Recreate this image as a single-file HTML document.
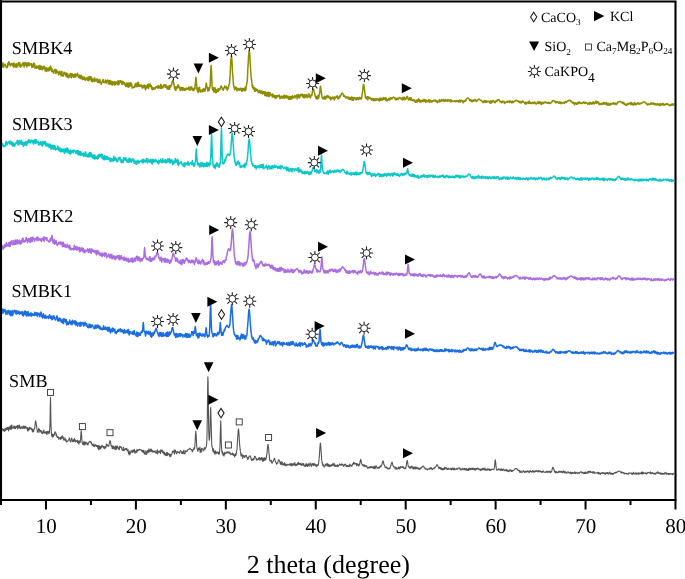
<!DOCTYPE html>
<html><head><meta charset="utf-8"><style>
html,body{margin:0;padding:0;background:#fff;width:685px;height:579px;overflow:hidden;}
svg{display:block;font-family:"Liberation Serif",serif;will-change:transform;text-rendering:geometricPrecision;}
</style></head><body>
<svg width="685" height="579" viewBox="0 0 685 579" font-family="'Liberation Serif', serif" fill="#000">
<polyline points="1.0,66.1 1.3,67.9 1.7,67.0 2.0,64.3 2.4,64.7 2.7,67.1 3.0,62.7 3.4,67.2 3.7,67.0 4.1,65.4 4.4,65.0 4.7,65.0 5.1,64.1 5.4,65.1 5.8,66.2 6.1,66.4 6.4,67.7 6.8,66.6 7.1,65.9 7.5,67.5 7.8,63.3 8.1,63.4 8.5,64.7 8.8,61.8 9.2,62.3 9.5,63.8 9.8,63.7 10.2,66.1 10.5,65.0 10.9,64.3 11.2,64.6 11.5,63.4 11.9,63.5 12.2,64.1 12.6,65.9 12.9,64.0 13.2,64.9 13.6,63.0 13.9,67.2 14.3,63.7 14.6,63.5 14.9,66.6 15.3,64.5 15.6,66.8 16.0,65.9 16.3,67.3 16.6,63.4 17.0,64.7 17.3,65.0 17.7,66.8 18.0,63.9 18.3,65.0 18.7,62.6 19.0,64.3 19.4,63.8 19.7,62.8 20.0,66.6 20.4,64.2 20.7,67.2 21.1,65.2 21.4,65.4 21.7,66.0 22.1,65.3 22.4,63.3 22.8,64.8 23.1,63.5 23.4,64.4 23.8,62.5 24.1,67.2 24.5,63.5 24.8,65.0 25.1,62.5 25.5,65.3 25.8,65.1 26.2,63.0 26.5,65.9 26.8,66.8 27.2,66.0 27.5,64.6 27.9,62.6 28.2,62.9 28.5,65.6 28.9,64.7 29.2,63.1 29.6,65.5 29.9,64.4 30.2,64.8 30.6,63.9 30.9,63.8 31.3,64.5 31.6,63.7 31.9,67.6 32.3,66.7 32.6,66.3 33.0,64.8 33.3,66.9 33.6,63.1 34.0,64.8 34.3,63.8 34.7,64.1 35.0,68.2 35.3,67.7 35.7,66.4 36.0,66.9 36.4,68.4 36.7,66.0 37.0,67.4 37.4,67.4 37.7,66.6 38.1,66.5 38.4,68.1 38.7,68.5 39.1,65.4 39.4,69.4 39.8,65.5 40.1,68.4 40.4,69.1 40.8,66.1 41.1,67.5 41.5,69.3 41.8,66.2 42.1,68.4 42.5,69.7 42.8,68.3 43.2,69.0 43.5,66.6 43.8,66.3 44.2,68.3 44.5,66.5 44.9,68.4 45.2,71.0 45.5,69.0 45.9,67.7 46.2,68.1 46.6,71.4 46.9,68.0 47.2,70.5 47.6,68.8 47.9,68.6 48.3,70.9 48.6,69.2 48.9,68.7 49.3,67.3 49.6,70.4 50.0,67.2 50.3,69.1 50.6,66.1 51.0,68.1 51.3,69.7 51.7,71.4 52.0,68.7 52.3,71.8 52.7,71.7 53.0,71.5 53.4,71.6 53.7,73.2 54.0,70.2 54.4,71.0 54.7,70.3 55.1,69.4 55.4,70.9 55.7,73.1 56.1,73.4 56.4,69.8 56.8,71.6 57.1,70.9 57.4,71.9 57.8,72.8 58.1,71.8 58.5,75.0 58.8,73.2 59.1,73.6 59.5,74.0 59.8,71.3 60.2,71.6 60.5,73.1 60.8,74.6 61.2,75.6 61.5,75.2 61.9,71.2 62.2,75.9 62.5,74.8 62.9,76.0 63.2,74.9 63.6,75.8 63.9,72.2 64.2,72.2 64.6,72.5 64.9,73.8 65.3,74.2 65.6,73.3 65.9,76.2 66.3,73.1 66.6,76.4 67.0,74.9 67.3,77.2 67.6,73.6 68.0,74.9 68.3,77.7 68.7,75.8 69.0,77.4 69.3,75.7 69.7,76.0 70.0,74.1 70.4,75.9 70.7,73.4 71.0,77.3 71.4,77.7 71.7,77.4 72.1,73.8 72.4,75.7 72.7,74.4 73.1,74.7 73.4,76.6 73.8,77.3 74.1,74.8 74.4,77.0 74.8,77.1 75.1,73.8 75.5,77.0 75.8,76.7 76.1,74.4 76.5,75.5 76.8,75.6 77.2,75.4 77.5,73.2 77.8,75.9 78.2,76.3 78.5,77.6 78.9,77.6 79.2,75.0 79.5,77.3 79.9,77.9 80.2,78.6 80.6,76.0 80.9,75.2 81.2,78.0 81.6,75.8 81.9,77.7 82.3,79.6 82.6,78.0 82.9,77.1 83.3,78.5 83.6,79.3 84.0,77.1 84.3,78.9 84.6,77.1 85.0,79.7 85.3,80.4 85.7,79.1 86.0,78.6 86.3,79.4 86.7,77.9 87.0,78.0 87.4,79.0 87.7,80.2 88.0,77.0 88.4,80.7 88.7,79.5 89.1,77.6 89.4,76.7 89.7,79.8 90.1,76.8 90.4,77.8 90.8,76.5 91.1,77.3 91.4,81.3 91.8,78.3 92.1,79.0 92.5,81.8 92.8,80.7 93.1,78.8 93.5,80.0 93.8,81.0 94.2,79.8 94.5,81.4 94.8,78.0 95.2,80.7 95.5,80.1 95.9,81.0 96.2,80.4 96.5,79.5 96.9,79.1 97.2,80.9 97.6,82.4 97.9,79.3 98.2,80.3 98.6,81.5 98.9,82.2 99.3,82.9 99.6,80.3 99.9,79.5 100.3,82.5 100.6,81.9 101.0,82.9 101.3,84.4 101.6,83.3 102.0,82.2 102.3,81.7 102.7,80.2 103.0,80.6 103.3,79.5 103.7,82.4 104.0,82.3 104.4,82.7 104.7,81.8 105.0,81.9 105.4,81.2 105.7,80.0 106.1,83.0 106.4,81.3 106.7,80.7 107.1,81.3 107.4,81.8 107.8,80.1 108.1,82.6 108.4,84.0 108.8,81.9 109.1,80.5 109.5,83.7 109.8,84.2 110.1,80.6 110.5,83.4 110.8,83.6 111.2,84.3 111.5,81.2 111.8,81.2 112.2,85.2 112.5,81.8 112.9,81.8 113.2,84.0 113.5,83.0 113.9,84.2 114.2,81.8 114.6,85.1 114.9,81.9 115.2,84.7 115.6,82.0 115.9,83.9 116.3,82.0 116.6,82.2 116.9,82.5 117.3,84.2 117.6,83.0 118.0,80.8 118.3,84.9 118.6,84.7 119.0,84.5 119.3,81.0 119.7,82.5 120.0,81.7 120.3,80.7 120.7,80.8 121.0,82.5 121.4,81.5 121.7,81.4 122.0,84.3 122.4,82.8 122.7,81.3 123.1,83.9 123.4,82.1 123.7,83.4 124.1,82.3 124.4,82.6 124.8,84.8 125.1,83.9 125.4,84.2 125.8,86.5 126.1,86.6 126.5,83.2 126.8,83.0 127.1,82.9 127.5,86.7 127.8,86.5 128.2,83.2 128.5,87.3 128.8,83.3 129.2,84.9 129.5,84.4 129.9,86.5 130.2,82.4 130.5,84.0 130.9,85.6 131.2,83.2 131.6,83.9 131.9,85.1 132.2,88.1 132.6,87.0 132.9,87.3 133.3,87.6 133.6,87.1 133.9,87.4 134.3,86.1 134.6,87.2 135.0,84.5 135.3,84.0 135.6,86.4 136.0,83.3 136.3,86.7 136.7,85.7 137.0,84.2 137.3,86.6 137.7,82.5 138.0,84.0 138.4,82.5 138.7,86.3 139.0,85.4 139.4,86.5 139.7,84.7 140.1,86.4 140.4,85.5 140.7,85.3 141.1,86.1 141.4,85.0 141.8,85.4 142.1,87.4 142.4,88.1 142.8,85.9 143.1,87.4 143.5,85.6 143.8,87.5 144.1,87.8 144.5,85.0 144.8,87.8 145.2,85.6 145.5,89.8 145.8,87.2 146.2,86.1 146.5,87.9 146.9,86.8 147.2,87.8 147.5,84.6 147.9,87.0 148.2,86.5 148.6,88.5 148.9,83.9 149.2,85.4 149.6,86.1 149.9,85.7 150.3,84.1 150.6,86.5 150.9,85.5 151.3,85.7 151.6,88.9 152.0,87.0 152.3,87.7 152.6,89.7 153.0,89.4 153.3,87.9 153.7,89.2 154.0,87.8 154.3,88.4 154.7,89.1 155.0,88.9 155.4,88.2 155.7,87.1 156.0,87.2 156.4,86.5 156.7,87.6 157.1,86.2 157.4,86.8 157.7,88.0 158.1,86.6 158.4,85.5 158.8,88.1 159.1,86.0 159.4,87.9 159.8,87.4 160.1,86.3 160.5,88.2 160.8,84.2 161.1,86.1 161.5,88.4 161.8,86.1 162.2,87.0 162.5,87.2 162.8,87.9 163.2,86.8 163.5,85.8 163.9,84.7 164.2,85.1 164.5,84.7 164.9,85.3 165.2,87.3 165.6,84.7 165.9,85.5 166.2,85.8 166.6,86.7 166.9,88.5 167.3,88.9 167.6,86.6 167.9,86.5 168.3,89.2 168.6,87.1 169.0,88.2 169.3,85.6 169.6,89.3 170.0,87.0 170.3,87.3 170.7,85.5 171.0,86.1 171.3,85.9 171.7,84.7 172.0,82.5 172.4,81.3 172.8,80.4 173.0,80.7 173.4,82.0 173.7,83.2 174.1,85.0 174.4,86.9 174.7,88.8 175.1,86.8 175.4,89.8 175.8,90.5 176.1,88.3 176.4,86.7 176.8,88.8 177.1,86.9 177.5,87.0 177.8,85.2 178.1,84.9 178.5,85.6 178.8,87.1 179.2,88.0 179.5,88.1 179.8,86.9 180.2,90.6 180.5,88.1 180.9,88.2 181.2,88.7 181.5,87.6 181.9,89.2 182.2,90.6 182.6,90.4 182.9,87.5 183.2,87.7 183.6,88.2 183.9,90.0 184.3,88.5 184.6,90.5 184.9,89.4 185.3,89.1 185.6,89.6 186.0,89.9 186.3,88.0 186.6,88.2 187.0,88.9 187.3,88.7 187.7,88.4 188.0,89.3 188.3,89.6 188.7,87.4 189.0,87.0 189.4,88.0 189.7,87.9 190.0,90.3 190.4,86.9 190.7,87.5 191.1,88.4 191.4,89.0 191.7,86.8 192.1,89.8 192.4,88.4 192.8,88.9 193.1,90.6 193.4,88.5 193.8,90.6 194.1,88.2 194.5,89.0 194.8,89.2 195.1,85.8 195.5,82.2 195.9,77.3 196.2,79.5 196.5,83.9 196.8,88.5 197.2,90.2 197.5,91.0 197.9,88.1 198.2,92.6 198.5,91.4 198.9,87.7 199.2,89.0 199.6,87.2 199.9,91.0 200.2,91.7 200.6,92.0 200.9,90.3 201.3,90.8 201.6,90.2 201.9,90.0 202.3,91.8 202.6,89.8 203.0,89.2 203.3,89.8 203.6,88.4 204.0,91.5 204.3,91.2 204.7,89.3 205.0,91.1 205.3,89.7 205.7,87.4 206.0,84.4 206.3,83.1 206.7,85.5 207.0,87.6 207.4,88.4 207.7,90.9 208.1,87.8 208.4,90.7 208.7,90.0 209.1,90.5 209.4,88.6 209.8,86.6 210.1,87.0 210.4,79.4 210.8,70.0 211.1,65.6 211.5,71.5 211.8,79.8 212.1,85.4 212.5,89.8 212.8,88.8 213.2,90.4 213.5,87.8 213.8,91.9 214.2,88.4 214.5,90.4 214.9,87.5 215.2,91.3 215.5,92.7 215.9,89.4 216.2,90.2 216.6,92.5 216.9,90.9 217.2,89.6 217.6,90.1 217.9,89.3 218.3,91.4 218.6,88.7 218.9,90.1 219.3,90.0 219.6,89.9 220.0,88.3 220.3,88.4 220.6,87.3 221.0,86.2 221.2,85.8 221.3,86.7 221.7,87.0 222.0,87.4 222.3,89.2 222.7,88.5 223.0,88.6 223.4,90.2 223.7,88.6 224.0,87.9 224.4,87.4 224.7,86.1 225.1,87.4 225.4,87.7 225.7,87.1 226.1,86.3 226.4,88.6 226.8,87.4 227.1,90.0 227.4,90.1 227.8,87.7 228.1,88.7 228.5,87.7 228.8,85.7 229.1,84.4 229.5,84.1 229.8,79.0 230.2,74.0 230.5,66.7 230.8,61.4 231.2,57.4 231.4,56.5 231.5,56.1 231.9,59.7 232.2,65.3 232.5,72.3 232.9,76.8 233.2,81.3 233.6,85.7 233.9,86.9 234.2,87.5 234.6,89.9 234.9,88.8 235.3,87.0 235.6,88.7 235.9,87.5 236.3,87.5 236.6,89.0 237.0,90.8 237.3,88.4 237.6,88.6 238.0,88.2 238.3,89.4 238.7,90.0 239.0,89.3 239.3,90.3 239.7,89.0 240.0,88.3 240.4,89.7 240.7,89.4 241.0,88.2 241.4,90.5 241.7,91.3 242.1,88.5 242.4,89.7 242.7,91.0 243.1,90.0 243.4,88.5 243.8,89.0 244.1,90.0 244.4,90.5 244.8,89.8 245.1,87.2 245.5,90.7 245.8,90.2 246.1,86.3 246.5,85.7 246.8,82.9 247.2,81.7 247.5,77.4 247.8,69.3 248.2,63.5 248.5,56.9 248.9,52.3 249.2,50.6 249.5,51.7 249.9,56.4 250.2,62.8 250.6,69.0 250.9,74.8 251.2,78.1 251.6,80.1 251.9,83.2 252.3,86.9 252.6,87.4 252.9,85.6 253.3,88.6 253.6,87.5 254.0,89.3 254.3,87.7 254.6,91.3 255.0,88.2 255.3,89.4 255.7,91.0 256.0,89.8 256.3,89.0 256.7,89.7 257.0,90.4 257.4,89.6 257.7,91.2 258.0,90.5 258.4,92.5 258.7,91.9 259.1,92.8 259.4,91.9 259.7,90.3 260.1,92.3 260.4,93.0 260.8,91.6 261.1,91.1 261.4,93.0 261.8,91.1 262.1,93.2 262.5,94.0 262.8,92.0 263.1,93.4 263.5,92.5 263.8,91.5 264.2,93.1 264.5,94.0 264.8,95.5 265.2,91.8 265.5,95.4 265.9,94.3 266.2,92.7 266.5,96.0 266.9,94.6 267.2,92.4 267.6,96.1 267.9,92.5 268.2,92.2 268.6,93.4 268.9,96.6 269.3,92.5 269.6,96.1 269.9,95.5 270.3,93.1 270.6,94.9 271.0,94.3 271.3,94.5 271.6,95.3 272.0,95.4 272.3,96.9 272.7,93.9 273.0,96.8 273.3,95.3 273.7,97.0 274.0,97.2 274.4,97.5 274.7,95.3 275.0,96.0 275.4,98.1 275.7,98.3 276.1,95.7 276.4,97.8 276.7,95.8 277.1,95.6 277.4,96.8 277.8,96.1 278.1,95.9 278.4,95.6 278.8,96.3 279.1,96.0 279.5,95.1 279.8,98.5 280.1,97.9 280.5,98.4 280.8,98.2 281.2,96.8 281.5,96.2 281.8,96.2 282.2,96.3 282.5,98.2 282.9,96.5 283.2,96.2 283.5,97.9 283.9,95.6 284.2,95.2 284.6,98.0 284.9,98.2 285.2,96.5 285.6,97.1 285.9,95.4 286.3,96.7 286.6,97.8 286.9,95.8 287.3,96.8 287.6,97.8 288.0,97.6 288.3,96.4 288.6,99.1 289.0,96.3 289.3,99.6 289.7,97.1 290.0,97.2 290.3,96.9 290.7,99.2 291.0,96.6 291.4,98.0 291.7,98.9 292.0,98.7 292.4,95.8 292.7,97.9 293.1,97.6 293.4,97.7 293.7,96.8 294.1,97.0 294.4,96.0 294.8,96.3 295.1,97.8 295.4,95.7 295.8,96.2 296.1,96.2 296.5,95.4 296.8,94.9 297.1,99.0 297.5,96.6 297.8,95.2 298.2,96.9 298.5,94.4 298.8,95.0 299.2,97.9 299.5,97.7 299.9,97.2 300.2,94.9 300.5,95.5 300.9,94.2 301.2,94.8 301.6,94.3 301.9,94.5 302.2,96.6 302.6,94.3 302.9,95.0 303.3,97.7 303.6,95.7 303.9,95.3 304.3,94.6 304.6,97.7 305.0,97.4 305.3,96.5 305.6,96.8 306.0,94.5 306.3,95.0 306.7,96.0 307.0,97.7 307.3,96.9 307.7,96.0 308.0,95.4 308.4,93.9 308.7,96.9 309.0,93.9 309.4,95.0 309.7,96.8 310.1,97.4 310.4,97.9 310.7,96.7 311.1,95.5 311.4,94.9 311.8,95.5 312.1,94.1 312.4,91.3 312.8,90.4 313.2,89.0 313.5,89.4 313.8,90.6 314.1,91.4 314.5,93.4 314.8,94.0 315.2,96.2 315.5,96.6 315.8,98.0 316.2,98.7 316.5,96.6 316.9,97.0 317.2,99.1 317.5,97.3 317.9,95.9 318.2,95.6 318.6,98.4 318.9,96.8 319.2,94.5 319.6,93.5 319.9,90.5 320.3,86.9 320.5,86.3 320.9,89.5 321.3,91.8 321.6,94.5 322.0,96.6 322.3,98.0 322.6,98.7 323.0,97.9 323.3,98.5 323.7,97.4 324.0,99.2 324.3,96.3 324.7,98.7 325.0,96.7 325.4,98.0 325.7,99.1 326.0,97.8 326.4,96.3 326.7,96.8 327.1,97.5 327.4,95.5 327.7,95.8 328.1,95.7 328.4,97.4 328.8,96.7 329.1,97.7 329.4,97.0 329.8,98.4 330.1,97.1 330.5,99.3 330.8,99.8 331.1,97.8 331.5,98.0 331.8,98.9 332.2,97.2 332.5,98.5 332.8,96.9 333.2,98.2 333.5,97.5 333.9,98.5 334.2,99.9 334.5,96.9 334.9,99.0 335.2,98.0 335.6,97.5 335.9,97.2 336.2,96.5 336.6,96.8 336.9,97.5 337.3,95.8 337.6,98.1 337.9,98.8 338.3,98.7 338.6,98.7 339.0,98.0 339.3,96.2 339.6,97.8 340.0,95.5 340.3,96.6 340.7,95.7 341.0,94.7 341.3,93.9 341.7,93.3 342.1,93.2 342.4,93.2 342.7,93.4 343.0,94.0 343.4,95.2 343.7,96.2 344.1,95.5 344.4,95.4 344.7,96.7 345.1,96.3 345.4,96.7 345.8,97.9 346.1,97.4 346.4,97.6 346.8,96.9 347.1,97.7 347.5,97.1 347.8,97.4 348.1,97.8 348.5,99.1 348.8,96.9 349.2,98.5 349.5,98.1 349.8,99.6 350.2,97.8 350.5,98.5 350.9,99.5 351.2,98.6 351.5,96.9 351.9,97.3 352.2,100.3 352.6,97.5 352.9,98.3 353.2,100.4 353.6,97.7 353.9,97.5 354.3,98.2 354.6,97.8 354.9,98.9 355.3,99.4 355.6,98.7 356.0,98.0 356.3,99.7 356.6,99.8 357.0,99.5 357.3,97.4 357.7,98.4 358.0,99.0 358.3,98.4 358.7,99.6 359.0,97.8 359.4,98.7 359.7,97.2 360.0,98.4 360.4,99.1 360.7,99.0 361.1,97.6 361.4,98.9 361.7,97.2 362.1,95.1 362.4,92.6 362.8,90.0 363.1,86.3 363.4,84.5 363.6,84.4 363.8,84.5 364.1,86.9 364.5,89.7 364.8,92.6 365.1,94.5 365.5,97.6 365.8,96.3 366.2,98.3 366.5,97.9 366.8,99.0 367.2,99.1 367.5,96.8 367.9,99.9 368.2,98.2 368.5,97.0 368.9,98.3 369.2,97.2 369.6,98.6 369.9,97.7 370.2,98.1 370.6,98.1 370.9,98.9 371.3,99.7 371.6,100.2 371.9,98.6 372.3,99.2 372.6,98.4 373.0,99.2 373.3,100.6 373.6,98.8 374.0,100.6 374.3,100.2 374.7,99.1 375.0,100.5 375.3,99.0 375.7,100.6 376.0,98.4 376.4,99.0 376.7,99.9 377.0,99.6 377.4,98.9 377.7,99.6 378.1,99.0 378.4,100.4 378.7,100.3 379.1,101.0 379.4,98.3 379.8,99.6 380.1,100.6 380.4,99.1 380.8,100.1 381.1,98.1 381.5,100.1 381.8,99.3 382.1,100.4 382.5,99.9 382.8,99.7 383.2,97.5 383.5,99.5 383.8,97.9 384.2,98.1 384.5,98.1 384.9,99.0 385.2,99.2 385.5,100.2 385.9,97.6 386.2,98.7 386.6,98.8 386.9,100.9 387.2,99.8 387.6,99.7 387.9,100.2 388.3,99.4 388.6,99.0 388.9,98.5 389.3,99.8 389.6,100.1 390.0,99.9 390.3,97.8 390.6,98.8 391.0,97.9 391.3,98.8 391.7,98.6 392.0,99.2 392.3,97.8 392.7,97.5 393.0,97.4 393.4,97.1 393.5,97.0 393.7,97.0 394.0,97.6 394.4,97.7 394.7,98.7 395.1,97.9 395.4,98.1 395.7,99.7 396.1,98.4 396.4,99.8 396.8,99.4 397.1,99.2 397.4,98.2 397.8,99.5 398.1,98.4 398.5,99.0 398.8,98.2 399.1,97.5 399.4,97.4 399.8,98.0 400.2,98.1 400.5,97.9 400.8,98.7 401.2,98.2 401.5,98.4 401.9,99.4 402.2,99.9 402.5,100.0 402.9,97.6 403.2,98.4 403.6,98.6 403.9,99.6 404.2,97.0 404.6,98.3 404.9,99.7 405.3,98.6 405.6,98.4 405.9,99.2 406.3,98.4 406.6,98.0 407.0,96.5 407.2,96.3 407.6,97.1 408.0,98.6 408.3,98.6 408.7,100.0 409.0,99.9 409.3,99.7 409.7,97.9 410.0,97.5 410.4,98.4 410.7,100.2 411.0,99.5 411.4,98.0 411.7,99.9 412.1,100.5 412.4,100.5 412.7,100.1 413.1,100.7 413.4,100.6 413.8,99.9 414.1,99.6 414.4,101.1 414.8,100.3 415.1,100.6 415.5,102.2 415.8,101.1 416.1,100.8 416.5,102.0 416.8,100.1 417.2,102.0 417.5,101.5 417.8,100.0 418.2,99.6 418.5,98.9 418.9,101.2 419.2,99.4 419.5,99.6 419.9,101.9 420.2,101.8 420.6,102.0 420.9,102.3 421.2,100.4 421.6,100.5 421.9,101.4 422.3,100.1 422.6,100.7 422.9,101.3 423.3,101.4 423.6,100.7 424.0,99.3 424.3,99.8 424.6,101.4 425.0,100.1 425.3,101.0 425.7,99.9 426.0,102.3 426.3,100.5 426.7,100.3 427.0,100.9 427.4,101.2 427.7,101.6 428.0,101.2 428.4,100.2 428.7,99.9 429.1,101.4 429.4,102.2 429.7,100.1 430.1,101.9 430.4,100.3 430.8,101.0 431.1,101.4 431.4,101.4 431.8,102.2 432.1,101.4 432.5,100.7 432.8,101.4 433.1,100.9 433.5,100.8 433.8,100.2 434.2,100.9 434.5,100.5 434.8,100.4 435.2,100.0 435.5,101.2 435.9,100.5 436.2,101.8 436.5,102.0 436.9,101.1 437.2,101.9 437.6,102.6 437.9,101.1 438.2,101.2 438.6,100.9 438.9,101.1 439.3,101.9 439.6,99.5 439.9,101.8 440.3,101.1 440.6,101.2 441.0,100.9 441.3,101.1 441.6,99.6 442.0,100.6 442.3,99.9 442.7,100.5 443.0,100.7 443.3,99.9 443.7,99.4 444.0,101.4 444.4,101.3 444.7,100.8 445.0,100.3 445.4,100.9 445.7,99.6 446.1,100.9 446.4,101.0 446.7,101.0 447.1,100.5 447.4,99.8 447.8,101.2 448.1,100.2 448.4,100.8 448.8,100.3 449.1,99.7 449.5,100.5 449.8,100.4 450.1,101.3 450.5,101.6 450.8,99.7 451.2,101.7 451.5,100.2 451.8,101.6 452.2,100.8 452.5,101.0 452.9,101.2 453.2,101.5 453.5,101.5 453.9,101.2 454.2,101.3 454.6,100.7 454.9,101.4 455.2,101.1 455.6,101.8 455.9,101.4 456.3,101.4 456.6,100.4 456.9,101.4 457.3,101.1 457.6,101.3 458.0,100.6 458.3,101.7 458.6,102.0 459.0,101.0 459.3,100.3 459.7,101.7 460.0,100.5 460.3,102.0 460.7,100.3 461.0,101.1 461.4,101.0 461.7,100.2 462.0,100.9 462.4,100.8 462.7,102.0 463.1,102.8 463.4,101.6 463.7,101.9 464.1,100.6 464.4,101.5 464.8,101.0 465.1,100.5 465.4,101.1 465.8,100.7 466.1,99.3 466.5,99.0 466.8,98.9 467.1,98.4 467.5,97.9 467.7,97.9 467.8,98.0 468.2,98.1 468.5,98.5 468.8,98.6 469.2,99.1 469.5,99.8 469.9,100.7 470.2,99.8 470.5,100.0 470.9,99.6 471.2,101.2 471.6,100.4 471.9,101.8 472.2,100.3 472.6,101.3 472.9,101.4 473.3,100.7 473.6,99.9 473.9,100.8 474.3,100.9 474.6,99.8 475.0,99.6 475.3,100.1 475.6,99.8 476.0,101.1 476.3,101.5 476.7,101.2 477.0,101.0 477.3,100.6 477.7,99.8 478.0,99.9 478.4,99.5 478.7,99.2 479.0,99.1 479.4,99.4 479.7,99.4 480.1,100.0 480.4,100.3 480.7,100.3 481.1,100.6 481.4,100.5 481.8,101.2 482.1,101.2 482.4,101.2 482.8,102.5 483.1,102.2 483.5,101.7 483.8,102.5 484.1,100.7 484.5,101.6 484.8,100.6 485.2,101.2 485.5,102.4 485.8,100.5 486.2,101.8 486.5,102.3 486.9,101.2 487.2,102.1 487.5,101.3 487.9,101.4 488.2,101.6 488.6,101.2 488.9,101.2 489.2,101.5 489.6,102.9 489.9,101.5 490.3,101.2 490.6,103.0 490.9,100.8 491.3,103.1 491.6,102.6 492.0,102.5 492.3,101.4 492.6,100.9 493.0,100.4 493.3,100.9 493.7,100.9 494.0,101.4 494.3,102.5 494.7,101.6 495.0,102.8 495.4,102.4 495.7,101.1 496.0,101.8 496.4,100.8 496.7,100.5 497.1,101.1 497.4,100.2 497.7,99.9 498.1,99.6 498.4,99.7 498.8,99.7 499.1,99.8 499.4,100.8 499.8,100.7 500.1,101.7 500.5,101.6 500.8,101.8 501.1,102.1 501.5,101.8 501.8,102.9 502.2,102.6 502.5,100.9 502.8,102.0 503.2,101.7 503.5,101.6 503.9,101.4 504.2,101.4 504.5,103.4 504.9,103.0 505.2,102.9 505.6,102.3 505.9,102.1 506.2,101.9 506.6,102.2 506.9,101.6 507.3,101.8 507.6,102.4 507.9,101.1 508.3,101.5 508.6,101.3 509.0,102.0 509.3,102.4 509.6,102.2 510.0,100.8 510.3,101.2 510.7,101.5 511.0,101.5 511.3,102.4 511.7,102.9 512.0,102.3 512.4,101.1 512.7,101.5 513.0,102.5 513.4,102.6 513.7,102.0 514.1,101.4 514.4,101.2 514.7,101.3 515.1,101.2 515.4,100.6 515.8,100.4 516.1,100.3 516.4,100.3 516.8,100.6 517.1,100.6 517.5,101.2 517.8,100.8 518.1,101.2 518.5,101.8 518.8,101.9 519.2,101.4 519.5,102.0 519.8,102.5 520.2,102.3 520.5,102.1 520.9,101.3 521.2,103.1 521.5,102.1 521.9,102.5 522.2,102.2 522.6,101.0 522.9,101.7 523.2,101.3 523.6,102.1 523.9,102.1 524.3,102.9 524.6,102.7 524.9,102.7 525.3,104.0 525.6,102.2 526.0,102.5 526.3,104.0 526.6,103.1 527.0,102.9 527.3,102.4 527.7,102.8 528.0,102.1 528.3,103.5 528.7,103.0 529.0,101.9 529.4,101.0 529.7,103.3 530.0,102.1 530.4,102.7 530.7,103.6 531.1,103.5 531.4,103.5 531.7,102.7 532.1,103.5 532.4,102.9 532.8,102.2 533.1,102.8 533.4,102.8 533.8,103.4 534.1,103.6 534.5,102.0 534.8,102.0 535.1,102.7 535.5,103.0 535.8,103.8 536.2,103.9 536.5,104.0 536.8,103.4 537.2,102.9 537.5,102.1 537.9,102.2 538.2,101.8 538.5,103.6 538.9,102.4 539.2,101.8 539.6,102.4 539.9,102.7 540.2,103.7 540.6,102.1 540.9,102.8 541.3,104.3 541.6,104.1 541.9,103.3 542.3,102.9 542.6,102.4 543.0,103.8 543.3,103.4 543.6,102.8 544.0,102.1 544.3,102.4 544.7,102.7 545.0,102.6 545.3,101.9 545.7,102.7 546.0,102.9 546.4,102.3 546.7,102.5 547.0,102.6 547.4,102.9 547.7,103.3 548.1,103.2 548.4,102.3 548.7,103.4 549.1,102.6 549.4,102.6 549.8,103.4 550.1,103.2 550.4,103.4 550.8,103.2 551.1,102.6 551.5,102.4 551.8,101.5 552.1,101.8 552.5,101.1 552.8,100.8 553.2,100.5 553.4,100.5 553.8,100.5 554.2,101.1 554.5,101.7 554.9,101.9 555.2,101.6 555.5,102.8 555.9,102.9 556.2,101.5 556.6,101.9 556.9,102.2 557.2,102.3 557.6,101.8 557.9,102.4 558.3,102.0 558.6,103.2 558.9,102.6 559.3,102.9 559.6,102.0 560.0,103.3 560.3,103.4 560.6,103.5 561.0,102.1 561.3,103.7 561.7,103.3 562.0,102.5 562.3,102.9 562.7,102.8 563.0,103.0 563.4,102.4 563.7,102.6 564.0,102.5 564.4,103.5 564.7,102.7 565.1,101.6 565.4,102.3 565.7,101.7 566.1,101.5 566.4,102.5 566.8,101.5 567.1,101.5 567.4,101.2 567.8,100.8 568.1,101.0 568.5,100.8 568.8,100.2 569.1,100.2 569.3,100.2 569.5,100.2 569.8,100.4 570.2,100.7 570.5,101.1 570.8,101.4 571.2,101.0 571.5,101.5 571.9,102.0 572.2,102.7 572.5,102.3 572.9,102.7 573.2,103.5 573.6,102.3 573.9,102.7 574.2,103.2 574.6,104.8 574.9,103.2 575.3,102.8 575.6,103.6 575.9,103.6 576.3,103.1 576.6,104.3 577.0,102.9 577.3,103.8 577.6,102.4 578.0,103.9 578.3,102.5 578.7,103.6 579.0,103.3 579.3,102.0 579.7,102.0 580.0,102.8 580.4,103.2 580.7,103.0 581.0,103.6 581.4,103.3 581.7,103.5 582.1,102.9 582.4,103.2 582.7,102.6 583.1,102.3 583.4,102.2 583.8,102.0 584.1,102.3 584.4,103.6 584.8,102.4 585.1,102.5 585.5,103.1 585.8,102.5 586.1,102.3 586.5,102.7 586.8,103.0 587.2,103.5 587.5,103.8 587.8,104.1 588.2,103.2 588.5,103.7 588.9,103.3 589.2,102.7 589.5,104.4 589.9,102.3 590.2,102.6 590.6,103.4 590.9,103.7 591.2,102.9 591.6,104.0 591.9,103.0 592.3,103.4 592.6,102.2 592.9,103.8 593.3,101.9 593.6,102.5 594.0,103.6 594.3,103.8 594.6,103.4 595.0,103.2 595.3,102.2 595.7,101.4 596.0,102.4 596.3,101.4 596.7,103.4 597.0,101.6 597.4,102.2 597.7,102.2 598.0,101.7 598.4,103.0 598.7,102.5 599.1,104.5 599.4,104.1 599.7,103.7 600.1,104.4 600.4,104.3 600.8,103.5 601.1,104.4 601.4,104.5 601.8,103.6 602.1,103.3 602.5,104.1 602.8,104.3 603.1,102.8 603.5,102.6 603.8,103.9 604.2,103.8 604.5,102.5 604.8,103.5 605.2,103.2 605.5,104.3 605.9,103.3 606.2,103.1 606.5,102.6 606.9,103.8 607.2,105.2 607.6,103.5 607.9,104.3 608.2,105.2 608.6,103.3 608.9,104.0 609.3,105.0 609.6,103.9 609.9,104.9 610.3,105.0 610.6,103.6 611.0,103.9 611.3,103.8 611.6,104.4 612.0,103.4 612.3,103.6 612.7,103.4 613.0,103.2 613.3,102.8 613.7,103.9 614.0,104.3 614.4,103.1 614.7,103.9 615.0,103.6 615.4,103.1 615.7,103.8 616.1,104.7 616.4,103.6 616.7,103.5 617.1,103.7 617.4,102.6 617.8,102.7 618.1,101.8 618.4,102.0 618.8,101.7 619.1,101.5 619.4,101.5 619.8,101.6 620.1,101.8 620.5,101.6 620.8,102.1 621.2,102.1 621.5,102.2 621.8,102.6 622.2,103.1 622.5,103.2 622.9,102.1 623.2,103.6 623.5,102.4 623.9,102.7 624.2,104.1 624.6,104.4 624.9,104.2 625.2,104.0 625.6,104.2 625.9,105.2 626.3,104.3 626.6,105.2 626.9,105.0 627.3,103.9 627.6,104.7 628.0,103.3 628.3,104.4 628.6,104.0 629.0,103.5 629.3,103.6 629.7,103.5 630.0,103.8 630.3,102.7 630.7,104.4 631.0,104.4 631.4,102.6 631.7,104.6 632.0,103.6 632.4,103.4 632.7,104.7 633.1,104.0 633.4,104.9 633.7,104.9 634.1,104.0 634.4,102.6 634.8,104.4 635.1,104.2 635.4,104.6 635.8,103.2 636.1,104.3 636.5,104.4 636.8,103.6 637.1,103.8 637.5,103.7 637.8,102.8 638.2,103.4 638.5,103.7 638.8,103.0 639.2,104.3 639.5,103.9 639.9,103.8 640.2,103.3 640.5,103.2 640.9,103.8 641.2,103.0 641.6,103.2 641.9,102.9 642.2,102.9 642.6,102.8 642.9,102.2 643.3,102.1 643.6,102.0 644.0,101.8 644.3,102.2 644.6,102.1 645.0,102.3 645.3,102.8 645.6,103.2 646.0,103.4 646.3,104.0 646.7,103.2 647.0,104.2 647.3,104.5 647.7,104.9 648.0,104.6 648.4,104.5 648.7,103.7 649.0,104.2 649.4,104.0 649.7,104.5 650.1,104.3 650.4,103.8 650.7,104.3 651.1,102.7 651.4,104.1 651.8,103.3 652.1,103.9 652.4,103.2 652.8,103.6 653.1,104.2 653.5,102.9 653.8,103.3 654.1,103.9 654.5,104.8 654.8,103.7 655.2,104.8 655.5,103.9 655.8,103.7 656.2,104.0 656.5,104.4 656.9,105.0 657.2,104.8 657.5,103.8 657.9,104.6 658.2,104.5 658.6,104.0 658.9,104.9 659.2,105.5 659.6,104.2 659.9,105.5 660.3,103.5 660.6,103.7 660.9,105.1 661.3,104.1 661.6,104.6 662.0,104.1 662.3,103.6 662.6,104.5 663.0,105.0 663.3,103.5 663.7,103.9 664.0,104.8 664.3,105.2 664.7,105.1 665.0,104.7 665.4,104.3 665.7,104.5 666.0,103.8 666.4,104.5 666.7,104.2 667.1,103.8 667.4,104.1 667.7,103.8 668.1,104.3 668.4,104.8 668.8,104.9 669.1,105.3 669.4,105.5 669.8,104.8 670.1,105.7 670.5,104.8 670.8,105.2 671.1,104.1 671.5,104.4 671.8,105.3 672.2,104.7 672.5,104.1 672.8,105.0 673.2,103.8 673.5,105.0 673.9,103.3" fill="none" stroke="#8e8c00" stroke-width="1.5" stroke-linejoin="round"/><polyline points="1.0,144.9 1.3,145.5 1.7,145.8 2.0,144.4 2.4,145.1 2.7,143.6 3.0,144.6 3.4,146.4 3.7,145.6 4.1,146.6 4.4,145.8 4.7,146.3 5.1,145.2 5.4,144.4 5.8,142.7 6.1,141.3 6.4,145.1 6.8,144.1 7.1,144.4 7.5,143.2 7.8,142.6 8.1,142.9 8.5,142.1 8.8,142.8 9.2,141.3 9.5,142.6 9.8,143.8 10.2,143.0 10.5,141.3 10.9,141.9 11.2,144.7 11.5,141.9 11.9,144.9 12.2,142.6 12.6,145.9 12.9,143.4 13.2,145.9 13.6,142.9 13.9,143.8 14.3,145.6 14.6,146.3 14.9,144.5 15.3,144.6 15.6,144.3 16.0,142.7 16.3,142.6 16.6,142.9 17.0,141.6 17.3,140.3 17.7,144.0 18.0,140.4 18.3,145.0 18.7,144.0 19.0,142.6 19.4,144.0 19.7,140.6 20.0,142.7 20.4,141.7 20.7,141.5 21.1,144.2 21.4,140.4 21.7,143.9 22.1,141.8 22.4,144.3 22.8,143.0 23.1,144.1 23.4,146.6 23.8,145.3 24.1,142.4 24.5,143.5 24.8,144.3 25.1,145.0 25.5,141.4 25.8,144.5 26.2,145.1 26.5,145.5 26.8,141.8 27.2,141.6 27.5,144.0 27.9,142.0 28.2,141.0 28.5,139.8 28.9,139.6 29.2,142.3 29.6,142.2 29.9,140.6 30.2,143.0 30.6,141.5 30.9,141.5 31.3,140.9 31.6,140.1 31.9,140.7 32.3,142.7 32.6,140.7 33.0,140.6 33.3,141.0 33.6,144.2 34.0,143.2 34.3,139.9 34.7,141.8 35.0,141.7 35.3,139.5 35.7,143.1 36.0,143.7 36.4,140.0 36.7,142.6 37.0,141.6 37.4,141.8 37.7,142.1 38.1,141.4 38.4,144.7 38.7,142.9 39.1,144.7 39.4,144.9 39.8,143.8 40.1,142.3 40.4,141.8 40.8,144.3 41.1,144.1 41.5,145.1 41.8,142.3 42.1,141.6 42.5,146.1 42.8,145.2 43.2,142.1 43.5,144.1 43.8,141.4 44.2,143.4 44.5,143.8 44.9,143.9 45.2,141.2 45.5,145.0 45.9,145.7 46.2,145.9 46.6,144.9 46.9,143.2 47.2,146.2 47.6,145.5 47.9,145.5 48.3,145.9 48.6,144.0 48.9,147.0 49.3,147.4 49.6,144.2 50.0,146.2 50.3,144.2 50.6,146.0 51.0,149.3 51.3,145.2 51.7,145.7 52.0,148.8 52.3,145.3 52.7,145.4 53.0,148.6 53.4,145.4 53.7,147.9 54.0,149.3 54.4,147.4 54.7,145.5 55.1,146.6 55.4,148.7 55.7,150.0 56.1,149.2 56.4,149.3 56.8,148.9 57.1,147.8 57.4,149.1 57.8,146.1 58.1,148.0 58.5,150.3 58.8,148.0 59.1,150.5 59.5,150.4 59.8,148.0 60.2,151.6 60.5,148.8 60.8,151.8 61.2,148.9 61.5,150.8 61.9,151.6 62.2,151.0 62.5,149.3 62.9,149.0 63.2,151.0 63.6,151.9 63.9,148.9 64.2,150.8 64.6,153.3 64.9,151.5 65.3,148.8 65.6,151.7 65.9,150.2 66.3,152.1 66.6,150.0 67.0,147.9 67.3,148.6 67.6,148.1 68.0,152.8 68.3,150.2 68.7,150.0 69.0,153.3 69.3,150.7 69.7,152.1 70.0,153.5 70.4,154.1 70.7,149.9 71.0,151.6 71.4,150.6 71.7,152.8 72.1,151.1 72.4,150.8 72.7,150.8 73.1,150.2 73.4,152.9 73.8,150.5 74.1,151.1 74.4,150.3 74.8,151.0 75.1,151.1 75.5,151.2 75.8,153.5 76.1,150.9 76.5,153.1 76.8,151.6 77.2,150.5 77.5,150.7 77.8,154.5 78.2,150.5 78.5,151.4 78.9,155.0 79.2,151.4 79.5,151.8 79.9,152.5 80.2,155.0 80.6,151.6 80.9,155.5 81.2,152.6 81.6,154.2 81.9,155.2 82.3,153.8 82.6,154.1 82.9,154.4 83.3,153.0 83.6,156.6 84.0,153.8 84.3,154.6 84.6,154.5 85.0,155.8 85.3,152.5 85.7,151.8 86.0,156.4 86.3,154.0 86.7,154.9 87.0,155.6 87.4,156.1 87.7,156.9 88.0,156.2 88.4,153.4 88.7,157.0 89.1,153.5 89.4,156.7 89.7,152.4 90.1,155.9 90.4,155.3 90.8,152.5 91.1,156.7 91.4,156.1 91.8,154.2 92.1,157.4 92.5,156.9 92.8,155.8 93.1,158.6 93.5,155.2 93.8,155.0 94.2,158.3 94.5,155.1 94.8,159.1 95.2,155.6 95.5,158.5 95.9,157.1 96.2,158.1 96.5,158.3 96.9,156.6 97.2,157.1 97.6,159.0 97.9,155.3 98.2,158.6 98.6,158.1 98.9,155.3 99.3,154.4 99.6,155.3 99.9,156.7 100.3,155.5 100.6,154.4 101.0,156.4 101.3,154.0 101.6,156.3 102.0,158.0 102.3,154.6 102.7,157.4 103.0,158.4 103.3,159.5 103.7,156.8 104.0,157.2 104.4,159.7 104.7,155.7 105.0,159.1 105.4,157.2 105.7,156.6 106.1,159.4 106.4,157.1 106.7,156.8 107.1,156.2 107.4,159.3 107.8,159.1 108.1,157.8 108.4,158.1 108.8,157.8 109.1,159.8 109.5,158.2 109.8,159.8 110.1,161.4 110.5,158.3 110.8,161.6 111.2,159.4 111.5,160.2 111.8,158.7 112.2,160.7 112.5,160.7 112.9,160.1 113.2,161.2 113.5,158.2 113.9,156.3 114.2,160.6 114.6,158.9 114.9,160.0 115.2,160.1 115.6,157.6 115.9,159.1 116.3,158.7 116.6,160.8 116.9,161.7 117.3,161.2 117.6,161.7 118.0,159.7 118.3,157.9 118.6,159.5 119.0,157.8 119.3,158.1 119.7,158.1 120.0,157.1 120.3,160.7 120.7,160.8 121.0,161.8 121.4,162.6 121.7,159.7 122.0,162.5 122.4,162.0 122.7,161.4 123.1,162.6 123.4,160.3 123.7,157.7 124.1,157.7 124.4,158.4 124.8,160.1 125.1,159.9 125.4,159.9 125.8,157.7 126.1,159.5 126.5,160.8 126.8,161.7 127.1,160.6 127.5,159.9 127.8,160.2 128.2,162.3 128.5,161.5 128.8,158.8 129.2,162.2 129.5,158.1 129.9,159.2 130.2,158.9 130.5,161.5 130.9,159.7 131.2,161.1 131.6,162.3 131.9,159.7 132.2,159.0 132.6,159.9 132.9,160.4 133.3,158.9 133.6,158.9 133.9,161.8 134.3,163.2 134.6,162.7 135.0,161.1 135.3,161.1 135.6,162.9 136.0,163.9 136.3,161.1 136.7,164.2 137.0,163.6 137.3,160.9 137.7,162.4 138.0,160.2 138.4,161.0 138.7,161.8 139.0,163.3 139.4,161.3 139.7,161.5 140.1,161.4 140.4,161.4 140.7,161.4 141.1,160.5 141.4,161.6 141.8,160.6 142.1,162.3 142.4,159.5 142.8,163.1 143.1,162.7 143.5,159.3 143.8,162.2 144.1,160.3 144.5,160.7 144.8,160.4 145.2,161.7 145.5,161.0 145.8,161.6 146.2,160.1 146.5,158.6 146.9,160.8 147.2,163.0 147.5,158.9 147.9,162.1 148.2,159.6 148.6,161.6 148.9,160.2 149.2,161.6 149.6,160.8 149.9,162.3 150.3,159.8 150.6,160.0 150.9,161.9 151.3,159.4 151.6,163.3 152.0,161.0 152.3,164.1 152.6,159.6 153.0,162.4 153.3,159.8 153.7,159.8 154.0,160.9 154.3,161.6 154.7,161.9 155.0,161.7 155.4,159.6 155.7,161.8 156.0,159.9 156.4,160.6 156.7,161.6 157.1,161.8 157.4,161.7 157.7,163.1 158.1,163.1 158.4,160.2 158.8,163.9 159.1,161.8 159.4,161.7 159.8,160.5 160.1,160.4 160.5,161.5 160.8,158.9 161.1,162.2 161.5,160.9 161.8,162.5 162.2,162.7 162.5,162.5 162.8,158.8 163.2,161.8 163.5,160.6 163.9,162.0 164.2,161.5 164.5,161.1 164.9,162.2 165.2,159.4 165.6,162.1 165.9,162.9 166.2,162.5 166.6,162.3 166.9,160.1 167.3,162.0 167.6,160.2 167.9,158.7 168.3,160.4 168.6,161.8 169.0,161.7 169.3,162.1 169.6,158.4 170.0,163.1 170.3,162.5 170.7,160.6 171.0,162.0 171.3,159.7 171.7,160.7 172.0,160.1 172.4,163.0 172.7,164.4 173.0,164.3 173.4,161.2 173.7,163.4 174.1,162.7 174.4,161.1 174.7,163.1 175.1,161.3 175.4,158.6 175.8,160.6 176.1,161.5 176.4,162.1 176.8,160.1 177.1,162.0 177.5,159.5 177.8,164.3 178.1,160.1 178.5,165.6 178.8,163.5 179.2,163.8 179.5,163.6 179.8,162.8 180.2,163.0 180.5,162.1 180.9,162.8 181.2,161.7 181.5,162.1 181.9,164.1 182.2,164.5 182.6,164.6 182.9,164.2 183.2,166.2 183.6,165.9 183.9,163.4 184.3,164.1 184.6,166.8 184.9,162.8 185.3,164.8 185.6,163.4 186.0,164.1 186.3,163.7 186.6,163.2 187.0,162.7 187.3,164.9 187.7,162.8 188.0,161.5 188.3,163.9 188.7,163.9 189.0,165.3 189.4,163.9 189.7,163.3 190.0,163.2 190.4,162.9 190.7,162.7 191.1,163.2 191.4,164.4 191.7,162.9 192.1,162.1 192.4,160.5 192.8,164.7 193.1,162.8 193.4,164.5 193.8,166.4 194.1,166.3 194.5,164.1 194.8,165.4 195.1,162.3 195.5,161.8 195.8,156.0 196.2,149.5 196.3,149.1 196.5,150.3 196.8,157.7 197.2,160.7 197.5,164.6 197.9,162.5 198.2,164.3 198.5,163.8 198.9,165.9 199.2,163.5 199.6,165.2 199.9,167.1 200.2,163.2 200.6,165.9 200.9,162.9 201.3,165.8 201.6,166.6 201.9,162.6 202.3,165.4 202.6,163.5 203.0,163.6 203.3,166.8 203.6,164.2 204.0,163.5 204.3,163.9 204.7,166.0 205.0,166.5 205.3,163.7 205.7,164.4 206.0,164.6 206.4,166.2 206.7,162.2 207.0,165.0 207.4,166.4 207.7,163.6 208.1,162.8 208.4,165.6 208.7,163.4 209.1,163.2 209.4,166.0 209.8,164.2 210.1,164.8 210.4,161.4 210.8,157.0 211.1,146.1 211.5,136.0 211.6,134.4 211.8,137.4 212.1,148.4 212.5,159.1 212.8,162.9 213.2,166.0 213.5,165.3 213.8,167.0 214.2,167.5 214.5,165.4 214.9,167.2 215.2,168.4 215.5,164.2 215.9,165.4 216.2,166.5 216.6,164.5 216.9,162.6 217.2,164.7 217.6,164.2 217.9,166.0 218.3,165.8 218.6,166.7 218.9,164.3 219.3,167.2 219.6,166.5 220.0,163.2 220.3,162.9 220.6,156.6 221.0,141.9 221.4,128.0 221.7,133.8 222.0,149.4 222.3,158.6 222.7,161.7 223.0,163.9 223.4,162.7 223.7,163.4 224.0,163.3 224.4,162.5 224.7,160.1 225.1,159.4 225.4,161.0 225.7,159.5 226.1,157.3 226.4,156.4 226.8,156.1 227.1,155.0 227.4,154.8 227.8,153.9 228.0,154.4 228.1,154.2 228.5,154.2 228.8,154.7 229.1,155.3 229.5,155.2 229.8,155.2 230.2,153.5 230.5,151.2 230.8,149.3 231.2,144.8 231.5,139.7 231.9,135.1 232.3,133.3 232.5,134.4 232.9,138.1 233.2,143.5 233.6,149.5 233.9,153.1 234.2,157.8 234.6,159.3 234.9,161.8 235.3,163.4 235.6,162.3 235.9,165.0 236.3,165.5 236.6,163.8 237.0,164.2 237.3,162.4 237.6,161.8 238.0,163.4 238.3,160.9 238.7,163.6 239.0,164.4 239.3,162.7 239.7,163.6 240.0,166.4 240.4,167.4 240.7,165.7 241.0,165.9 241.4,166.8 241.7,167.1 242.1,166.0 242.4,166.0 242.7,166.1 243.1,166.6 243.4,165.3 243.8,166.7 244.1,164.2 244.4,164.3 244.8,167.7 245.1,163.7 245.5,165.1 245.8,165.8 246.1,162.5 246.5,163.8 246.8,160.9 247.2,160.3 247.5,157.7 247.8,153.9 248.2,149.0 248.5,144.1 248.9,140.4 249.2,138.9 249.5,140.2 249.9,144.5 250.2,148.2 250.6,154.3 250.9,156.7 251.2,160.8 251.6,161.4 251.9,163.8 252.3,164.2 252.6,163.7 252.9,165.9 253.3,165.6 253.6,165.5 254.0,165.5 254.3,165.7 254.6,167.6 255.0,166.2 255.3,165.6 255.7,166.5 256.0,168.1 256.3,168.9 256.7,166.9 257.0,166.1 257.4,167.2 257.7,165.9 258.0,167.0 258.4,166.6 258.7,165.7 259.1,167.2 259.4,166.5 259.7,167.9 260.1,166.2 260.4,164.7 260.8,166.7 261.1,167.6 261.4,166.0 261.8,164.7 262.1,165.5 262.5,167.7 262.8,165.9 263.1,164.2 263.5,167.4 263.8,168.8 264.2,168.2 264.5,168.0 264.8,168.0 265.2,166.8 265.5,166.7 265.9,166.9 266.2,165.9 266.5,165.2 266.9,167.9 267.2,167.2 267.6,169.3 267.9,166.7 268.2,167.1 268.6,165.9 268.9,165.7 269.3,166.4 269.6,167.7 269.9,169.0 270.3,166.5 270.6,166.3 271.0,168.5 271.3,166.9 271.6,166.0 272.0,168.9 272.3,165.5 272.7,166.4 273.0,166.9 273.3,167.0 273.7,167.9 274.0,166.7 274.4,165.1 274.7,165.2 275.0,167.6 275.4,167.2 275.7,165.9 276.1,166.4 276.4,167.1 276.7,166.4 277.1,167.0 277.4,166.9 277.8,168.2 278.1,166.4 278.4,167.9 278.8,166.7 279.1,166.4 279.5,168.2 279.8,167.3 280.1,167.9 280.5,165.8 280.8,169.0 281.2,167.2 281.5,166.1 281.8,166.9 282.2,166.3 282.5,166.0 282.9,167.3 283.2,167.9 283.5,168.1 283.9,168.5 284.2,167.7 284.6,167.7 284.9,167.3 285.2,167.6 285.6,168.1 285.9,168.9 286.3,167.1 286.6,169.7 286.9,170.7 287.3,168.8 287.6,167.6 288.0,167.6 288.3,169.5 288.6,170.7 289.0,171.3 289.3,170.9 289.7,171.5 290.0,168.6 290.3,169.7 290.7,169.7 291.0,168.7 291.4,170.2 291.7,169.9 292.0,171.9 292.4,168.4 292.7,169.5 293.1,168.8 293.4,169.0 293.7,168.9 294.1,169.2 294.4,171.2 294.8,169.2 295.1,169.9 295.4,169.1 295.8,168.7 296.1,169.9 296.5,170.2 296.8,169.5 297.1,169.2 297.5,169.1 297.8,167.9 298.2,171.7 298.5,167.8 298.8,170.2 299.2,172.1 299.5,169.4 299.9,169.3 300.2,170.4 300.5,171.5 300.9,170.5 301.2,170.0 301.6,172.2 301.9,172.9 302.2,171.4 302.6,172.6 302.9,173.4 303.3,172.2 303.6,172.1 303.9,173.3 304.3,172.6 304.6,171.4 305.0,173.9 305.3,171.8 305.6,172.7 306.0,172.1 306.3,173.2 306.7,172.1 307.0,172.8 307.3,171.7 307.7,171.3 308.0,173.4 308.4,173.4 308.7,172.5 309.0,174.6 309.4,174.0 309.7,174.4 310.1,171.8 310.4,174.2 310.7,174.1 311.1,173.7 311.4,171.5 311.8,171.5 312.1,171.2 312.4,169.5 312.8,167.9 313.2,167.4 313.5,168.0 313.8,168.8 314.1,169.1 314.5,170.4 314.8,171.4 315.2,171.0 315.5,171.6 315.8,171.7 316.2,169.5 316.5,170.3 316.9,172.8 317.2,170.0 317.5,170.3 317.9,172.1 318.2,172.5 318.6,171.8 318.9,173.2 319.2,170.7 319.6,170.2 319.9,172.5 320.3,172.0 320.6,169.1 320.9,164.4 321.3,156.9 321.5,154.9 321.6,155.8 322.0,162.6 322.3,168.0 322.6,170.2 323.0,170.9 323.3,171.7 323.7,173.3 324.0,173.4 324.3,173.2 324.7,173.7 325.0,173.3 325.4,173.4 325.7,173.2 326.0,173.5 326.4,173.2 326.7,173.8 327.1,171.5 327.4,173.1 327.7,171.0 328.1,171.5 328.4,174.1 328.8,172.0 329.1,172.4 329.4,170.6 329.8,172.2 330.1,170.3 330.5,171.9 330.8,172.8 331.1,171.7 331.5,171.8 331.8,171.4 332.2,170.9 332.5,171.7 332.8,171.1 333.2,170.7 333.5,171.7 333.9,172.6 334.2,172.2 334.5,172.2 334.9,170.2 335.2,172.0 335.6,171.0 335.9,171.9 336.2,171.2 336.6,171.9 336.9,169.9 337.3,169.9 337.6,170.8 337.9,170.2 338.3,171.6 338.6,170.2 339.0,170.7 339.3,171.6 339.6,170.6 340.0,172.5 340.3,171.0 340.7,171.1 341.0,171.2 341.3,171.4 341.7,170.0 342.0,169.7 342.4,169.5 342.8,169.7 343.0,169.9 343.4,169.7 343.7,170.0 344.1,170.5 344.4,170.9 344.7,172.2 345.1,172.7 345.4,172.9 345.8,172.5 346.1,172.6 346.4,174.1 346.8,171.7 347.1,171.2 347.5,171.0 347.8,173.8 348.1,172.8 348.5,173.3 348.8,173.4 349.2,174.3 349.5,173.5 349.8,173.4 350.2,172.8 350.5,174.0 350.9,173.2 351.2,175.2 351.5,174.3 351.9,172.7 352.2,173.1 352.6,173.7 352.9,173.4 353.2,174.6 353.6,172.9 353.9,173.3 354.3,173.2 354.6,174.7 354.9,172.5 355.3,173.7 355.6,172.2 356.0,174.0 356.3,175.1 356.6,174.2 357.0,172.1 357.3,174.5 357.7,173.7 358.0,173.8 358.3,174.6 358.7,173.9 359.0,172.8 359.4,173.5 359.7,174.4 360.0,173.5 360.4,172.7 360.7,173.7 361.1,172.8 361.4,172.6 361.7,172.4 362.1,173.0 362.4,172.2 362.8,170.0 363.1,169.3 363.4,166.4 363.8,163.8 364.1,161.6 364.3,161.5 364.5,161.6 364.8,163.4 365.1,166.1 365.5,168.7 365.8,171.0 366.2,173.3 366.5,172.7 366.8,172.7 367.2,174.5 367.5,172.7 367.9,174.3 368.2,173.7 368.5,172.8 368.9,174.2 369.2,172.7 369.6,172.3 369.9,173.4 370.2,173.8 370.6,174.7 370.9,173.8 371.3,175.2 371.6,176.6 371.9,176.2 372.3,175.0 372.6,173.9 373.0,174.3 373.3,175.2 373.6,175.5 374.0,175.7 374.3,173.4 374.7,174.3 375.0,174.1 375.3,175.5 375.7,176.5 376.0,175.1 376.4,174.5 376.7,175.0 377.0,174.5 377.4,175.0 377.7,174.0 378.1,173.4 378.4,174.3 378.7,174.4 379.1,173.7 379.4,176.4 379.8,175.5 380.1,174.7 380.4,176.3 380.8,174.0 381.1,174.6 381.5,176.2 381.8,176.6 382.1,176.1 382.5,174.7 382.8,175.7 383.2,174.3 383.5,174.2 383.8,176.3 384.2,174.1 384.5,173.9 384.9,173.6 385.2,175.3 385.5,175.3 385.9,174.0 386.2,174.6 386.6,176.2 386.9,174.3 387.2,173.9 387.6,175.5 387.9,173.5 388.3,174.7 388.6,173.5 388.9,173.5 389.3,175.2 389.6,175.4 390.0,174.0 390.3,173.8 390.6,175.8 391.0,173.8 391.3,173.6 391.7,174.1 392.0,173.8 392.3,174.1 392.7,176.0 393.0,173.2 393.4,175.3 393.7,174.5 394.0,172.9 394.4,173.0 394.7,174.5 395.1,174.1 395.4,173.4 395.7,173.5 396.1,175.2 396.4,174.6 396.8,174.6 397.1,175.1 397.4,173.8 397.8,173.8 398.1,175.8 398.5,174.9 398.8,174.8 399.1,175.6 399.5,176.4 399.8,175.7 400.2,175.5 400.5,174.4 400.8,174.8 401.2,173.4 401.5,173.7 401.9,173.5 402.2,174.6 402.5,175.6 402.9,175.2 403.2,173.8 403.6,174.8 403.9,173.8 404.2,175.0 404.6,173.9 404.9,173.1 405.3,173.8 405.6,173.0 405.9,173.9 406.3,173.5 406.6,173.4 407.0,172.1 407.3,170.1 407.6,168.8 408.0,170.4 408.3,172.7 408.7,173.9 409.0,174.9 409.3,174.3 409.7,174.4 410.0,175.5 410.4,174.7 410.7,176.2 411.0,175.7 411.4,175.4 411.7,176.4 412.1,174.1 412.4,175.2 412.7,175.1 413.1,176.2 413.4,174.3 413.8,175.6 414.1,176.9 414.4,174.8 414.8,176.5 415.1,176.5 415.5,175.7 415.8,176.2 416.1,177.3 416.5,176.5 416.8,176.1 417.2,176.5 417.5,175.3 417.8,177.5 418.2,175.7 418.5,178.2 418.9,177.7 419.2,177.7 419.5,177.8 419.9,177.0 420.2,176.3 420.6,176.5 420.9,177.1 421.2,175.6 421.6,176.8 421.9,175.8 422.3,176.5 422.6,175.4 422.9,175.5 423.3,176.7 423.6,176.2 424.0,174.5 424.3,176.3 424.6,177.1 425.0,176.5 425.3,176.2 425.7,175.6 426.0,176.6 426.3,175.8 426.7,177.4 427.0,176.7 427.4,175.6 427.7,177.5 428.0,176.7 428.4,175.7 428.7,175.4 429.1,175.2 429.4,177.0 429.7,175.3 430.1,175.4 430.4,176.8 430.8,175.8 431.1,175.6 431.4,175.2 431.8,175.4 432.1,176.3 432.5,175.4 432.8,177.2 433.1,175.2 433.5,175.9 433.8,176.0 434.2,177.5 434.5,177.2 434.8,175.9 435.2,175.3 435.5,175.8 435.9,177.0 436.2,177.1 436.5,177.1 436.9,176.7 437.2,176.9 437.6,176.8 437.9,176.1 438.2,177.6 438.6,177.6 438.9,177.0 439.3,176.3 439.6,175.9 439.9,177.3 440.3,176.9 440.6,176.3 441.0,176.7 441.3,175.5 441.6,176.4 442.0,176.2 442.3,175.6 442.7,176.3 443.0,175.1 443.3,176.0 443.7,177.3 444.0,176.2 444.4,176.7 444.7,176.7 445.0,177.8 445.4,176.0 445.7,177.0 446.1,176.5 446.4,176.1 446.7,175.3 447.1,176.4 447.4,175.8 447.8,176.9 448.1,176.4 448.4,176.6 448.8,177.7 449.1,176.1 449.5,177.5 449.8,177.1 450.1,176.4 450.5,176.8 450.8,177.6 451.2,176.3 451.5,177.3 451.8,176.5 452.2,177.2 452.5,177.0 452.9,176.1 453.2,177.5 453.5,176.9 453.9,176.4 454.2,176.4 454.6,177.9 454.9,177.6 455.2,176.6 455.6,175.6 455.9,176.8 456.3,175.4 456.6,177.0 456.9,175.1 457.3,175.6 457.6,176.2 458.0,176.6 458.3,175.6 458.6,176.0 459.0,177.7 459.3,177.3 459.7,175.5 460.0,177.4 460.3,176.3 460.7,177.9 461.0,176.6 461.4,176.0 461.7,177.1 462.0,176.7 462.4,176.0 462.7,176.6 463.1,176.8 463.4,176.1 463.7,177.4 464.1,177.3 464.4,177.2 464.8,177.1 465.1,176.1 465.4,176.9 465.8,176.2 466.1,176.1 466.5,176.5 466.8,176.1 467.1,175.7 467.5,175.9 467.8,175.8 468.2,174.4 468.5,174.3 468.8,174.0 469.0,174.1 469.2,174.1 469.5,174.4 469.9,174.5 470.2,175.4 470.5,175.8 470.9,176.6 471.2,177.3 471.6,177.6 471.9,177.3 472.2,178.3 472.6,176.6 472.9,177.5 473.3,176.7 473.6,177.3 473.9,178.8 474.3,178.7 474.6,177.6 475.0,177.0 475.3,177.0 475.6,178.4 476.0,176.9 476.3,176.4 476.7,177.9 477.0,176.8 477.3,176.5 477.7,177.8 478.0,177.5 478.4,175.6 478.7,177.8 479.0,177.0 479.4,176.4 479.7,177.9 480.1,177.0 480.4,177.6 480.7,177.7 481.1,176.9 481.4,178.4 481.8,177.4 482.1,176.3 482.4,177.7 482.8,176.3 483.1,178.1 483.5,177.6 483.8,177.0 484.1,177.9 484.5,178.0 484.8,177.9 485.2,176.8 485.5,176.5 485.8,178.5 486.2,178.1 486.5,177.3 486.9,177.3 487.2,177.4 487.5,176.7 487.9,178.9 488.2,177.5 488.6,178.1 488.9,178.2 489.2,176.8 489.6,176.9 489.9,176.7 490.3,177.7 490.6,178.0 490.9,178.7 491.3,178.2 491.6,177.8 492.0,177.0 492.3,176.8 492.6,177.7 493.0,177.4 493.3,178.0 493.7,178.3 494.0,176.8 494.3,178.6 494.7,176.6 495.0,177.3 495.4,178.6 495.7,177.7 496.0,178.2 496.4,178.1 496.7,176.7 497.1,177.9 497.4,177.3 497.7,176.7 498.1,176.9 498.4,177.4 498.8,178.8 499.1,178.9 499.4,179.8 499.8,178.3 500.1,179.4 500.5,177.9 500.8,177.9 501.1,178.8 501.5,177.7 501.8,179.3 502.2,177.7 502.5,177.4 502.8,178.8 503.2,178.6 503.5,177.1 503.9,177.2 504.2,177.6 504.5,177.1 504.9,177.5 505.2,178.2 505.6,178.8 505.9,177.2 506.2,177.2 506.6,177.6 506.9,178.7 507.3,177.3 507.6,179.3 507.9,177.1 508.3,178.1 508.6,178.3 509.0,179.0 509.3,178.5 509.6,178.9 510.0,178.1 510.3,177.1 510.7,177.8 511.0,178.1 511.3,178.3 511.7,178.6 512.0,178.2 512.4,177.7 512.7,178.4 513.0,177.9 513.4,176.9 513.7,178.0 514.1,178.2 514.4,178.4 514.7,178.1 515.1,179.0 515.4,178.5 515.8,177.7 516.1,177.8 516.4,178.5 516.8,179.4 517.1,178.6 517.5,177.5 517.8,178.7 518.1,178.3 518.5,179.1 518.8,177.6 519.2,179.0 519.5,178.2 519.8,179.6 520.2,179.2 520.5,177.9 520.9,179.3 521.2,178.8 521.5,178.5 521.9,178.5 522.2,178.9 522.6,179.4 522.9,178.8 523.2,178.0 523.6,178.3 523.9,179.0 524.3,178.7 524.6,179.2 524.9,178.6 525.3,178.4 525.6,179.5 526.0,178.2 526.3,177.9 526.6,178.6 527.0,178.9 527.3,178.4 527.7,180.0 528.0,178.5 528.3,178.1 528.7,179.5 529.0,178.1 529.4,178.6 529.7,178.5 530.0,178.2 530.4,178.7 530.7,177.6 531.1,178.7 531.4,177.4 531.7,178.2 532.1,179.0 532.4,178.8 532.8,179.2 533.1,178.5 533.4,177.9 533.8,178.2 534.1,178.9 534.5,177.9 534.8,178.8 535.1,178.1 535.5,179.8 535.8,178.5 536.2,178.3 536.5,178.2 536.8,178.8 537.2,179.4 537.5,178.8 537.9,179.0 538.2,178.8 538.5,177.4 538.9,178.8 539.2,178.5 539.6,178.7 539.9,177.7 540.2,178.0 540.6,178.0 540.9,177.3 541.3,177.8 541.6,178.3 541.9,178.8 542.3,179.9 542.6,179.3 543.0,178.4 543.3,179.2 543.6,178.4 544.0,177.8 544.3,179.4 544.7,179.1 545.0,179.0 545.3,179.6 545.7,179.3 546.0,179.7 546.4,177.9 546.7,180.0 547.0,179.4 547.4,179.0 547.7,179.1 548.1,178.2 548.4,178.4 548.7,179.6 549.1,179.0 549.4,179.4 549.8,177.7 550.1,178.4 550.4,178.3 550.8,177.4 551.1,178.7 551.5,177.7 551.8,177.7 552.1,177.6 552.5,177.5 552.8,177.2 553.2,176.8 553.5,176.4 553.8,176.2 554.0,176.1 554.2,176.1 554.5,176.2 554.9,176.7 555.2,176.9 555.5,177.8 555.9,177.7 556.2,178.4 556.6,179.1 556.9,178.0 557.2,179.6 557.6,177.9 557.9,178.9 558.3,178.2 558.6,177.8 558.9,178.6 559.3,178.3 559.6,177.6 560.0,179.5 560.3,178.0 560.6,179.4 561.0,178.6 561.3,178.0 561.7,177.2 562.0,178.8 562.3,177.2 562.7,178.4 563.0,178.3 563.4,178.3 563.7,177.6 564.0,178.9 564.4,177.5 564.7,179.4 565.1,179.5 565.4,178.3 565.7,179.0 566.1,177.9 566.4,179.0 566.8,178.1 567.1,178.0 567.4,178.6 567.8,179.7 568.1,179.4 568.5,178.7 568.8,179.0 569.1,178.3 569.5,177.8 569.8,178.0 570.2,177.2 570.5,177.3 570.8,177.3 571.2,177.0 571.5,177.6 571.9,177.8 572.2,177.5 572.5,178.0 572.9,177.9 573.2,178.5 573.6,178.2 573.9,178.7 574.2,177.6 574.6,178.3 574.9,178.2 575.3,178.8 575.6,179.2 575.9,179.3 576.3,178.9 576.6,179.5 577.0,179.3 577.3,178.8 577.6,178.1 578.0,179.6 578.3,179.4 578.7,178.6 579.0,179.5 579.3,180.1 579.7,179.4 580.0,178.6 580.4,179.9 580.7,179.0 581.0,177.8 581.4,178.0 581.7,180.0 582.1,178.0 582.4,179.4 582.7,178.2 583.1,179.0 583.4,178.6 583.8,178.9 584.1,178.1 584.4,178.3 584.8,179.3 585.1,178.7 585.5,178.2 585.8,179.3 586.1,179.5 586.5,178.8 586.8,178.6 587.2,177.7 587.5,178.2 587.8,178.8 588.2,178.5 588.5,180.5 588.9,179.2 589.2,178.5 589.5,179.1 589.9,178.3 590.2,179.8 590.6,179.1 590.9,179.6 591.2,178.2 591.6,178.7 591.9,179.0 592.3,178.7 592.6,178.0 592.9,178.4 593.3,179.0 593.6,178.6 594.0,179.8 594.3,179.0 594.6,179.6 595.0,177.9 595.3,179.1 595.7,178.7 596.0,178.7 596.3,179.5 596.7,177.6 597.0,178.5 597.4,178.0 597.7,179.6 598.0,179.5 598.4,178.1 598.7,178.4 599.1,178.5 599.4,178.6 599.7,179.9 600.1,179.8 600.4,179.7 600.8,178.7 601.1,178.9 601.4,179.2 601.8,179.7 602.1,178.2 602.5,178.4 602.8,179.7 603.1,178.8 603.5,180.4 603.8,178.3 604.2,180.6 604.5,178.6 604.8,178.7 605.2,179.0 605.5,179.0 605.9,179.8 606.2,179.2 606.5,180.0 606.9,180.0 607.2,180.4 607.6,179.3 607.9,179.4 608.2,178.5 608.6,179.2 608.9,179.1 609.3,178.7 609.6,179.9 609.9,179.0 610.3,178.7 610.6,178.7 611.0,178.6 611.3,180.1 611.6,179.5 612.0,179.5 612.3,179.1 612.7,180.3 613.0,178.9 613.3,179.3 613.7,180.0 614.0,180.5 614.4,180.5 614.7,180.4 615.0,179.3 615.4,180.3 615.7,179.8 616.1,178.6 616.4,179.1 616.7,178.7 617.1,178.0 617.4,177.5 617.8,177.2 618.1,176.8 618.4,176.6 618.6,176.3 618.8,176.3 619.1,176.5 619.5,177.1 619.8,177.3 620.1,178.0 620.5,178.8 620.8,179.3 621.2,178.1 621.5,179.5 621.8,178.5 622.2,179.6 622.5,178.2 622.9,178.6 623.2,178.9 623.5,178.4 623.9,179.8 624.2,178.8 624.6,180.0 624.9,180.2 625.2,179.1 625.6,179.1 625.9,180.2 626.3,179.1 626.6,180.0 626.9,179.8 627.3,178.2 627.6,178.4 628.0,179.5 628.3,177.9 628.6,179.5 629.0,179.6 629.3,179.8 629.7,179.4 630.0,179.2 630.3,179.9 630.7,179.2 631.0,178.7 631.4,179.7 631.7,179.2 632.0,179.1 632.4,179.3 632.7,179.6 633.1,179.6 633.4,180.6 633.7,180.2 634.1,180.4 634.4,180.6 634.8,179.4 635.1,179.5 635.4,180.3 635.8,179.3 636.1,180.2 636.5,180.1 636.8,180.5 637.1,180.5 637.5,180.5 637.8,179.7 638.2,179.3 638.5,180.9 638.8,181.1 639.2,180.2 639.5,180.6 639.9,179.1 640.2,180.2 640.5,180.7 640.9,180.6 641.2,179.3 641.6,179.2 641.9,180.9 642.2,180.7 642.6,179.2 642.9,180.6 643.3,180.4 643.6,179.3 643.9,180.4 644.3,179.7 644.6,179.7 645.0,179.1 645.3,180.2 645.6,180.0 646.0,180.0 646.3,179.2 646.7,180.9 647.0,179.7 647.3,179.9 647.7,180.2 648.0,179.4 648.4,180.8 648.7,180.1 649.0,180.0 649.4,178.9 649.7,179.3 650.1,178.6 650.4,178.8 650.7,179.0 651.1,179.9 651.4,179.7 651.8,180.2 652.1,178.7 652.4,178.6 652.8,178.3 653.1,180.0 653.5,178.2 653.8,179.4 654.1,179.1 654.5,178.5 654.8,180.0 655.2,180.0 655.5,179.1 655.8,178.6 656.2,180.0 656.5,179.9 656.9,179.8 657.2,180.0 657.5,180.8 657.9,180.8 658.2,179.9 658.6,180.8 658.9,180.2 659.2,180.8 659.6,180.2 659.9,179.1 660.3,181.0 660.6,179.7 660.9,180.8 661.3,180.1 661.6,180.3 662.0,180.0 662.3,180.5 662.6,180.2 663.0,180.2 663.3,179.3 663.7,179.7 664.0,179.3 664.3,179.5 664.7,179.9 665.0,179.7 665.4,179.6 665.7,179.4 666.0,179.8 666.4,179.3 666.7,180.4 667.1,179.6 667.4,179.2 667.7,179.2 668.1,180.4 668.4,179.8 668.8,179.3 669.1,180.9 669.4,180.1 669.8,181.1 670.1,180.0 670.5,180.4 670.8,180.2 671.1,179.4 671.5,181.6 671.8,179.7 672.2,181.1 672.5,181.1 672.8,181.1 673.2,180.1 673.5,181.2 673.9,180.7" fill="none" stroke="#0cc6c8" stroke-width="1.5" stroke-linejoin="round"/><polyline points="1.0,247.6 1.3,246.2 1.7,248.8 2.0,245.4 2.4,248.8 2.7,247.0 3.0,249.0 3.4,246.5 3.7,248.6 4.1,246.2 4.4,244.8 4.7,247.3 5.1,246.5 5.4,246.3 5.8,245.8 6.1,243.8 6.4,242.6 6.8,246.2 7.1,245.7 7.5,244.6 7.8,244.4 8.1,245.9 8.5,243.7 8.8,242.8 9.2,242.6 9.5,246.5 9.8,243.5 10.2,246.3 10.5,241.4 10.9,244.5 11.2,243.8 11.5,243.7 11.9,240.6 12.2,243.5 12.6,243.4 12.9,244.8 13.2,244.5 13.6,244.3 13.9,240.3 14.3,244.2 14.6,242.4 14.9,242.7 15.3,244.3 15.6,240.0 16.0,241.4 16.3,241.8 16.6,242.4 17.0,244.2 17.3,239.7 17.7,243.0 18.0,242.6 18.3,241.0 18.7,243.0 19.0,243.5 19.4,240.2 19.7,240.5 20.0,242.4 20.4,244.3 20.7,243.1 21.1,242.0 21.4,240.5 21.7,243.1 22.1,240.2 22.4,238.6 22.8,239.9 23.1,238.2 23.4,241.8 23.8,240.3 24.1,242.0 24.5,241.6 24.8,241.1 25.1,241.6 25.5,240.8 25.8,239.2 26.2,237.6 26.5,238.7 26.8,240.3 27.2,239.5 27.5,242.8 27.9,238.9 28.2,240.9 28.5,238.6 28.9,239.8 29.2,241.1 29.6,241.9 29.9,238.5 30.2,241.2 30.6,242.3 30.9,237.8 31.3,240.9 31.6,237.5 31.9,240.2 32.3,241.5 32.6,237.2 33.0,239.4 33.3,237.4 33.6,239.6 34.0,238.9 34.3,239.6 34.7,241.4 35.0,238.8 35.3,238.9 35.7,238.8 36.0,239.3 36.4,237.5 36.7,237.6 37.0,240.3 37.4,240.4 37.7,237.0 38.1,240.0 38.4,240.3 38.7,238.6 39.1,238.8 39.4,238.6 39.8,239.9 40.1,238.5 40.4,240.4 40.8,239.6 41.1,240.4 41.5,241.6 41.8,238.8 42.1,238.3 42.5,239.5 42.8,238.4 43.2,239.8 43.5,237.3 43.8,240.5 44.2,241.3 44.5,237.1 44.9,238.7 45.2,238.3 45.5,238.3 45.9,237.7 46.2,239.2 46.6,240.2 46.9,237.8 47.2,239.7 47.6,240.0 47.9,240.6 48.3,241.5 48.6,241.0 48.9,242.0 49.3,241.6 49.6,241.6 50.0,241.1 50.3,238.6 50.6,240.4 51.0,240.6 51.3,239.7 51.7,236.9 52.0,235.5 52.3,237.2 52.7,239.1 53.0,242.9 53.4,243.1 53.7,241.7 54.0,242.3 54.4,239.6 54.7,244.3 55.1,241.3 55.4,242.6 55.7,241.3 56.1,240.5 56.4,243.6 56.8,244.2 57.1,245.4 57.4,244.7 57.8,244.2 58.1,243.4 58.5,242.5 58.8,243.0 59.1,244.0 59.5,242.5 59.8,243.6 60.2,242.7 60.5,241.8 60.8,244.5 61.2,243.8 61.5,244.4 61.9,244.3 62.2,242.3 62.5,246.8 62.9,243.7 63.2,242.3 63.6,243.4 63.9,246.3 64.2,244.5 64.6,246.8 64.9,244.4 65.3,244.7 65.6,245.9 65.9,247.0 66.3,247.4 66.6,245.6 67.0,246.3 67.3,244.2 67.6,246.7 68.0,246.4 68.3,246.0 68.7,247.5 69.0,246.8 69.3,248.9 69.7,245.1 70.0,247.4 70.4,249.2 70.7,247.7 71.0,249.9 71.4,249.7 71.7,248.9 72.1,249.2 72.4,249.3 72.7,248.5 73.1,249.5 73.4,249.5 73.8,249.9 74.1,246.6 74.4,245.3 74.8,247.6 75.1,249.3 75.5,247.9 75.8,248.1 76.1,246.5 76.5,249.5 76.8,250.1 77.2,249.0 77.5,247.1 77.8,249.5 78.2,248.4 78.5,249.0 78.9,247.5 79.2,251.1 79.5,247.8 79.9,251.8 80.2,247.9 80.6,251.2 80.9,249.8 81.2,249.5 81.6,250.4 81.9,248.2 82.3,247.9 82.6,250.6 82.9,251.6 83.3,248.4 83.6,249.2 84.0,252.6 84.3,251.5 84.6,252.5 85.0,250.0 85.3,251.6 85.7,251.9 86.0,251.8 86.3,250.6 86.7,250.3 87.0,250.5 87.4,249.7 87.7,248.8 88.0,250.7 88.4,252.5 88.7,249.9 89.1,250.8 89.4,252.0 89.7,248.7 90.1,251.1 90.4,250.3 90.8,252.7 91.1,253.4 91.4,249.1 91.8,251.6 92.1,249.2 92.5,250.9 92.8,251.2 93.1,250.4 93.5,250.6 93.8,250.4 94.2,252.5 94.5,250.6 94.8,251.2 95.2,251.5 95.5,251.6 95.9,253.7 96.2,250.6 96.5,254.8 96.9,251.2 97.2,253.3 97.6,251.1 97.9,250.5 98.2,254.0 98.6,253.1 98.9,252.1 99.3,252.6 99.6,254.6 99.9,255.1 100.3,253.2 100.6,253.6 101.0,255.8 101.3,253.2 101.6,254.0 102.0,256.2 102.3,256.5 102.7,253.1 103.0,254.9 103.3,254.8 103.7,255.5 104.0,254.5 104.4,253.4 104.7,256.5 105.0,252.4 105.4,255.1 105.7,254.4 106.1,255.3 106.4,253.5 106.7,257.7 107.1,255.8 107.4,256.6 107.8,256.8 108.1,255.7 108.4,256.2 108.8,254.1 109.1,256.0 109.5,256.2 109.8,257.8 110.1,255.5 110.5,254.5 110.8,255.4 111.2,258.0 111.5,254.4 111.8,254.3 112.2,258.9 112.5,257.0 112.9,257.7 113.2,256.6 113.5,255.9 113.9,258.4 114.2,256.2 114.6,257.5 114.9,256.2 115.2,259.7 115.6,257.5 115.9,259.0 116.3,256.3 116.6,258.1 116.9,256.4 117.3,255.9 117.6,256.4 118.0,255.7 118.3,258.2 118.6,257.7 119.0,259.6 119.3,255.6 119.7,257.5 120.0,259.7 120.3,257.0 120.7,255.9 121.0,258.8 121.4,255.8 121.7,258.2 122.0,257.7 122.4,259.0 122.7,258.2 123.1,258.8 123.4,257.5 123.7,260.2 124.1,257.1 124.4,260.4 124.8,259.8 125.1,258.3 125.4,258.3 125.8,258.0 126.1,260.7 126.5,258.0 126.8,260.1 127.1,261.1 127.5,258.8 127.8,259.4 128.2,261.6 128.5,262.1 128.8,258.5 129.2,262.1 129.5,260.9 129.9,261.2 130.2,261.2 130.5,261.3 130.9,258.4 131.2,261.4 131.6,261.2 131.9,259.6 132.2,258.0 132.6,262.2 132.9,260.7 133.3,259.3 133.6,259.0 133.9,261.7 134.3,258.1 134.6,260.5 135.0,259.3 135.3,260.3 135.6,261.1 136.0,257.2 136.3,257.5 136.7,256.2 137.0,257.8 137.3,256.3 137.7,260.6 138.0,260.2 138.4,259.3 138.7,256.9 139.0,257.0 139.4,259.3 139.7,260.5 140.1,261.5 140.4,261.1 140.7,258.2 141.1,260.3 141.4,260.1 141.8,259.6 142.1,260.8 142.4,258.4 142.8,258.4 143.1,258.6 143.5,257.7 143.8,258.0 144.1,253.1 144.6,247.5 144.8,249.4 145.2,254.9 145.5,256.8 145.8,256.5 146.2,259.2 146.5,258.1 146.9,258.9 147.2,258.4 147.5,259.7 147.9,259.5 148.2,259.3 148.6,258.5 148.9,260.7 149.2,260.7 149.6,257.4 149.9,256.6 150.3,257.6 150.6,261.4 150.9,259.6 151.3,258.9 151.6,261.2 152.0,260.8 152.3,259.0 152.6,258.1 153.0,258.6 153.3,258.4 153.7,259.8 154.0,259.7 154.3,257.3 154.7,259.3 155.0,256.3 155.4,256.6 155.7,256.7 156.0,255.7 156.4,255.0 156.7,253.2 157.1,252.8 157.3,252.5 157.7,253.0 158.1,254.8 158.4,255.8 158.8,258.2 159.1,257.6 159.4,257.9 159.8,259.6 160.1,260.4 160.5,260.1 160.8,257.2 161.1,257.4 161.5,261.4 161.8,262.1 162.2,258.6 162.5,259.7 162.8,259.5 163.2,259.6 163.5,258.7 163.9,259.0 164.2,262.1 164.5,260.2 164.9,259.4 165.2,258.3 165.6,261.9 165.9,262.2 166.2,260.1 166.6,262.0 166.9,258.9 167.3,259.4 167.6,262.0 167.9,260.1 168.3,261.3 168.6,261.7 169.0,259.9 169.3,263.1 169.6,263.5 170.0,262.4 170.3,262.9 170.7,260.0 171.0,261.9 171.3,261.0 171.7,259.9 172.0,258.6 172.4,256.2 172.7,255.6 173.0,253.7 173.4,253.0 173.7,253.7 174.1,255.6 174.4,256.7 174.7,257.0 175.1,257.7 175.4,260.1 175.8,261.2 176.1,259.5 176.4,260.5 176.8,257.9 177.1,259.3 177.5,261.7 177.8,259.6 178.1,261.7 178.5,262.5 178.8,262.5 179.2,263.1 179.5,262.7 179.8,261.0 180.2,263.1 180.5,263.2 180.9,260.0 181.2,264.7 181.5,263.0 181.9,264.3 182.2,263.6 182.6,259.4 182.9,259.5 183.2,262.3 183.6,259.7 183.9,262.8 184.3,263.4 184.6,262.6 184.9,261.3 185.3,260.2 185.6,260.5 186.0,259.0 186.3,258.0 186.5,258.4 186.6,258.1 187.0,258.5 187.3,259.4 187.7,260.9 188.0,261.2 188.3,260.1 188.7,262.6 189.0,262.0 189.4,260.8 189.7,260.3 190.0,262.2 190.4,261.4 190.7,262.9 191.1,261.5 191.4,262.2 191.7,260.0 192.1,260.4 192.4,262.2 192.8,262.6 193.1,262.5 193.4,260.5 193.8,261.6 194.1,262.1 194.5,264.4 194.8,261.2 195.1,262.3 195.5,259.7 195.8,259.2 196.2,257.8 196.5,258.6 196.8,259.8 197.2,261.6 197.5,261.1 197.9,263.1 198.2,263.8 198.5,262.4 198.9,260.1 199.2,260.6 199.6,263.3 199.9,262.5 200.2,261.8 200.6,264.0 200.9,263.1 201.3,262.2 201.6,261.4 201.9,260.3 202.3,260.1 202.6,259.4 203.0,261.0 203.3,264.0 203.6,260.7 204.0,262.5 204.3,262.8 204.7,264.6 205.0,265.1 205.3,264.0 205.7,262.9 206.0,264.1 206.4,262.8 206.7,264.2 207.0,264.5 207.4,262.6 207.7,263.8 208.1,262.6 208.4,261.8 208.7,263.3 209.1,263.6 209.4,263.4 209.8,261.8 210.1,262.0 210.4,261.5 210.8,258.7 211.1,258.2 211.5,251.7 211.8,241.4 212.1,236.8 212.5,243.4 212.8,253.6 213.2,258.7 213.5,261.9 213.8,262.6 214.2,261.5 214.5,260.7 214.9,264.9 215.2,264.4 215.5,262.2 215.9,262.3 216.2,264.8 216.6,264.0 216.9,261.8 217.2,263.7 217.6,261.5 217.9,263.8 218.3,260.5 218.6,265.1 218.9,262.8 219.3,265.0 219.6,262.5 220.0,263.1 220.3,262.3 220.6,263.2 221.0,262.5 221.3,264.1 221.7,263.3 222.0,264.3 222.3,262.2 222.7,261.7 223.0,260.9 223.4,261.4 223.7,262.1 224.0,260.6 224.4,262.6 224.7,260.6 225.1,260.8 225.4,260.6 225.7,259.9 226.1,260.0 226.4,256.7 226.8,256.0 227.1,253.4 227.4,252.1 227.8,250.8 228.1,249.4 228.5,248.8 228.8,248.9 229.1,249.2 229.5,249.9 229.8,250.3 230.2,250.7 230.5,250.2 230.8,247.7 231.2,244.1 231.5,239.2 231.9,233.4 232.2,230.0 232.5,229.0 232.9,231.6 233.2,235.9 233.6,242.3 233.9,248.2 234.2,253.7 234.6,257.8 234.9,257.5 235.3,262.3 235.6,261.7 235.9,263.8 236.3,263.4 236.6,262.2 237.0,264.9 237.3,262.2 237.6,261.5 238.0,262.5 238.3,263.4 238.7,264.7 239.0,261.4 239.3,264.9 239.7,262.4 240.0,265.5 240.4,263.5 240.7,263.9 241.0,263.0 241.4,263.4 241.7,263.1 242.1,263.6 242.4,265.8 242.7,265.6 243.1,266.4 243.4,264.2 243.8,263.3 244.1,264.6 244.4,265.5 244.8,264.6 245.1,262.2 245.5,264.4 245.8,264.6 246.1,262.7 246.5,263.0 246.8,262.3 247.2,260.5 247.5,259.5 247.8,257.9 248.2,254.7 248.5,249.6 248.9,245.8 249.2,239.9 249.5,234.2 250.0,231.5 250.2,232.1 250.6,235.2 250.9,240.6 251.2,245.5 251.6,251.1 251.9,254.1 252.3,257.5 252.6,260.6 252.9,258.9 253.3,259.6 253.6,261.6 254.0,260.6 254.3,261.5 254.6,262.8 255.0,265.8 255.3,265.1 255.7,267.2 256.0,268.5 256.3,265.9 256.7,266.0 257.0,263.7 257.4,267.0 257.7,266.0 258.0,267.2 258.4,266.4 258.7,264.0 259.1,264.7 259.4,264.6 259.7,263.6 260.1,262.6 260.4,263.0 260.8,262.0 261.2,261.3 261.4,261.3 261.8,262.0 262.1,263.0 262.5,264.3 262.8,264.1 263.1,265.8 263.5,264.6 263.8,265.7 264.2,266.2 264.5,265.2 264.8,265.5 265.2,263.7 265.5,264.1 265.9,265.6 266.2,264.2 266.5,264.5 266.9,265.0 267.2,265.5 267.6,264.9 268.0,264.6 268.2,264.4 268.6,264.3 268.9,265.2 269.3,264.6 269.6,265.5 269.9,266.9 270.3,267.0 270.6,268.1 271.0,265.5 271.3,266.3 271.6,267.7 272.0,265.0 272.3,265.7 272.7,268.7 273.0,266.3 273.3,269.4 273.7,267.8 274.0,269.5 274.4,269.7 274.7,268.6 275.0,267.7 275.4,270.4 275.7,268.7 276.1,269.2 276.4,271.0 276.7,269.2 277.1,268.5 277.4,271.2 277.8,270.6 278.1,270.8 278.4,268.7 278.8,271.5 279.1,268.9 279.5,268.5 279.8,267.5 280.1,271.2 280.5,270.2 280.8,270.9 281.2,267.4 281.5,267.3 281.8,270.1 282.2,269.3 282.5,269.1 282.9,268.6 283.2,269.9 283.5,269.4 283.9,269.2 284.2,272.6 284.6,269.8 284.9,270.2 285.2,269.8 285.6,272.2 285.9,271.8 286.3,272.2 286.6,270.3 286.9,271.3 287.3,271.9 287.6,271.8 288.0,269.2 288.3,271.1 288.6,271.1 289.0,270.2 289.3,272.4 289.7,271.8 290.0,271.9 290.3,271.7 290.7,270.5 291.0,269.0 291.4,269.3 291.7,270.6 292.0,272.4 292.4,269.8 292.7,272.4 293.1,270.3 293.4,271.3 293.7,272.5 294.1,271.3 294.4,269.9 294.8,270.1 295.1,270.9 295.4,270.5 295.8,269.8 296.1,269.1 296.5,269.2 296.8,269.0 297.0,268.7 297.1,268.6 297.5,269.2 297.8,269.7 298.2,269.9 298.5,270.5 298.8,271.4 299.2,272.5 299.5,270.7 299.9,271.8 300.2,270.2 300.5,271.3 300.9,272.5 301.2,271.0 301.6,273.1 301.9,273.9 302.2,273.4 302.6,273.4 302.9,272.5 303.3,271.7 303.6,273.3 303.9,270.6 304.3,269.9 304.6,271.5 305.0,272.3 305.3,271.5 305.6,273.0 306.0,271.3 306.3,270.6 306.7,272.2 307.0,270.8 307.3,273.0 307.7,271.7 308.0,272.3 308.4,273.5 308.7,272.7 309.0,270.8 309.4,272.8 309.7,272.2 310.1,271.5 310.4,271.2 310.7,271.7 311.1,272.5 311.4,272.8 311.8,273.2 312.1,272.2 312.4,270.7 312.8,272.1 313.1,269.5 313.5,268.3 313.8,267.1 314.1,265.5 314.5,264.5 314.7,264.2 314.8,264.5 315.2,265.5 315.5,267.2 315.8,268.7 316.2,268.7 316.5,269.6 316.9,271.8 317.2,272.1 317.5,269.8 317.9,270.9 318.2,270.6 318.6,271.5 318.9,271.1 319.2,271.4 319.6,271.2 319.9,272.1 320.3,270.9 320.6,269.8 320.9,267.1 321.3,263.5 321.6,257.5 321.8,257.0 322.0,257.3 322.3,262.3 322.6,268.2 323.0,269.5 323.3,269.3 323.7,270.6 324.0,272.8 324.3,271.6 324.7,270.9 325.0,272.7 325.4,272.8 325.7,270.6 326.0,270.7 326.4,272.7 326.7,271.7 327.1,271.8 327.4,270.7 327.7,271.7 328.1,273.0 328.4,272.7 328.8,270.4 329.1,271.4 329.4,269.6 329.8,270.8 330.1,271.1 330.5,269.5 330.8,270.2 331.1,269.2 331.5,269.5 331.8,270.4 332.2,269.3 332.5,269.1 332.8,269.7 333.2,271.5 333.5,270.3 333.9,270.9 334.2,270.1 334.5,271.3 334.9,269.7 335.2,269.3 335.6,270.2 335.9,272.1 336.2,269.9 336.6,271.0 336.9,272.6 337.3,270.4 337.6,270.3 337.9,270.2 338.3,271.1 338.6,272.1 339.0,269.5 339.3,270.5 339.6,269.0 340.0,271.1 340.3,269.5 340.7,269.8 341.0,268.6 341.3,268.5 341.7,268.3 342.0,267.2 342.4,267.0 342.8,266.8 343.0,267.1 343.4,267.5 343.7,268.2 344.1,268.1 344.4,268.6 344.7,270.0 345.1,270.1 345.4,269.9 345.8,272.2 346.1,270.4 346.4,272.2 346.8,271.2 347.1,273.1 347.5,271.2 347.8,273.2 348.1,272.7 348.5,273.2 348.8,272.2 349.2,270.7 349.5,272.2 349.8,273.3 350.2,271.2 350.5,271.9 350.9,272.4 351.2,271.9 351.5,271.2 351.9,271.8 352.2,270.8 352.6,271.2 352.9,270.4 353.2,272.5 353.6,273.0 353.9,270.9 354.3,270.6 354.6,272.1 354.9,270.6 355.3,271.7 355.6,271.3 356.0,272.4 356.3,273.2 356.6,273.4 357.0,272.9 357.3,273.2 357.7,274.2 358.0,271.8 358.3,271.2 358.7,271.5 359.0,272.4 359.4,272.9 359.7,273.0 360.0,270.9 360.4,272.1 360.7,270.6 361.1,272.1 361.4,272.7 361.7,271.5 362.1,271.8 362.4,271.0 362.8,269.2 363.1,266.3 363.4,264.0 363.8,260.8 364.1,259.0 364.3,258.5 364.5,259.1 364.8,260.9 365.1,263.7 365.5,267.2 365.8,268.9 366.2,270.6 366.5,272.5 366.8,271.9 367.2,272.1 367.5,273.6 367.9,272.6 368.2,272.0 368.5,273.7 368.9,273.4 369.2,274.7 369.6,273.1 369.9,274.1 370.2,271.6 370.6,271.3 370.9,272.2 371.3,273.6 371.6,272.4 371.9,273.6 372.3,273.0 372.6,273.3 373.0,273.0 373.3,273.0 373.6,272.4 374.0,274.2 374.3,272.6 374.7,274.8 375.0,273.7 375.3,272.8 375.7,273.2 376.0,273.5 376.4,275.0 376.7,273.6 377.0,274.8 377.4,274.1 377.7,273.7 378.1,275.1 378.4,273.9 378.7,273.2 379.1,272.8 379.4,272.8 379.8,272.4 380.1,273.8 380.4,273.8 380.8,273.5 381.1,273.6 381.5,273.4 381.8,273.0 382.1,272.0 382.5,274.0 382.8,272.3 383.2,273.6 383.5,272.8 383.8,274.7 384.2,274.6 384.5,273.9 384.9,274.3 385.2,274.5 385.5,274.4 385.9,273.0 386.2,272.6 386.6,274.8 386.9,271.9 387.2,272.8 387.6,274.3 387.9,272.3 388.3,272.8 388.6,273.2 388.9,272.5 389.3,273.1 389.6,274.7 390.0,273.4 390.3,275.5 390.6,273.0 391.0,273.6 391.3,274.4 391.7,273.3 392.0,274.0 392.3,274.2 392.7,274.2 393.0,275.1 393.4,273.8 393.7,275.2 394.0,273.4 394.4,274.8 394.7,273.8 395.1,274.5 395.4,274.2 395.7,274.7 396.1,272.9 396.4,273.2 396.8,273.9 397.1,274.1 397.4,273.8 397.8,275.0 398.1,273.9 398.5,275.6 398.8,275.6 399.1,273.2 399.5,274.4 399.8,275.2 400.2,273.4 400.5,274.9 400.8,274.5 401.2,274.1 401.5,273.7 401.9,274.6 402.2,273.4 402.5,273.7 402.9,273.9 403.2,276.0 403.6,274.6 403.9,274.3 404.2,274.5 404.6,275.6 404.9,274.9 405.3,275.1 405.6,274.9 405.9,273.8 406.3,274.3 406.6,275.2 407.0,273.4 407.3,271.9 407.6,268.3 408.1,264.3 408.3,265.5 408.7,268.7 409.0,272.5 409.3,273.4 409.7,273.8 410.0,273.8 410.4,273.9 410.7,275.4 411.0,274.3 411.4,274.1 411.7,275.0 412.1,275.7 412.4,275.0 412.7,274.0 413.1,275.5 413.4,275.4 413.8,275.7 414.1,273.7 414.4,274.0 414.8,275.9 415.1,275.0 415.5,274.2 415.8,274.0 416.1,275.2 416.5,275.2 416.8,274.9 417.2,276.0 417.5,274.7 417.8,276.0 418.2,274.4 418.5,276.0 418.9,274.5 419.2,273.5 419.5,274.8 419.9,274.7 420.2,273.7 420.6,275.7 420.9,275.2 421.2,275.6 421.6,274.9 421.9,276.5 422.3,276.4 422.6,274.9 422.9,276.7 423.3,276.0 423.6,275.2 424.0,274.4 424.3,274.7 424.6,275.0 425.0,275.4 425.3,276.4 425.7,275.4 426.0,277.2 426.3,276.3 426.7,275.8 427.0,275.7 427.4,275.3 427.7,275.5 428.0,274.6 428.4,274.5 428.7,274.8 429.1,275.3 429.4,274.8 429.7,275.7 430.1,274.8 430.4,276.4 430.8,274.5 431.1,275.7 431.4,275.2 431.8,276.0 432.1,275.0 432.5,275.5 432.8,275.2 433.1,276.6 433.5,276.7 433.8,276.8 434.2,277.2 434.5,276.1 434.8,276.2 435.2,277.1 435.5,275.8 435.9,275.9 436.2,276.6 436.5,275.0 436.9,276.8 437.2,275.9 437.6,276.5 437.9,275.1 438.2,275.5 438.6,275.7 438.9,275.9 439.3,275.5 439.6,275.5 439.9,276.2 440.3,274.8 440.6,275.5 441.0,276.3 441.3,275.4 441.6,275.8 442.0,275.4 442.3,276.7 442.7,276.0 443.0,275.6 443.3,274.1 443.7,274.9 444.0,276.1 444.4,274.9 444.7,276.0 445.0,276.6 445.4,276.4 445.7,276.3 446.1,275.5 446.4,275.2 446.7,277.0 447.1,275.9 447.4,276.9 447.8,276.2 448.1,276.8 448.4,274.7 448.8,276.9 449.1,276.8 449.5,276.5 449.8,275.4 450.1,275.6 450.5,277.4 450.8,276.3 451.2,276.9 451.5,277.4 451.8,275.5 452.2,275.4 452.5,275.4 452.9,276.1 453.2,277.6 453.5,277.1 453.9,277.0 454.2,275.4 454.6,276.0 454.9,275.6 455.2,275.7 455.6,275.9 455.9,275.5 456.3,276.6 456.6,276.4 456.9,276.4 457.3,276.1 457.6,277.2 458.0,276.3 458.3,275.6 458.6,276.0 459.0,275.9 459.3,275.7 459.7,275.7 460.0,275.7 460.3,276.7 460.7,275.5 461.0,277.0 461.4,276.9 461.7,276.3 462.0,276.7 462.4,275.4 462.7,276.0 463.1,277.4 463.4,276.5 463.7,277.3 464.1,277.5 464.4,277.2 464.8,276.5 465.1,276.0 465.4,275.7 465.8,277.3 466.1,277.0 466.5,275.5 466.8,276.4 467.1,275.3 467.5,275.3 467.8,274.0 468.2,273.4 468.5,273.4 468.8,273.1 469.0,272.9 469.2,273.1 469.5,273.2 469.9,273.8 470.2,274.9 470.5,275.7 470.9,276.1 471.2,276.2 471.6,277.3 471.9,276.1 472.2,276.6 472.6,277.5 472.9,276.1 473.3,275.7 473.6,276.4 473.9,276.4 474.3,275.9 474.6,276.7 475.0,277.1 475.3,275.6 475.6,275.8 476.0,277.1 476.3,276.5 476.7,277.1 477.0,276.4 477.3,277.2 477.7,277.5 478.0,276.9 478.4,276.4 478.7,275.2 479.0,275.0 479.4,274.6 479.7,274.2 480.0,274.0 480.4,274.0 480.7,274.3 481.1,275.2 481.4,276.0 481.8,276.5 482.1,277.4 482.4,276.2 482.8,277.8 483.1,276.8 483.5,276.1 483.8,277.8 484.1,276.0 484.5,277.0 484.8,278.0 485.2,277.6 485.5,278.1 485.8,277.5 486.2,276.8 486.5,277.2 486.9,277.4 487.2,277.0 487.5,277.0 487.9,277.3 488.2,277.0 488.6,277.4 488.9,276.5 489.2,277.6 489.6,276.4 489.9,276.2 490.3,276.5 490.6,277.7 490.9,277.1 491.3,278.0 491.6,276.8 492.0,278.1 492.3,277.5 492.6,278.5 493.0,276.8 493.3,278.4 493.7,277.3 494.0,278.3 494.3,277.9 494.7,277.4 495.0,276.9 495.4,277.0 495.7,276.6 496.0,277.8 496.4,277.8 496.7,276.8 497.1,276.6 497.4,276.2 497.7,276.9 498.1,276.4 498.4,276.0 498.8,275.1 499.1,274.6 499.4,274.1 499.7,273.9 500.1,274.3 500.5,274.8 500.8,275.3 501.1,275.8 501.5,276.9 501.8,277.6 502.2,277.7 502.5,276.6 502.8,277.0 503.2,276.9 503.5,278.7 503.9,277.4 504.2,276.8 504.5,278.3 504.9,277.2 505.2,276.8 505.6,277.5 505.9,277.0 506.2,278.0 506.6,277.9 506.9,277.5 507.3,278.5 507.6,279.1 507.9,277.9 508.3,277.8 508.6,278.2 509.0,278.1 509.3,277.3 509.6,279.0 510.0,277.0 510.3,277.4 510.7,277.0 511.0,277.8 511.3,278.2 511.7,278.0 512.0,276.9 512.4,277.7 512.7,277.4 513.0,276.6 513.4,276.4 513.7,277.3 514.1,276.7 514.4,276.3 514.7,276.0 515.1,275.8 515.4,275.7 515.8,275.4 516.0,275.4 516.4,275.8 516.8,275.8 517.1,276.4 517.5,276.8 517.8,277.2 518.1,277.4 518.5,277.2 518.8,278.1 519.2,277.5 519.5,278.5 519.8,279.0 520.2,277.3 520.5,277.3 520.9,278.7 521.2,278.3 521.5,278.5 521.9,278.5 522.2,278.6 522.6,277.2 522.9,278.3 523.2,278.0 523.6,278.3 523.9,276.9 524.3,278.8 524.6,277.2 524.9,279.3 525.3,278.5 525.6,277.4 526.0,278.0 526.3,277.2 526.6,277.2 527.0,278.2 527.3,277.5 527.7,277.6 528.0,277.8 528.3,278.6 528.7,278.8 529.0,279.2 529.4,277.7 529.7,279.1 530.0,278.3 530.4,277.6 530.7,277.9 531.1,279.2 531.4,279.1 531.7,278.8 532.1,279.2 532.4,279.8 532.8,278.8 533.1,278.4 533.4,278.0 533.8,279.3 534.1,278.2 534.5,279.7 534.8,279.8 535.1,279.0 535.5,279.2 535.8,278.1 536.2,279.6 536.5,278.4 536.8,279.2 537.2,278.2 537.5,279.0 537.9,278.0 538.2,279.6 538.5,278.8 538.9,278.4 539.2,278.6 539.6,278.1 539.9,278.9 540.2,279.4 540.6,278.5 540.9,278.1 541.3,278.6 541.6,278.3 541.9,278.6 542.3,279.1 542.6,279.5 543.0,279.7 543.3,278.6 543.6,280.1 544.0,279.3 544.3,279.1 544.7,279.2 545.0,280.2 545.3,278.4 545.7,279.8 546.0,279.5 546.4,279.2 546.7,278.9 547.0,279.3 547.4,279.5 547.7,278.9 548.1,279.9 548.4,278.9 548.7,278.8 549.1,279.3 549.4,277.3 549.8,279.5 550.1,278.4 550.4,277.3 550.8,278.4 551.1,277.4 551.5,277.6 551.8,277.7 552.1,278.0 552.5,277.3 552.8,276.5 553.2,276.3 553.5,275.8 553.8,275.4 554.0,275.4 554.2,275.4 554.5,275.6 554.9,276.1 555.2,276.3 555.5,276.6 555.9,277.0 556.2,277.5 556.6,277.7 556.9,277.3 557.2,279.0 557.6,278.6 557.9,278.3 558.3,278.6 558.6,278.7 558.9,277.9 559.3,278.9 559.6,278.1 560.0,278.0 560.3,277.8 560.6,279.1 561.0,278.0 561.3,279.0 561.7,279.4 562.0,279.3 562.3,278.3 562.7,278.4 563.0,278.6 563.4,277.5 563.7,278.9 564.0,278.9 564.4,277.4 564.7,278.1 565.1,278.8 565.4,279.7 565.7,278.4 566.1,279.5 566.4,277.9 566.8,278.5 567.1,277.8 567.4,278.9 567.8,277.4 568.1,277.2 568.5,277.6 568.8,277.7 569.1,277.4 569.5,276.6 569.8,276.7 570.2,276.2 570.5,276.0 570.8,276.1 571.0,275.9 571.2,275.9 571.5,276.2 571.9,276.3 572.2,276.8 572.5,277.1 572.9,277.3 573.2,277.0 573.6,278.0 573.9,277.6 574.2,276.9 574.6,278.2 574.9,277.1 575.3,277.4 575.6,278.6 575.9,277.3 576.3,279.2 576.6,277.9 577.0,278.9 577.3,277.9 577.6,279.7 578.0,279.5 578.3,279.1 578.7,278.4 579.0,278.5 579.3,279.2 579.7,278.1 580.0,279.4 580.4,279.7 580.7,278.0 581.0,278.1 581.4,279.9 581.7,279.6 582.1,277.7 582.4,277.9 582.7,279.0 583.1,279.3 583.4,279.9 583.8,278.0 584.1,278.6 584.4,278.5 584.8,279.8 585.1,278.8 585.5,277.9 585.8,278.3 586.1,279.1 586.5,277.8 586.8,278.5 587.2,278.7 587.5,278.3 587.8,278.5 588.2,277.8 588.5,279.3 588.9,277.6 589.2,278.8 589.5,278.1 589.9,278.6 590.2,279.3 590.6,279.8 590.9,279.7 591.2,279.4 591.6,279.2 591.9,279.5 592.3,278.4 592.6,278.0 592.9,279.7 593.3,279.2 593.6,278.7 594.0,278.4 594.3,279.6 594.6,278.2 595.0,278.1 595.3,279.4 595.7,279.2 596.0,279.6 596.3,279.7 596.7,279.8 597.0,278.2 597.4,277.9 597.7,278.6 598.0,278.2 598.4,278.0 598.7,278.4 599.1,278.9 599.4,278.6 599.7,278.2 600.1,277.7 600.4,279.4 600.8,278.8 601.1,278.1 601.4,279.5 601.8,277.7 602.1,277.7 602.5,278.0 602.8,279.4 603.1,278.9 603.5,279.4 603.8,279.8 604.2,279.9 604.5,279.7 604.8,278.6 605.2,279.0 605.5,278.0 605.9,278.1 606.2,279.2 606.5,278.9 606.9,279.5 607.2,278.4 607.6,280.1 607.9,279.5 608.2,278.7 608.6,279.5 608.9,279.4 609.3,279.6 609.6,280.3 609.9,279.1 610.3,278.3 610.6,278.5 611.0,279.0 611.3,278.4 611.6,278.5 612.0,278.8 612.3,278.4 612.7,277.3 613.0,277.4 613.3,277.6 613.7,278.6 614.0,277.9 614.4,278.5 614.7,278.7 615.0,278.7 615.4,279.4 615.7,278.6 616.1,278.1 616.4,279.0 616.7,277.9 617.1,278.5 617.4,277.7 617.8,276.9 618.1,276.5 618.4,276.2 618.8,276.0 619.0,276.1 619.1,276.0 619.5,276.2 619.8,276.6 620.1,276.8 620.5,277.3 620.8,278.4 621.2,278.2 621.5,278.3 621.8,279.4 622.2,278.2 622.5,279.4 622.9,278.2 623.2,278.2 623.5,278.2 623.9,278.0 624.2,277.9 624.6,277.9 624.9,278.6 625.2,278.4 625.6,277.6 625.9,278.6 626.3,279.7 626.6,279.5 626.9,278.0 627.3,278.3 627.6,279.0 628.0,279.0 628.3,277.9 628.6,278.5 629.0,278.8 629.3,279.4 629.7,278.8 630.0,279.3 630.3,279.9 630.7,279.9 631.0,278.4 631.4,279.7 631.7,278.2 632.0,278.1 632.4,280.1 632.7,279.8 633.1,278.2 633.4,279.9 633.7,278.6 634.1,279.9 634.4,279.3 634.8,279.4 635.1,279.9 635.4,279.0 635.8,279.1 636.1,278.6 636.5,278.6 636.8,279.1 637.1,279.7 637.5,278.9 637.8,278.2 638.2,278.6 638.5,279.1 638.8,278.2 639.2,278.5 639.5,278.3 639.9,279.6 640.2,278.9 640.5,278.2 640.9,279.1 641.2,279.3 641.6,279.2 641.9,279.6 642.2,278.8 642.6,278.3 642.9,279.5 643.3,279.2 643.6,279.3 643.9,278.0 644.3,278.6 644.6,279.2 645.0,279.4 645.3,278.2 645.6,279.7 646.0,279.0 646.3,279.3 646.7,279.8 647.0,278.6 647.3,279.7 647.7,279.8 648.0,278.9 648.4,278.5 648.7,279.1 649.0,279.1 649.4,278.8 649.7,279.4 650.1,279.7 650.4,279.9 650.7,280.5 651.1,280.3 651.4,278.4 651.8,280.4 652.1,280.3 652.4,280.5 652.8,280.2 653.1,280.4 653.5,280.5 653.8,278.9 654.1,278.8 654.5,279.7 654.8,280.1 655.2,279.3 655.5,278.8 655.8,280.0 656.2,279.0 656.5,279.8 656.9,279.8 657.2,279.3 657.5,279.1 657.9,280.2 658.2,278.6 658.6,279.1 658.9,278.7 659.2,279.9 659.6,279.4 659.9,280.2 660.3,279.2 660.6,280.0 660.9,279.1 661.3,280.1 661.6,280.3 662.0,279.0 662.3,279.6 662.6,279.2 663.0,280.0 663.3,280.3 663.7,280.2 664.0,280.1 664.3,280.2 664.7,280.7 665.0,279.8 665.4,280.5 665.7,280.2 666.0,279.5 666.4,280.4 666.7,279.7 667.1,279.6 667.4,279.4 667.7,279.3 668.1,279.3 668.4,278.5 668.8,279.6 669.1,279.5 669.4,279.4 669.8,279.6 670.1,280.6 670.5,279.7 670.8,278.5 671.1,278.6 671.5,279.1 671.8,279.5 672.2,279.2 672.5,279.9 672.8,280.1 673.2,278.8 673.5,279.5 673.9,279.2" fill="none" stroke="#aa6ee0" stroke-width="1.5" stroke-linejoin="round"/><polyline points="1.0,305.5 1.3,309.4 1.7,310.5 2.0,310.2 2.4,312.4 2.7,309.0 3.0,313.5 3.4,310.0 3.7,309.6 4.1,309.5 4.4,310.5 4.7,311.5 5.1,309.6 5.4,312.9 5.8,311.5 6.1,314.4 6.4,312.3 6.8,311.2 7.1,310.9 7.5,313.9 7.8,312.6 8.1,310.7 8.5,311.0 8.8,310.4 9.2,313.1 9.5,314.6 9.8,311.6 10.2,311.1 10.5,315.4 10.9,315.0 11.2,310.9 11.5,312.8 11.9,313.0 12.2,315.8 12.6,310.8 12.9,314.7 13.2,312.5 13.6,311.1 13.9,311.3 14.3,311.7 14.6,310.2 14.9,310.7 15.3,313.1 15.6,310.7 16.0,313.7 16.3,311.8 16.6,314.1 17.0,310.6 17.3,312.4 17.7,311.8 18.0,313.5 18.3,312.9 18.7,312.9 19.0,311.2 19.4,313.8 19.7,314.3 20.0,313.3 20.4,312.7 20.7,311.9 21.1,312.2 21.4,313.6 21.7,313.1 22.1,311.7 22.4,315.3 22.8,314.4 23.1,312.0 23.4,315.9 23.8,313.9 24.1,313.3 24.5,314.5 24.8,310.9 25.1,311.2 25.5,314.6 25.8,311.4 26.2,312.3 26.5,316.1 26.8,313.0 27.2,315.4 27.5,312.1 27.9,314.9 28.2,311.5 28.5,314.2 28.9,316.0 29.2,314.9 29.6,315.2 29.9,313.7 30.2,315.1 30.6,314.8 30.9,312.7 31.3,316.2 31.6,316.1 31.9,315.0 32.3,313.8 32.6,315.1 33.0,314.1 33.3,314.2 33.6,314.5 34.0,315.5 34.3,315.7 34.7,312.3 35.0,315.3 35.3,314.7 35.7,313.0 36.0,315.1 36.4,313.0 36.7,312.8 37.0,313.5 37.4,316.5 37.7,313.1 38.1,313.4 38.4,314.3 38.7,314.6 39.1,313.3 39.4,314.8 39.8,316.8 40.1,314.9 40.4,315.1 40.8,312.9 41.0,311.9 41.1,312.3 41.5,314.1 41.8,316.7 42.1,317.2 42.5,316.7 42.8,318.1 43.2,314.6 43.5,313.7 43.8,316.4 44.2,317.0 44.5,316.8 44.9,318.2 45.2,315.5 45.5,315.1 45.9,316.4 46.2,318.1 46.6,316.6 46.9,318.0 47.2,317.4 47.6,316.6 47.9,317.6 48.3,316.6 48.6,318.5 48.9,317.9 49.3,315.4 49.6,314.7 50.0,317.6 50.3,317.8 50.6,318.4 51.0,317.2 51.3,315.9 51.7,318.1 52.0,319.8 52.3,318.9 52.7,319.1 53.0,316.1 53.4,318.3 53.7,316.5 54.0,315.9 54.4,317.1 54.7,318.4 55.1,319.5 55.4,320.0 55.7,319.7 56.1,318.9 56.4,317.7 56.8,316.3 57.0,315.9 57.4,318.2 57.8,320.6 58.1,321.1 58.5,319.7 58.8,319.5 59.1,317.9 59.5,320.7 59.8,319.6 60.2,319.5 60.5,318.5 60.8,319.5 61.2,321.9 61.5,321.9 61.9,322.3 62.2,319.9 62.5,322.3 62.9,323.2 63.2,318.9 63.6,323.4 63.9,318.4 64.2,321.0 64.6,321.2 64.9,319.5 65.3,320.0 65.6,319.4 65.9,322.6 66.3,319.8 66.6,324.9 67.0,324.5 67.3,324.4 67.6,321.7 68.0,324.3 68.3,324.5 68.7,322.5 69.0,322.8 69.3,323.5 69.7,320.1 70.0,321.6 70.4,323.3 70.7,322.8 71.0,324.3 71.4,324.5 71.7,321.3 72.1,324.7 72.4,320.2 72.7,322.4 73.1,322.9 73.4,322.6 73.8,322.2 74.1,321.0 74.4,324.0 74.8,321.1 75.1,323.8 75.5,321.0 75.8,325.1 76.1,325.0 76.5,322.1 76.8,324.0 77.2,323.4 77.5,326.2 77.8,323.6 78.2,322.7 78.5,323.5 78.9,323.7 79.2,323.5 79.5,325.9 79.9,323.2 80.2,322.2 80.6,322.5 80.9,326.2 81.2,323.6 81.6,322.9 81.9,324.0 82.3,322.9 82.6,324.0 82.9,322.3 83.3,323.4 83.6,326.1 84.0,324.4 84.3,325.4 84.6,323.2 85.0,322.3 85.3,323.5 85.7,323.0 86.0,325.2 86.3,326.1 86.7,323.8 87.0,325.8 87.4,325.8 87.7,327.4 88.0,326.8 88.4,327.7 88.7,327.1 89.1,324.1 89.4,324.5 89.7,325.5 90.1,327.6 90.4,327.4 90.8,324.5 91.1,327.5 91.4,325.9 91.8,326.3 92.1,326.0 92.5,325.1 92.8,326.3 93.1,326.5 93.5,327.3 93.8,328.3 94.2,327.2 94.5,328.8 94.8,327.5 95.2,325.0 95.5,328.1 95.9,326.6 96.2,328.2 96.5,325.6 96.9,327.3 97.2,325.0 97.6,327.4 97.9,327.0 98.2,327.8 98.6,325.2 98.9,327.5 99.3,328.3 99.6,327.3 99.9,326.4 100.3,329.3 100.6,328.2 101.0,327.9 101.3,329.0 101.6,328.8 102.0,329.7 102.3,328.3 102.7,329.8 103.0,328.8 103.3,327.4 103.7,325.7 104.0,329.2 104.4,327.7 104.7,329.2 105.0,328.9 105.4,329.3 105.7,327.1 106.1,328.9 106.4,329.2 106.7,327.9 107.1,328.6 107.4,331.0 107.8,327.3 108.1,330.7 108.4,327.5 108.8,327.7 109.1,331.2 109.5,327.5 109.8,331.8 110.1,329.2 110.5,332.9 110.8,330.9 111.2,329.3 111.5,330.7 111.8,331.1 112.2,331.8 112.5,328.0 112.9,331.6 113.2,330.8 113.5,328.6 113.9,330.2 114.2,329.5 114.6,331.2 114.9,329.3 115.2,333.1 115.6,332.5 115.9,331.8 116.3,333.6 116.6,331.4 116.9,331.8 117.3,332.1 117.6,331.3 118.0,329.7 118.3,331.3 118.6,329.6 119.0,331.2 119.3,329.5 119.7,329.9 120.0,330.7 120.3,328.8 120.7,330.8 121.0,331.9 121.4,331.7 121.7,330.4 122.0,329.6 122.4,331.8 122.7,330.8 123.1,330.5 123.4,332.2 123.7,333.5 124.1,330.7 124.4,329.4 124.8,332.4 125.1,331.2 125.4,332.8 125.8,332.1 126.1,330.8 126.5,332.4 126.8,331.5 127.1,332.2 127.5,329.9 127.8,330.0 128.2,333.6 128.5,329.6 128.8,333.1 129.2,334.9 129.5,334.5 129.9,332.4 130.2,331.6 130.5,332.4 130.9,331.8 131.2,333.1 131.6,333.4 131.9,333.6 132.2,334.2 132.6,332.5 132.9,331.5 133.3,331.5 133.6,334.6 133.9,331.4 134.3,330.7 134.6,333.3 135.0,333.3 135.3,334.7 135.6,334.9 136.0,335.7 136.3,336.0 136.7,332.1 137.0,336.2 137.3,333.1 137.7,332.7 138.0,336.4 138.4,333.3 138.7,332.8 139.0,334.4 139.4,335.2 139.7,333.3 140.1,335.3 140.4,335.1 140.7,333.6 141.1,331.8 141.4,332.0 141.8,330.9 142.1,332.5 142.4,331.3 142.8,328.3 143.1,323.7 143.3,322.6 143.5,324.0 143.8,329.0 144.1,331.3 144.5,331.5 144.8,332.3 145.2,333.9 145.5,335.9 145.8,333.8 146.2,331.1 146.5,332.2 146.9,331.6 147.2,333.8 147.5,332.4 147.9,332.8 148.2,332.3 148.6,331.3 148.9,334.5 149.2,332.9 149.6,332.2 149.9,332.5 150.3,331.8 150.6,336.3 150.9,333.3 151.3,336.8 151.6,337.2 152.0,333.1 152.3,336.0 152.6,332.9 153.0,334.8 153.3,335.3 153.7,333.1 154.0,331.9 154.3,333.4 154.7,332.5 155.0,330.8 155.4,330.2 155.7,329.0 156.1,328.4 156.4,328.7 156.7,330.2 157.1,331.6 157.4,332.1 157.7,333.3 158.1,334.3 158.4,335.4 158.8,334.5 159.1,336.5 159.4,332.6 159.8,335.8 160.1,335.6 160.5,332.4 160.8,335.3 161.1,332.7 161.5,336.4 161.8,335.4 162.2,333.5 162.5,336.3 162.8,333.9 163.2,332.6 163.5,334.7 163.9,335.9 164.2,335.7 164.5,335.3 164.9,335.2 165.2,333.8 165.6,333.4 165.9,333.9 166.2,336.4 166.6,332.4 166.9,333.1 167.3,336.3 167.6,332.1 167.9,334.6 168.3,336.3 168.6,334.8 169.0,335.5 169.3,332.0 169.6,334.8 170.0,334.4 170.3,333.8 170.7,331.9 171.0,332.5 171.3,331.8 171.7,330.5 172.0,328.0 172.4,327.7 172.5,327.5 172.7,327.5 173.0,328.9 173.4,330.6 173.7,332.3 174.1,334.3 174.4,335.1 174.7,335.8 175.1,333.8 175.4,334.5 175.8,337.6 176.1,334.9 176.4,333.5 176.8,336.7 177.1,334.0 177.5,336.8 177.8,336.2 178.1,337.0 178.5,334.1 178.8,336.2 179.2,334.1 179.5,333.7 179.8,336.0 180.2,336.4 180.5,336.0 180.9,333.4 181.2,335.6 181.5,335.5 181.9,334.7 182.2,335.8 182.6,334.4 182.9,337.1 183.2,335.2 183.6,335.3 183.9,335.8 184.3,334.9 184.6,335.4 184.9,336.8 185.3,334.7 185.6,333.5 186.0,336.5 186.3,334.6 186.6,337.5 187.0,333.4 187.3,336.6 187.7,334.9 188.0,337.3 188.3,335.1 188.7,333.9 189.0,336.4 189.4,334.3 189.7,337.3 190.0,335.8 190.4,336.9 190.7,335.7 191.1,334.8 191.4,333.9 191.7,331.6 192.1,332.2 192.4,332.2 192.8,333.6 193.1,335.6 193.4,331.3 193.8,331.9 194.1,331.8 194.5,333.2 194.8,331.0 195.1,327.5 195.3,326.6 195.5,327.9 195.8,330.6 196.2,334.2 196.5,335.8 196.8,334.6 197.2,334.4 197.5,334.0 197.9,337.9 198.2,333.6 198.5,337.1 198.9,337.6 199.2,335.0 199.6,333.2 199.9,335.5 200.2,333.3 200.6,334.7 200.9,334.0 201.3,335.6 201.6,336.0 201.9,335.3 202.3,335.2 202.6,336.0 203.0,333.7 203.3,334.8 203.6,334.5 204.0,334.4 204.3,336.4 204.7,334.4 205.0,336.8 205.3,333.2 205.7,331.5 206.1,327.7 206.4,329.3 206.7,333.1 207.0,335.8 207.4,334.9 207.7,337.2 208.1,335.9 208.4,336.3 208.7,335.4 209.1,336.2 209.4,332.9 209.8,327.2 210.1,316.8 210.4,306.8 210.6,304.4 210.8,306.5 211.1,317.4 211.5,328.8 211.8,331.9 212.1,332.9 212.5,334.1 212.8,336.1 213.2,336.9 213.5,333.5 213.8,335.4 214.2,335.6 214.5,333.8 214.9,333.7 215.2,334.2 215.5,334.0 215.9,335.6 216.2,336.0 216.6,335.8 216.9,334.5 217.2,333.7 217.6,332.4 217.9,332.4 218.3,334.7 218.6,332.4 218.9,333.7 219.3,332.5 219.6,330.4 220.0,326.2 220.3,322.6 220.6,325.8 221.0,331.3 221.3,333.8 221.7,335.4 222.0,332.3 222.3,332.5 222.7,334.5 223.0,335.2 223.4,333.2 223.7,333.0 224.0,330.5 224.4,329.5 224.7,330.8 225.1,328.5 225.4,328.0 225.7,327.4 226.1,326.5 226.4,326.2 226.8,325.4 227.0,325.4 227.4,325.5 227.8,326.4 228.1,326.9 228.5,327.5 228.8,327.2 229.1,326.9 229.5,326.5 229.8,324.7 230.2,320.2 230.5,316.0 230.8,311.6 231.2,307.4 231.6,304.8 231.9,306.1 232.2,310.5 232.5,315.8 232.9,321.0 233.2,326.7 233.6,330.2 233.9,332.0 234.2,334.3 234.6,334.1 234.9,335.2 235.3,335.2 235.6,336.6 235.9,335.7 236.3,335.5 236.6,339.3 237.0,335.6 237.3,336.5 237.6,338.8 238.0,335.7 238.3,338.0 238.7,338.7 239.0,337.8 239.3,338.6 239.7,338.3 240.0,340.1 240.4,338.9 240.7,335.8 241.0,337.8 241.4,334.1 241.7,335.5 242.1,338.4 242.4,334.7 242.7,335.4 243.1,334.6 243.4,337.9 243.8,335.0 244.1,337.2 244.4,337.5 244.8,339.1 245.1,336.2 245.5,335.9 245.8,338.9 246.1,336.5 246.5,336.3 246.8,335.6 247.2,331.8 247.5,327.8 247.8,324.5 248.2,318.9 248.5,313.8 248.9,310.2 249.1,309.2 249.5,311.7 249.9,316.8 250.2,322.1 250.6,326.6 250.9,331.0 251.2,332.7 251.6,336.7 251.9,336.4 252.3,339.1 252.6,338.7 252.9,338.8 253.3,337.9 253.6,340.4 254.0,339.8 254.3,342.1 254.6,340.2 255.0,343.2 255.3,340.4 255.7,343.1 256.0,341.3 256.3,341.4 256.7,341.6 257.0,342.6 257.4,340.5 257.7,341.7 258.0,340.5 258.4,338.4 258.7,339.0 259.1,338.0 259.4,337.0 259.7,336.7 260.1,335.4 260.4,335.4 260.8,335.9 261.1,336.4 261.4,336.6 261.8,337.6 262.1,337.7 262.5,340.4 262.8,338.6 263.1,338.2 263.5,340.7 263.8,339.8 264.2,339.4 264.5,340.3 264.8,340.4 265.2,340.0 265.5,341.6 265.9,340.1 266.2,341.0 266.5,344.2 266.9,341.6 267.2,342.6 267.6,341.2 267.9,340.8 268.2,341.5 268.6,339.9 268.9,341.3 269.3,341.1 269.6,343.6 269.9,344.7 270.3,344.0 270.6,343.0 271.0,342.1 271.3,344.4 271.6,343.9 272.0,344.8 272.3,344.0 272.7,341.8 273.0,343.9 273.3,342.2 273.7,345.4 274.0,341.7 274.4,342.8 274.7,341.3 275.0,343.3 275.4,341.3 275.7,345.9 276.1,344.2 276.4,344.5 276.7,343.4 277.1,343.3 277.4,342.8 277.8,341.5 278.1,343.4 278.4,343.1 278.8,343.3 279.1,342.4 279.5,341.6 279.8,343.9 280.1,345.1 280.5,343.2 280.8,343.5 281.2,343.4 281.5,342.7 281.8,345.0 282.2,344.6 282.5,346.1 282.9,344.0 283.2,342.2 283.5,342.7 283.9,343.9 284.2,342.8 284.6,343.8 284.9,344.3 285.2,344.3 285.6,344.3 285.9,344.3 286.3,344.0 286.6,342.9 286.9,342.6 287.3,344.7 287.6,345.1 288.0,343.6 288.3,344.7 288.6,342.6 289.0,344.4 289.3,345.6 289.7,344.5 290.0,345.2 290.3,341.9 290.7,344.6 291.0,342.0 291.4,343.7 291.7,344.6 292.0,343.0 292.4,341.4 292.7,344.3 293.1,341.7 293.4,343.6 293.7,343.2 294.1,343.6 294.4,344.8 294.8,345.8 295.1,345.4 295.4,345.2 295.8,345.6 296.1,342.8 296.5,344.0 296.8,345.3 297.1,344.2 297.5,346.2 297.8,345.7 298.2,344.6 298.5,345.5 298.8,343.4 299.2,345.3 299.5,342.5 299.9,346.0 300.2,343.9 300.5,346.4 300.9,343.0 301.2,343.2 301.6,343.6 301.9,343.6 302.2,343.0 302.6,345.3 302.9,344.7 303.3,344.5 303.6,343.8 303.9,343.9 304.3,344.3 304.6,342.7 305.0,344.0 305.3,343.4 305.6,344.5 306.0,344.5 306.3,347.2 306.7,345.0 307.0,346.3 307.3,346.4 307.7,346.6 308.0,346.6 308.4,346.5 308.7,344.0 309.0,346.2 309.4,344.2 309.7,344.3 310.1,343.9 310.4,343.8 310.7,345.8 311.1,344.1 311.4,345.4 311.8,343.7 312.1,343.3 312.4,341.8 312.8,340.2 313.2,339.9 313.5,340.0 313.8,340.8 314.1,342.2 314.5,343.1 314.8,343.1 315.2,344.4 315.5,343.1 315.8,346.1 316.2,345.7 316.5,346.1 316.9,346.1 317.2,346.2 317.5,344.5 317.9,343.5 318.2,342.4 318.6,343.4 318.9,341.9 319.2,339.2 319.6,333.6 320.0,329.2 320.3,331.2 320.6,336.4 320.9,341.7 321.3,342.5 321.6,343.9 322.0,344.9 322.3,342.5 322.6,343.6 323.0,346.1 323.3,344.9 323.7,342.9 324.0,345.8 324.3,345.2 324.7,345.2 325.0,342.9 325.4,343.5 325.7,343.9 326.0,343.4 326.4,345.2 326.7,343.4 327.1,344.1 327.4,343.2 327.7,345.0 328.1,342.8 328.4,342.2 328.8,344.7 329.1,342.8 329.4,342.6 329.8,345.4 330.1,343.6 330.5,344.5 330.8,343.0 331.1,344.4 331.5,344.5 331.8,343.1 332.2,342.8 332.5,342.6 332.8,344.1 333.2,343.6 333.5,344.9 333.9,343.7 334.2,344.3 334.5,343.5 334.9,343.7 335.2,343.1 335.6,343.9 335.9,343.3 336.2,343.5 336.6,342.7 336.9,342.1 337.3,342.1 337.6,341.8 337.9,342.9 338.3,343.5 338.6,343.3 339.0,343.6 339.3,343.8 339.6,344.8 340.0,343.8 340.3,344.4 340.7,343.2 341.0,342.7 341.3,342.8 341.5,342.4 341.7,342.5 342.0,343.0 342.4,343.7 342.7,344.0 343.0,345.2 343.4,345.0 343.7,346.3 344.1,345.3 344.4,344.7 344.7,345.4 345.1,345.1 345.4,346.9 345.8,346.5 346.1,345.2 346.4,347.0 346.8,347.2 347.1,344.9 347.5,346.3 347.8,346.7 348.1,346.9 348.5,345.6 348.8,347.4 349.2,346.8 349.5,347.7 349.8,347.0 350.2,347.9 350.5,345.8 350.9,347.1 351.2,346.0 351.5,347.3 351.9,345.8 352.2,345.0 352.6,346.1 352.9,347.2 353.2,345.8 353.6,346.7 353.9,346.9 354.3,345.3 354.6,346.3 354.9,347.4 355.3,346.1 355.6,347.4 356.0,346.0 356.3,344.8 356.6,347.1 357.0,345.0 357.3,344.4 357.7,346.2 358.0,346.0 358.3,347.7 358.7,348.0 359.0,347.3 359.4,346.0 359.7,346.3 360.0,348.0 360.4,347.3 360.7,347.5 361.1,346.2 361.4,345.8 361.7,343.7 362.1,342.9 362.4,340.7 362.8,337.9 363.1,335.8 363.4,335.5 363.8,336.1 364.1,338.7 364.5,341.4 364.8,343.5 365.1,345.8 365.5,345.3 365.8,347.3 366.2,347.3 366.5,346.4 366.8,346.7 367.2,347.8 367.5,346.8 367.9,348.3 368.2,346.1 368.5,346.2 368.9,346.0 369.2,348.0 369.6,346.4 369.9,346.7 370.2,347.2 370.6,346.0 370.9,347.1 371.3,347.4 371.6,345.9 371.9,347.2 372.3,347.7 372.6,347.3 373.0,346.7 373.3,346.4 373.6,348.9 374.0,348.4 374.3,347.3 374.7,348.1 375.0,346.1 375.3,348.9 375.7,346.7 376.0,347.0 376.4,346.4 376.7,346.8 377.0,346.5 377.4,347.0 377.7,347.2 378.1,347.8 378.4,346.7 378.7,348.9 379.1,349.1 379.4,347.4 379.8,347.2 380.1,348.7 380.4,347.8 380.8,347.4 381.1,347.0 381.5,346.7 381.8,348.9 382.1,348.5 382.5,346.9 382.8,349.7 383.2,347.7 383.5,349.2 383.8,349.0 384.2,348.4 384.5,349.1 384.9,348.3 385.2,349.1 385.5,348.3 385.9,347.5 386.2,348.5 386.6,349.4 386.9,349.2 387.2,348.0 387.6,346.6 387.9,348.1 388.3,348.7 388.6,346.4 388.9,346.4 389.3,347.5 389.6,346.8 390.0,347.1 390.3,347.1 390.6,348.2 391.0,348.3 391.3,349.1 391.7,346.4 392.0,346.8 392.3,349.0 392.7,348.4 393.0,348.6 393.4,346.8 393.7,349.7 394.0,347.5 394.4,347.0 394.7,347.2 395.1,347.3 395.4,348.1 395.7,347.6 396.1,347.6 396.4,347.3 396.8,347.6 397.1,349.1 397.4,348.3 397.8,347.0 398.1,349.6 398.5,349.9 398.8,348.1 399.1,348.7 399.5,347.1 399.8,349.0 400.2,347.4 400.5,347.9 400.8,350.3 401.2,347.7 401.5,349.1 401.9,349.4 402.2,348.2 402.5,350.0 402.9,348.9 403.2,347.5 403.6,349.5 403.9,348.9 404.2,347.8 404.6,348.6 404.9,348.5 405.3,347.9 405.6,347.1 405.9,346.0 406.3,345.2 406.7,344.9 407.0,345.5 407.3,345.9 407.6,346.6 408.0,347.9 408.3,348.0 408.7,349.5 409.0,349.4 409.3,349.4 409.7,347.9 410.0,348.7 410.4,349.9 410.7,349.1 411.0,348.2 411.4,350.2 411.7,350.6 412.1,350.1 412.4,349.8 412.7,348.9 413.1,349.4 413.4,350.0 413.8,350.3 414.1,350.3 414.4,349.0 414.8,350.2 415.1,351.1 415.5,349.5 415.8,349.0 416.1,349.6 416.5,349.4 416.8,350.7 417.2,348.7 417.5,349.9 417.8,350.2 418.2,347.9 418.5,350.0 418.9,349.3 419.2,349.8 419.5,349.9 419.9,349.7 420.2,350.6 420.6,349.3 420.9,349.7 421.2,350.0 421.6,350.0 421.9,349.2 422.3,350.5 422.6,350.8 422.9,348.8 423.3,350.2 423.6,350.6 424.0,350.0 424.3,348.3 424.6,348.5 425.0,349.6 425.3,350.3 425.7,350.5 426.0,348.0 426.3,350.2 426.7,349.9 427.0,350.1 427.4,349.1 427.7,350.1 428.0,350.6 428.4,349.9 428.7,350.9 429.1,350.0 429.4,349.0 429.7,349.3 430.1,348.9 430.4,349.2 430.8,350.0 431.1,349.4 431.4,350.2 431.8,349.2 432.1,349.2 432.5,349.2 432.8,349.6 433.1,350.9 433.5,349.7 433.8,350.6 434.2,351.4 434.5,350.6 434.8,349.8 435.2,351.2 435.5,351.5 435.9,350.6 436.2,350.7 436.5,351.4 436.9,349.5 437.2,351.5 437.6,350.1 437.9,350.9 438.2,350.2 438.6,350.2 438.9,351.6 439.3,350.5 439.6,351.4 439.9,349.8 440.3,351.1 440.6,349.6 441.0,350.4 441.3,351.4 441.6,349.7 442.0,350.0 442.3,351.2 442.7,350.2 443.0,350.7 443.3,350.9 443.7,350.6 444.0,351.5 444.4,350.9 444.7,349.5 445.0,348.8 445.4,350.8 445.7,349.8 446.1,350.9 446.4,349.2 446.7,350.1 447.1,350.3 447.4,349.9 447.8,350.5 448.1,349.6 448.4,350.5 448.8,351.7 449.1,349.6 449.5,351.4 449.8,351.5 450.1,350.3 450.5,351.3 450.8,350.4 451.2,350.8 451.5,349.5 451.8,351.7 452.2,351.3 452.5,349.9 452.9,350.5 453.2,350.1 453.5,350.8 453.9,350.9 454.2,351.3 454.6,350.3 454.9,351.9 455.2,350.0 455.6,351.6 455.9,350.4 456.3,350.8 456.6,351.8 456.9,350.5 457.3,350.2 457.6,351.5 458.0,351.3 458.3,350.9 458.6,351.3 459.0,352.1 459.3,350.1 459.7,351.6 460.0,352.1 460.3,351.4 460.7,350.7 461.0,351.3 461.4,351.3 461.7,352.3 462.0,351.5 462.4,351.4 462.7,350.4 463.1,351.6 463.4,349.6 463.7,350.4 464.1,350.6 464.4,350.6 464.8,349.4 465.1,350.2 465.4,349.6 465.8,349.4 466.1,350.2 466.5,349.5 466.8,348.8 467.1,348.4 467.5,347.9 467.7,348.0 467.8,348.0 468.2,348.0 468.5,348.4 468.8,348.9 469.2,349.6 469.5,349.9 469.9,349.1 470.2,350.7 470.5,349.9 470.9,350.6 471.2,348.8 471.6,350.6 471.9,350.1 472.2,349.0 472.6,349.0 472.9,349.6 473.3,350.8 473.6,350.6 473.9,349.6 474.3,349.6 474.6,350.6 475.0,349.4 475.3,349.0 475.6,350.3 476.0,350.0 476.3,350.6 476.7,349.1 477.0,349.6 477.3,349.5 477.7,349.0 478.0,348.8 478.4,348.5 478.7,348.2 479.0,347.9 479.4,348.0 479.7,348.3 480.1,348.8 480.4,349.1 480.7,348.9 481.1,349.3 481.4,348.9 481.8,349.5 482.1,348.3 482.4,349.9 482.8,350.2 483.1,349.8 483.5,348.3 483.8,348.8 484.1,350.2 484.5,349.2 484.8,349.9 485.2,350.1 485.5,349.5 485.8,348.6 486.2,349.1 486.5,349.4 486.9,349.4 487.2,349.4 487.5,349.6 487.9,348.4 488.2,348.7 488.6,348.4 488.9,349.9 489.2,347.8 489.6,347.2 489.9,349.2 490.3,349.2 490.6,348.7 490.9,347.4 491.3,348.2 491.6,349.3 492.0,347.8 492.3,347.4 492.6,349.2 493.0,348.2 493.3,347.1 493.7,346.9 494.0,346.0 494.3,344.4 494.7,342.8 495.0,342.3 495.4,342.6 495.7,343.6 496.0,344.9 496.4,345.6 496.7,346.5 497.1,346.6 497.4,346.6 497.7,346.2 498.1,345.7 498.4,345.6 498.8,345.3 499.1,345.2 499.4,345.2 499.8,344.8 500.0,344.9 500.1,345.0 500.5,344.9 500.8,345.2 501.1,345.1 501.5,345.2 501.8,345.8 502.2,345.7 502.5,345.6 502.8,346.7 503.2,346.6 503.5,346.2 503.9,347.4 504.2,346.6 504.5,347.2 504.9,347.7 505.2,348.3 505.6,348.3 505.9,348.2 506.2,348.4 506.6,346.7 506.9,346.4 507.3,346.7 507.6,347.9 507.9,346.4 508.3,346.8 508.6,346.4 509.0,347.7 509.3,347.7 509.6,346.8 510.0,347.1 510.3,349.0 510.7,347.8 511.0,347.5 511.3,348.8 511.7,348.6 512.0,348.3 512.4,347.2 512.7,347.6 513.0,348.5 513.4,347.5 513.7,346.9 514.1,347.0 514.4,347.1 514.7,347.3 515.1,347.0 515.4,346.8 515.8,346.6 516.0,346.7 516.4,346.8 516.8,347.0 517.1,347.2 517.5,348.1 517.8,347.8 518.1,348.2 518.5,349.2 518.8,349.0 519.2,348.9 519.5,350.0 519.8,350.6 520.2,349.9 520.5,350.5 520.9,349.2 521.2,350.6 521.5,349.6 521.9,349.6 522.2,350.4 522.6,349.6 522.9,349.7 523.2,349.4 523.6,349.3 523.9,351.3 524.3,350.3 524.6,350.9 524.9,351.4 525.3,350.4 525.6,351.4 526.0,349.5 526.3,350.8 526.6,351.1 527.0,351.5 527.3,351.2 527.7,350.8 528.0,351.5 528.3,350.3 528.7,351.5 529.0,350.8 529.4,349.8 529.7,352.1 530.0,351.4 530.4,351.7 530.7,350.1 531.1,351.6 531.4,350.7 531.7,350.6 532.1,351.2 532.4,351.8 532.8,352.4 533.1,351.2 533.4,351.6 533.8,351.7 534.1,351.3 534.5,351.9 534.8,350.7 535.1,350.1 535.5,351.0 535.8,351.1 536.2,351.7 536.5,352.4 536.8,350.6 537.2,351.3 537.5,350.9 537.9,352.3 538.2,350.4 538.5,352.1 538.9,350.1 539.2,351.5 539.6,350.6 539.9,351.4 540.2,351.6 540.6,351.9 540.9,349.8 541.3,351.9 541.6,351.7 541.9,351.0 542.3,350.7 542.6,352.1 543.0,352.4 543.3,351.0 543.6,352.3 544.0,352.2 544.3,352.3 544.7,352.7 545.0,352.0 545.3,352.6 545.7,352.2 546.0,351.2 546.4,351.4 546.7,351.5 547.0,353.2 547.4,352.3 547.7,352.2 548.1,352.9 548.4,352.6 548.7,352.4 549.1,352.4 549.4,353.1 549.8,352.4 550.1,351.7 550.4,351.6 550.8,351.7 551.1,352.0 551.5,350.9 551.8,351.0 552.1,350.3 552.5,349.5 552.8,349.2 553.0,349.4 553.2,349.4 553.5,349.7 553.8,350.2 554.2,350.3 554.5,351.3 554.9,351.3 555.2,351.9 555.5,351.4 555.9,353.0 556.2,352.3 556.6,351.9 556.9,351.8 557.2,352.4 557.6,352.3 557.9,353.2 558.3,352.1 558.6,352.3 558.9,353.6 559.3,352.5 559.6,351.7 560.0,352.0 560.3,353.2 560.6,351.6 561.0,351.8 561.3,352.4 561.7,352.6 562.0,351.7 562.3,352.5 562.7,352.2 563.0,352.4 563.4,352.9 563.7,352.0 564.0,351.8 564.4,352.7 564.7,351.7 565.1,353.1 565.4,352.4 565.7,351.6 566.1,353.0 566.4,352.2 566.8,351.4 567.1,352.4 567.4,351.8 567.8,351.4 568.1,351.2 568.5,351.1 568.8,350.6 569.0,350.8 569.1,350.9 569.5,351.0 569.8,351.0 570.2,351.2 570.5,351.7 570.8,352.1 571.2,352.2 571.5,352.5 571.9,351.8 572.2,353.3 572.5,352.8 572.9,352.0 573.2,352.6 573.6,353.5 573.9,352.4 574.2,352.6 574.6,352.7 574.9,353.0 575.3,352.2 575.6,351.6 575.9,352.9 576.3,352.5 576.6,351.7 577.0,353.3 577.3,352.1 577.6,352.3 578.0,352.4 578.3,353.7 578.7,352.9 579.0,353.1 579.3,352.4 579.7,352.4 580.0,353.3 580.4,353.0 580.7,353.0 581.0,351.9 581.4,352.9 581.7,352.0 582.1,353.2 582.4,352.6 582.7,352.6 583.1,353.1 583.4,351.6 583.8,353.7 584.1,352.3 584.4,353.6 584.8,354.1 585.1,353.0 585.5,352.7 585.8,352.4 586.1,352.8 586.5,352.7 586.8,352.8 587.2,352.3 587.5,353.1 587.8,353.2 588.2,352.5 588.5,352.5 588.9,352.2 589.2,352.4 589.5,354.1 589.9,353.6 590.2,352.4 590.6,352.4 590.9,353.2 591.2,352.6 591.6,352.1 591.9,353.3 592.3,352.3 592.6,352.5 592.9,353.7 593.3,353.3 593.6,352.9 594.0,351.9 594.3,352.8 594.6,353.7 595.0,353.0 595.3,352.3 595.7,353.5 596.0,353.5 596.3,353.2 596.7,353.2 597.0,353.9 597.4,352.9 597.7,353.0 598.0,353.5 598.4,353.5 598.7,354.0 599.1,354.0 599.4,353.1 599.7,353.9 600.1,353.2 600.4,353.6 600.8,353.4 601.1,353.7 601.4,352.2 601.8,353.3 602.1,352.4 602.5,352.7 602.8,353.4 603.1,352.3 603.5,352.5 603.8,351.4 604.2,352.9 604.5,352.0 604.8,352.3 605.2,352.0 605.5,353.0 605.9,352.3 606.2,353.0 606.5,352.9 606.9,353.3 607.2,353.9 607.6,353.1 607.9,353.2 608.2,353.3 608.6,352.3 608.9,353.6 609.3,352.9 609.6,353.4 609.9,352.0 610.3,353.1 610.6,352.9 611.0,352.4 611.3,354.5 611.6,353.6 612.0,354.0 612.3,353.8 612.7,353.3 613.0,353.7 613.3,353.1 613.7,354.4 614.0,353.8 614.4,353.5 614.7,353.9 615.0,352.7 615.4,353.5 615.7,353.0 616.1,351.9 616.4,352.1 616.7,351.7 617.1,351.3 617.4,350.8 617.8,350.5 618.0,350.4 618.4,350.6 618.8,351.0 619.1,351.6 619.5,351.5 619.8,351.7 620.1,352.8 620.5,351.8 620.8,351.9 621.2,352.1 621.5,353.0 621.8,353.1 622.2,353.9 622.5,352.4 622.9,353.6 623.2,352.2 623.5,353.4 623.9,352.5 624.2,351.4 624.6,351.1 624.9,352.7 625.2,351.5 625.6,352.4 625.9,350.8 626.3,351.6 626.6,352.2 626.9,351.0 627.3,352.3 627.6,352.9 628.0,351.8 628.3,351.6 628.6,352.0 629.0,352.5 629.3,352.3 629.7,352.7 630.0,353.2 630.3,351.6 630.7,353.1 631.0,352.8 631.4,352.4 631.7,351.9 632.0,352.7 632.4,351.4 632.7,351.4 633.1,352.1 633.4,351.4 633.7,351.5 634.1,351.6 634.4,351.6 634.8,352.1 635.1,352.6 635.4,352.8 635.8,351.9 636.1,350.9 636.5,351.4 636.8,352.6 637.1,350.8 637.5,352.2 637.8,351.8 638.2,352.3 638.5,352.4 638.8,352.0 639.2,352.6 639.5,352.8 639.9,352.6 640.2,352.9 640.5,351.4 640.9,352.6 641.2,353.2 641.6,351.7 641.9,351.7 642.2,352.4 642.6,352.3 642.9,352.6 643.3,352.4 643.6,352.5 643.9,350.9 644.3,351.7 644.6,351.5 645.0,351.7 645.3,352.7 645.6,352.8 646.0,352.4 646.3,350.7 646.7,351.6 647.0,353.1 647.3,352.3 647.7,351.8 648.0,351.2 648.4,351.6 648.7,351.5 649.0,353.2 649.4,352.9 649.7,352.9 650.1,353.3 650.4,352.5 650.7,353.3 651.1,353.0 651.4,352.8 651.8,351.6 652.1,353.1 652.4,351.9 652.8,352.2 653.1,351.3 653.5,351.3 653.8,350.8 654.1,351.4 654.5,353.0 654.8,351.1 655.2,351.6 655.5,352.9 655.8,351.5 656.2,353.1 656.5,353.3 656.9,353.7 657.2,353.2 657.5,352.3 657.9,354.0 658.2,353.5 658.6,352.6 658.9,352.7 659.2,353.8 659.6,353.2 659.9,354.3 660.3,353.0 660.6,353.0 660.9,353.9 661.3,352.5 661.6,352.6 662.0,353.0 662.3,353.0 662.6,352.9 663.0,353.4 663.3,353.2 663.7,352.1 664.0,352.2 664.3,352.9 664.7,352.5 665.0,353.8 665.4,352.6 665.7,352.4 666.0,353.0 666.4,353.7 666.7,353.4 667.1,352.8 667.4,354.1 667.7,353.9 668.1,353.6 668.4,352.8 668.8,352.5 669.1,353.0 669.4,353.3 669.8,354.0 670.1,352.2 670.5,352.8 670.8,354.1 671.1,353.9 671.5,352.7 671.8,353.8 672.2,353.4 672.5,352.2 672.8,353.4 673.2,352.7 673.5,352.6 673.9,353.3" fill="none" stroke="#1a6ee0" stroke-width="1.5" stroke-linejoin="round"/><polyline points="1.0,429.8 1.3,429.0 1.7,428.6 2.0,428.8 2.4,429.2 2.7,428.9 3.0,431.0 3.4,429.3 3.7,429.8 4.1,430.7 4.4,431.4 4.7,430.8 5.1,428.3 5.4,429.0 5.8,430.5 6.1,429.0 6.4,427.7 6.8,429.4 7.1,429.2 7.5,427.3 7.8,429.5 8.1,427.2 8.5,430.9 8.8,429.5 9.2,427.1 9.5,428.7 9.8,429.3 10.2,426.1 10.5,429.2 10.9,428.7 11.2,425.3 11.5,429.1 11.9,425.1 12.2,427.7 12.6,428.0 12.9,428.5 13.2,427.5 13.6,427.3 13.9,425.8 14.3,427.8 14.6,428.5 14.9,426.2 15.3,428.7 15.6,428.4 16.0,426.6 16.3,426.4 16.6,426.5 17.0,427.6 17.3,425.2 17.7,429.0 18.0,425.9 18.3,425.7 18.7,426.9 19.0,428.1 19.4,425.1 19.7,426.4 20.0,427.1 20.4,428.6 20.7,427.3 21.1,427.2 21.4,426.8 21.7,428.1 22.1,427.5 22.4,428.4 22.8,426.9 23.1,426.0 23.4,426.2 23.8,428.5 24.1,426.2 24.5,426.7 24.8,428.3 25.1,428.5 25.5,426.4 25.8,427.3 26.2,427.1 26.5,427.8 26.8,428.6 27.2,427.7 27.5,430.8 27.9,427.5 28.2,431.0 28.5,428.3 28.9,429.9 29.2,429.7 29.6,427.3 29.9,427.4 30.2,428.8 30.6,428.9 30.9,427.9 31.3,429.4 31.6,428.7 31.9,428.9 32.3,431.4 32.6,432.0 33.0,429.4 33.3,430.3 33.6,431.7 34.0,429.6 34.3,428.3 34.7,428.5 35.0,425.2 35.3,422.5 35.7,420.8 36.0,422.3 36.4,425.1 36.7,426.8 37.0,429.6 37.4,431.9 37.7,431.6 38.1,432.4 38.4,429.8 38.7,428.4 39.1,429.2 39.4,429.3 39.8,432.3 40.1,432.1 40.4,430.3 40.8,430.7 41.1,431.4 41.5,430.9 41.8,433.4 42.1,433.0 42.5,433.4 42.8,431.8 43.2,433.0 43.5,430.7 43.8,430.1 44.2,432.9 44.5,432.8 44.9,432.4 45.2,433.3 45.5,431.9 45.9,433.0 46.2,431.8 46.6,433.8 46.9,434.6 47.2,431.3 47.6,432.5 47.9,432.8 48.3,431.4 48.6,432.9 48.9,433.8 49.3,432.7 49.6,430.5 50.0,425.1 50.3,405.2 50.5,397.4 50.6,401.4 51.0,424.2 51.3,432.7 51.7,435.6 52.0,436.5 52.3,434.1 52.7,437.2 53.0,434.8 53.4,436.7 53.7,434.4 54.0,435.3 54.4,434.7 54.7,432.3 55.1,431.8 55.4,432.3 55.7,432.6 56.1,435.4 56.4,434.0 56.8,436.4 57.1,436.9 57.4,437.5 57.8,436.5 58.1,436.8 58.5,437.8 58.8,439.4 59.1,437.8 59.5,437.8 59.8,437.8 60.2,437.5 60.5,439.1 60.8,439.5 61.2,436.7 61.5,438.2 61.9,438.5 62.2,435.7 62.5,436.4 62.9,438.1 63.2,437.1 63.6,439.3 63.9,440.3 64.2,439.6 64.6,439.0 64.9,437.7 65.3,440.7 65.6,440.2 65.9,439.3 66.3,441.9 66.6,441.8 67.0,441.9 67.3,441.0 67.6,441.4 68.0,441.1 68.3,440.1 68.7,439.8 69.0,439.7 69.3,437.9 69.7,438.9 70.0,440.9 70.4,441.2 70.7,442.0 71.0,441.4 71.4,438.8 71.7,438.1 72.1,439.7 72.4,440.5 72.7,441.7 73.1,439.9 73.4,441.3 73.8,441.7 74.1,439.8 74.4,438.3 74.8,441.0 75.1,439.9 75.5,442.0 75.8,440.8 76.1,440.9 76.5,441.5 76.8,440.8 77.2,440.3 77.5,442.6 77.8,440.4 78.2,442.5 78.5,442.8 78.9,444.2 79.2,441.0 79.5,440.9 79.9,441.7 80.2,442.5 80.6,438.9 80.9,434.1 81.2,430.6 81.6,434.9 81.9,439.5 82.3,443.4 82.6,444.2 82.9,442.9 83.3,444.8 83.6,443.1 84.0,441.3 84.3,444.9 84.6,443.5 85.0,442.4 85.3,444.4 85.7,442.7 86.0,442.1 86.3,442.9 86.7,443.0 87.0,444.7 87.4,444.5 87.7,443.0 88.0,444.9 88.4,443.7 88.7,442.8 89.1,442.5 89.4,441.3 89.7,441.5 90.1,441.5 90.4,441.5 90.8,441.8 91.1,443.4 91.4,442.3 91.8,443.8 92.1,445.3 92.5,444.8 92.8,445.6 93.1,445.0 93.5,446.3 93.8,443.9 94.2,446.6 94.5,446.3 94.8,446.0 95.2,445.1 95.5,444.7 95.9,444.8 96.2,446.4 96.5,445.6 96.9,446.4 97.2,445.6 97.6,446.8 97.9,448.4 98.2,445.4 98.6,449.6 98.9,446.4 99.3,449.2 99.6,445.9 99.9,446.0 100.3,448.5 100.6,448.9 101.0,446.6 101.3,447.7 101.6,446.2 102.0,445.3 102.3,446.4 102.7,446.0 103.0,446.5 103.3,448.2 103.7,446.6 104.0,446.3 104.4,447.7 104.7,448.8 105.0,446.7 105.4,448.0 105.7,446.6 106.1,447.1 106.4,444.0 106.7,445.8 107.1,444.5 107.4,445.4 107.8,445.5 108.1,446.3 108.4,446.3 108.8,446.0 109.1,444.3 109.5,442.6 109.8,441.1 110.1,440.7 110.5,441.5 110.8,443.7 111.2,446.3 111.5,446.1 111.8,445.8 112.2,448.8 112.5,447.6 112.9,445.8 113.2,448.7 113.5,447.5 113.9,446.2 114.2,448.3 114.6,447.3 114.9,449.7 115.2,449.1 115.6,446.1 115.9,449.3 116.3,446.0 116.6,449.2 116.9,447.4 117.3,446.1 117.6,447.5 118.0,447.1 118.3,448.9 118.6,448.9 119.0,448.1 119.3,449.6 119.7,446.2 120.0,447.0 120.3,446.6 120.7,446.9 121.0,447.7 121.4,447.1 121.7,448.4 122.0,450.0 122.4,450.1 122.7,449.8 123.1,450.4 123.4,447.0 123.7,448.2 124.1,450.8 124.4,449.7 124.8,449.5 125.1,448.9 125.4,449.6 125.8,449.3 126.1,448.2 126.5,449.5 126.8,448.6 127.1,450.9 127.5,451.0 127.8,449.9 128.2,449.7 128.5,453.7 128.8,453.1 129.2,454.9 129.5,451.6 129.9,454.1 130.2,454.1 130.5,453.0 130.9,451.3 131.2,450.4 131.6,451.4 131.9,451.8 132.2,452.2 132.6,450.3 132.9,452.7 133.3,450.0 133.6,450.5 133.9,451.2 134.3,449.3 134.6,450.8 135.0,453.3 135.3,452.9 135.6,451.8 136.0,450.9 136.3,451.4 136.7,452.6 137.0,449.4 137.3,450.9 137.7,450.9 138.0,450.8 138.4,449.8 138.7,449.9 139.0,450.1 139.4,449.3 139.7,449.7 140.0,449.4 140.4,449.7 140.7,449.7 141.1,449.7 141.4,451.0 141.8,450.5 142.1,450.8 142.4,452.0 142.8,450.2 143.1,451.7 143.5,452.8 143.8,450.4 144.1,451.1 144.5,453.6 144.8,454.2 145.2,454.2 145.5,453.7 145.8,450.9 146.2,454.3 146.5,454.5 146.9,453.7 147.2,451.4 147.5,450.5 147.9,451.4 148.2,452.6 148.6,451.1 148.9,448.8 149.2,451.9 149.6,451.4 149.9,450.9 150.3,449.2 150.6,450.6 150.9,451.5 151.3,449.1 151.6,450.1 152.0,451.9 152.3,450.4 152.6,451.8 153.0,452.0 153.3,451.2 153.7,451.1 154.0,452.2 154.3,451.3 154.7,452.0 155.0,450.5 155.4,452.5 155.7,452.3 156.0,453.2 156.4,452.0 156.7,453.2 157.1,450.3 157.4,449.7 157.7,454.0 158.1,451.7 158.4,451.6 158.8,452.0 159.1,451.1 159.4,451.4 159.8,452.6 160.1,450.8 160.5,453.8 160.8,449.8 161.1,450.4 161.5,450.2 161.8,451.5 162.2,450.0 162.5,452.6 162.8,450.9 163.2,453.2 163.5,452.3 163.9,452.1 164.2,454.9 164.5,452.2 164.9,453.4 165.2,454.6 165.6,453.9 165.9,455.7 166.2,455.7 166.6,452.3 166.9,455.4 167.3,455.4 167.6,452.5 167.9,454.9 168.3,453.7 168.6,454.1 169.0,454.7 169.3,453.8 169.6,456.0 170.0,456.6 170.3,454.2 170.7,456.7 171.0,455.8 171.3,454.5 171.7,454.1 172.0,453.9 172.4,451.4 172.7,451.7 173.0,452.3 173.4,451.8 173.7,451.6 174.1,450.0 174.4,454.2 174.7,451.3 175.1,450.6 175.4,450.1 175.8,452.2 176.1,452.8 176.4,453.5 176.8,453.8 177.1,451.4 177.5,452.0 177.8,451.8 178.1,452.6 178.5,452.2 178.8,452.4 179.2,452.2 179.5,453.4 179.8,451.5 180.2,450.8 180.5,451.0 180.9,450.8 181.2,451.1 181.5,453.2 181.9,452.2 182.2,453.6 182.6,452.9 182.9,451.5 183.2,453.6 183.6,452.8 183.9,450.0 184.3,453.2 184.6,453.3 184.9,453.9 185.3,451.8 185.6,450.8 186.0,450.9 186.3,451.6 186.6,451.4 187.0,451.5 187.3,450.8 187.7,450.1 188.0,449.7 188.3,449.2 188.7,449.4 189.0,449.3 189.4,448.9 189.7,448.5 190.0,448.2 190.4,448.5 190.7,449.1 191.1,449.8 191.4,449.9 191.7,449.5 192.1,451.2 192.4,451.7 192.8,451.0 193.1,449.3 193.4,449.7 193.8,449.1 194.1,447.6 194.5,448.9 194.8,446.7 195.1,442.0 195.5,434.5 195.8,431.1 196.2,435.7 196.5,442.5 196.8,446.9 197.2,448.8 197.5,450.2 197.9,451.4 198.2,450.0 198.5,448.0 198.9,448.6 199.2,449.7 199.6,449.0 199.9,447.0 200.2,452.4 200.6,450.4 200.9,449.5 201.3,452.1 201.6,448.3 201.9,448.5 202.3,448.6 202.6,449.3 203.0,449.9 203.3,451.0 203.6,449.3 204.0,450.2 204.3,447.6 204.7,448.3 205.0,449.3 205.3,448.8 205.7,447.8 206.0,447.0 206.4,446.3 206.7,444.0 207.0,435.8 207.4,412.5 207.7,383.3 207.9,376.8 208.1,381.3 208.4,408.5 208.7,430.3 209.1,438.9 209.3,440.3 209.4,439.9 209.8,436.4 210.1,426.1 210.4,412.4 210.7,407.6 211.1,421.3 211.5,436.5 211.8,445.7 212.1,447.1 212.5,447.9 212.8,451.2 213.2,450.2 213.5,448.8 213.8,452.4 214.2,451.2 214.5,452.9 214.9,454.1 215.2,450.8 215.5,451.1 215.9,454.0 216.2,452.0 216.6,452.9 216.9,452.5 217.2,452.2 217.6,453.0 217.9,452.0 218.3,453.5 218.6,454.2 218.9,452.3 219.3,454.1 219.6,451.2 220.0,446.8 220.3,433.5 220.7,420.9 221.0,428.2 221.3,443.0 221.7,449.2 222.0,452.6 222.3,451.0 222.7,453.0 223.0,455.2 223.4,453.4 223.7,455.3 224.0,456.1 224.4,452.2 224.7,454.4 225.1,452.9 225.4,453.5 225.7,453.3 226.1,453.1 226.4,452.0 226.8,452.6 227.1,453.2 227.4,451.9 227.8,451.8 228.0,451.9 228.1,451.9 228.5,452.0 228.8,452.7 229.1,453.6 229.5,452.5 229.8,451.9 230.2,453.0 230.5,453.7 230.8,454.8 231.2,454.6 231.5,453.7 231.9,454.2 232.2,454.2 232.5,453.0 232.9,454.9 233.2,455.2 233.6,453.8 233.9,455.4 234.2,454.6 234.6,456.9 234.9,455.1 235.3,455.7 235.6,453.6 235.9,455.4 236.3,453.7 236.6,450.9 237.0,449.4 237.3,444.3 237.6,439.1 238.0,433.3 238.3,429.7 238.5,429.0 238.7,429.8 239.0,433.5 239.3,439.6 239.7,445.4 240.0,448.0 240.4,451.4 240.7,452.8 241.0,455.9 241.4,453.8 241.7,454.2 242.1,456.3 242.4,455.0 242.7,458.4 243.1,456.0 243.4,455.7 243.8,455.4 244.1,456.6 244.4,457.2 244.8,457.4 245.1,455.6 245.5,456.1 245.8,455.9 246.1,455.3 246.5,456.2 246.8,457.0 247.2,457.8 247.5,458.8 247.8,459.5 248.2,457.4 248.5,458.8 248.9,457.0 249.2,456.7 249.5,456.1 250.0,455.7 250.2,455.9 250.6,456.9 250.9,458.0 251.2,459.5 251.6,460.4 251.9,458.9 252.3,460.3 252.6,460.2 252.9,459.5 253.3,459.8 253.6,458.3 254.0,459.3 254.3,457.3 254.6,456.3 255.0,456.2 255.3,456.7 255.7,457.5 256.0,458.5 256.3,460.0 256.7,458.7 257.0,460.3 257.4,459.6 257.7,459.0 258.0,459.0 258.4,459.5 258.7,457.8 259.1,459.2 259.4,457.6 259.7,459.2 260.1,460.3 260.4,458.1 260.8,459.6 261.1,458.8 261.4,457.9 261.8,457.5 262.1,460.0 262.5,461.2 262.8,459.8 263.1,457.9 263.5,461.1 263.8,459.0 264.2,458.7 264.5,460.4 264.8,457.5 265.2,459.7 265.5,458.9 265.9,459.7 266.2,458.2 266.5,455.9 266.9,454.2 267.2,450.6 267.6,446.6 268.0,444.2 268.2,445.5 268.6,448.0 268.9,452.5 269.3,455.4 269.6,459.5 269.9,460.5 270.3,461.2 270.6,460.7 271.0,461.0 271.3,460.3 271.6,462.6 272.0,463.2 272.3,463.2 272.7,461.9 273.0,461.3 273.3,461.3 273.7,459.8 274.0,459.2 274.4,458.4 274.7,458.5 275.0,460.5 275.4,461.2 275.7,462.3 276.1,462.7 276.4,463.6 276.7,464.3 277.1,463.0 277.4,463.4 277.8,462.8 278.1,461.3 278.4,459.8 278.7,459.9 279.1,460.1 279.5,460.9 279.8,461.9 280.1,463.0 280.5,464.3 280.8,462.5 281.2,461.6 281.5,463.8 281.8,465.0 282.2,462.1 282.5,464.4 282.9,463.9 283.2,464.9 283.5,463.8 283.9,463.7 284.2,465.1 284.6,462.5 284.9,465.2 285.2,463.9 285.6,464.3 285.9,466.0 286.3,465.5 286.6,465.1 286.9,464.3 287.3,465.1 287.6,464.3 288.0,464.2 288.3,464.9 288.6,464.7 289.0,464.8 289.3,465.0 289.7,463.9 290.0,464.9 290.3,463.5 290.7,465.3 291.0,465.4 291.4,463.5 291.7,465.4 292.0,465.8 292.4,463.8 292.7,464.6 293.1,464.9 293.4,463.6 293.7,464.7 294.1,465.3 294.4,465.0 294.8,462.6 295.1,463.8 295.4,464.9 295.8,465.8 296.1,464.2 296.5,465.2 296.8,465.4 297.1,464.4 297.5,463.3 297.8,464.7 298.2,462.5 298.5,462.8 298.8,464.5 299.2,463.2 299.5,464.1 299.9,463.4 300.2,464.6 300.5,464.8 300.9,463.4 301.2,464.7 301.6,465.4 301.9,464.2 302.2,464.8 302.6,464.1 302.9,463.4 303.3,465.3 303.6,463.6 303.9,465.7 304.3,465.5 304.6,466.1 305.0,466.5 305.3,464.7 305.6,466.3 306.0,463.5 306.3,466.0 306.7,464.0 307.0,464.7 307.3,466.5 307.7,466.2 308.0,464.9 308.4,463.7 308.7,464.3 309.0,466.2 309.4,464.4 309.7,464.6 310.1,462.9 310.4,464.6 310.7,465.1 311.1,465.8 311.4,466.4 311.8,464.0 312.1,463.5 312.4,465.0 312.8,464.4 313.1,463.6 313.5,465.6 313.8,463.9 314.1,465.4 314.5,463.8 314.8,463.8 315.2,464.4 315.5,465.5 315.8,464.6 316.2,466.7 316.5,464.9 316.9,466.2 317.2,465.0 317.5,465.8 317.9,464.6 318.2,465.3 318.6,463.5 318.9,460.7 319.2,458.1 319.6,452.6 319.9,447.3 320.3,443.2 320.4,443.1 320.6,444.1 320.9,448.0 321.3,453.7 321.6,458.8 322.0,462.2 322.3,463.2 322.6,465.2 323.0,464.1 323.3,465.6 323.7,465.1 324.0,466.7 324.3,466.3 324.7,466.8 325.0,466.4 325.4,464.2 325.7,464.9 326.0,464.4 326.4,463.9 326.7,465.5 327.1,465.6 327.4,465.7 327.7,463.2 328.1,466.4 328.4,465.8 328.8,464.5 329.1,464.8 329.4,466.7 329.8,465.9 330.1,465.0 330.5,466.2 330.8,466.3 331.1,465.1 331.5,464.9 331.8,465.8 332.2,464.1 332.5,463.9 332.8,465.3 333.2,465.7 333.5,464.5 333.9,463.3 334.2,463.7 334.5,465.0 334.9,466.5 335.2,465.0 335.6,466.3 335.9,466.4 336.2,465.3 336.6,466.0 336.9,466.2 337.3,465.7 337.6,464.7 337.9,466.7 338.3,465.7 338.6,465.6 339.0,465.1 339.3,464.6 339.6,464.0 340.0,464.6 340.3,465.2 340.7,464.9 341.0,464.3 341.3,464.1 341.7,465.2 342.0,463.9 342.4,464.7 342.7,464.5 343.0,464.8 343.4,466.4 343.7,465.0 344.1,465.6 344.4,465.7 344.7,464.5 345.1,464.2 345.4,464.0 345.8,464.7 346.1,466.7 346.4,466.0 346.8,465.4 347.1,465.6 347.5,466.5 347.8,465.5 348.1,465.3 348.5,466.5 348.8,466.1 349.2,466.5 349.5,466.4 349.8,464.0 350.2,465.6 350.5,465.2 350.9,465.0 351.2,466.0 351.5,466.2 351.9,466.0 352.2,465.9 352.6,463.7 352.9,464.3 353.2,464.1 353.6,462.3 353.9,463.9 354.3,462.8 354.6,463.9 354.9,463.3 355.3,464.0 355.6,463.8 356.0,463.6 356.3,463.5 356.6,465.6 357.0,463.5 357.3,465.2 357.7,464.8 358.0,464.0 358.3,464.8 358.7,466.1 359.0,466.0 359.4,463.8 359.7,464.5 360.0,462.1 360.4,460.5 360.7,459.4 361.1,460.7 361.4,462.6 361.7,463.6 362.1,464.6 362.4,465.3 362.8,464.5 363.1,464.8 363.4,465.5 363.8,466.3 364.1,465.4 364.5,464.9 364.8,466.7 365.1,465.5 365.5,466.3 365.8,465.6 366.2,466.1 366.5,466.7 366.8,465.9 367.2,467.7 367.5,467.9 367.9,468.4 368.2,468.1 368.5,467.3 368.9,467.7 369.2,467.1 369.6,467.4 369.9,467.9 370.2,466.3 370.6,467.7 370.9,467.3 371.3,467.7 371.6,467.1 371.9,466.3 372.3,467.8 372.6,467.6 373.0,467.2 373.3,468.0 373.6,468.3 374.0,466.0 374.3,468.6 374.7,466.9 375.0,467.5 375.3,468.5 375.7,466.2 376.0,465.8 376.4,466.5 376.7,467.1 377.0,468.0 377.4,468.2 377.7,467.5 378.1,467.7 378.4,468.1 378.7,467.3 379.1,468.0 379.4,468.1 379.8,466.3 380.1,467.1 380.4,465.7 380.8,466.7 381.1,466.5 381.5,465.4 381.8,464.6 382.1,463.5 382.5,462.5 382.8,461.0 383.0,460.8 383.2,461.1 383.5,462.2 383.8,464.1 384.2,464.9 384.5,465.6 384.9,466.2 385.2,467.7 385.5,467.1 385.9,467.5 386.2,467.4 386.6,468.1 386.9,466.8 387.2,468.0 387.6,468.5 387.9,469.1 388.3,468.9 388.6,468.2 388.9,468.9 389.3,468.2 389.6,468.7 390.0,468.3 390.3,467.1 390.6,465.7 391.0,465.7 391.3,463.7 391.7,462.8 392.0,462.0 392.3,462.5 392.7,464.3 393.0,465.8 393.4,466.4 393.7,467.1 394.0,466.6 394.4,467.0 394.7,467.2 395.1,469.2 395.4,467.3 395.7,467.2 396.1,468.1 396.4,467.4 396.8,469.3 397.1,468.7 397.4,468.7 397.8,468.0 398.1,468.8 398.5,468.6 398.8,466.8 399.1,468.6 399.5,468.9 399.8,467.3 400.2,468.3 400.5,466.6 400.8,466.8 401.2,467.6 401.5,467.4 401.9,467.3 402.2,467.0 402.5,466.5 402.9,467.5 403.2,466.7 403.6,466.9 403.9,468.6 404.2,468.7 404.6,468.7 404.9,468.1 405.3,468.2 405.6,468.6 405.9,467.5 406.3,465.1 406.6,463.6 407.0,460.9 407.2,460.3 407.6,462.0 408.0,464.7 408.3,466.3 408.7,467.1 409.0,467.3 409.3,466.8 409.7,468.3 410.0,467.5 410.4,466.9 410.7,468.2 411.0,468.0 411.4,466.1 411.7,467.0 412.1,466.2 412.4,467.7 412.7,468.1 413.1,469.0 413.4,467.8 413.8,466.9 414.1,469.0 414.4,467.4 414.8,468.2 415.1,467.0 415.5,469.0 415.8,467.0 416.1,467.3 416.5,467.5 416.8,468.8 417.2,467.8 417.5,468.2 417.8,467.4 418.2,469.0 418.5,469.1 418.9,468.1 419.2,468.9 419.5,469.4 419.9,468.6 420.2,468.7 420.6,469.0 420.9,467.6 421.2,467.5 421.6,467.7 421.9,467.2 422.3,466.6 422.6,466.3 423.0,466.0 423.3,466.1 423.6,466.8 424.0,466.7 424.3,468.0 424.6,468.1 425.0,467.8 425.3,468.9 425.7,469.2 426.0,469.1 426.3,468.7 426.7,468.8 427.0,469.4 427.4,470.0 427.7,469.0 428.0,469.3 428.4,469.3 428.7,468.8 429.1,468.8 429.4,468.3 429.7,469.3 430.1,467.9 430.4,468.7 430.8,467.8 431.1,467.5 431.4,468.8 431.8,468.6 432.1,469.6 432.5,469.4 432.8,468.8 433.1,468.8 433.5,468.1 433.8,468.8 434.2,468.8 434.5,467.7 434.8,467.2 435.2,467.4 435.5,467.0 435.9,466.8 436.2,465.9 436.5,465.2 437.0,464.8 437.2,464.9 437.6,465.1 437.9,465.7 438.2,466.9 438.6,468.0 438.9,467.3 439.3,468.5 439.6,467.4 439.9,467.3 440.3,469.1 440.6,467.7 441.0,467.6 441.3,469.4 441.6,468.5 442.0,469.5 442.3,469.9 442.7,468.6 443.0,468.5 443.3,469.6 443.7,468.2 444.0,469.5 444.4,469.2 444.7,467.1 445.0,469.1 445.4,467.8 445.7,468.2 446.1,467.7 446.4,469.0 446.7,468.1 447.1,468.9 447.4,469.3 447.8,468.5 448.1,469.5 448.4,468.1 448.8,469.0 449.1,468.7 449.5,469.0 449.8,469.1 450.1,469.5 450.5,468.3 450.8,468.8 451.2,468.4 451.5,469.8 451.8,469.9 452.2,468.0 452.5,468.1 452.9,468.3 453.2,469.6 453.5,469.5 453.9,469.9 454.2,468.0 454.6,468.2 454.9,469.7 455.2,469.0 455.6,469.2 455.9,469.3 456.3,468.8 456.6,468.4 456.9,469.4 457.3,469.0 457.6,469.1 458.0,468.7 458.3,468.0 458.6,468.0 459.0,468.1 459.3,467.8 459.7,469.0 460.0,468.1 460.3,469.4 460.7,469.6 461.0,470.1 461.4,469.5 461.7,469.2 462.0,469.0 462.4,468.2 462.7,469.3 463.1,469.5 463.4,468.8 463.7,469.1 464.1,470.0 464.4,468.6 464.8,468.4 465.1,469.2 465.4,468.8 465.8,470.0 466.1,470.2 466.5,468.3 466.8,469.4 467.1,469.9 467.5,469.4 467.8,470.5 468.2,470.2 468.5,468.3 468.8,470.5 469.2,468.4 469.5,468.3 469.9,469.4 470.2,469.4 470.5,468.3 470.9,469.7 471.2,469.0 471.6,469.0 471.9,468.1 472.2,469.6 472.6,469.4 472.9,468.3 473.3,468.9 473.6,468.2 473.9,469.7 474.3,468.6 474.6,470.0 475.0,468.5 475.3,469.2 475.6,470.1 476.0,468.6 476.3,468.6 476.7,468.9 477.0,469.4 477.3,468.0 477.7,468.8 478.0,468.4 478.4,468.6 478.7,469.0 479.0,469.8 479.4,469.9 479.7,469.0 480.1,468.9 480.4,470.0 480.7,470.6 481.1,469.4 481.4,470.1 481.8,469.5 482.1,468.4 482.4,469.6 482.8,468.4 483.1,469.7 483.5,469.5 483.8,468.8 484.1,468.1 484.5,469.9 484.8,469.3 485.2,468.7 485.5,469.3 485.8,470.4 486.2,469.7 486.5,469.3 486.9,470.0 487.2,469.1 487.5,468.9 487.9,470.1 488.2,469.1 488.6,469.5 488.9,468.8 489.2,469.8 489.6,470.3 489.9,469.2 490.3,470.2 490.6,470.5 490.9,469.5 491.3,469.6 491.6,469.7 492.0,468.9 492.3,469.4 492.6,469.2 493.0,469.3 493.3,469.7 493.7,469.3 494.0,469.4 494.3,468.0 494.7,465.3 495.0,461.1 495.3,459.8 495.7,462.5 496.0,466.1 496.4,468.9 496.7,469.9 497.1,470.3 497.4,469.7 497.7,469.4 498.1,469.2 498.4,469.6 498.8,468.8 499.1,469.7 499.4,469.7 499.8,469.9 500.1,468.9 500.5,469.6 500.8,470.5 501.1,469.8 501.5,468.9 501.8,470.3 502.2,469.7 502.5,470.4 502.8,470.2 503.2,469.0 503.5,469.1 503.9,469.3 504.2,470.8 504.5,470.6 504.9,470.1 505.2,469.8 505.6,470.0 505.9,470.9 506.2,470.7 506.6,469.5 506.9,470.3 507.3,471.3 507.6,470.0 507.9,470.5 508.3,471.4 508.6,471.2 509.0,471.7 509.3,469.9 509.6,470.7 510.0,470.7 510.3,470.5 510.7,469.9 511.0,470.9 511.3,471.3 511.7,470.2 512.0,471.5 512.4,470.3 512.7,470.6 513.0,470.7 513.4,470.7 513.7,470.4 514.1,469.8 514.4,469.2 514.7,469.1 515.1,468.8 515.4,468.6 515.8,468.7 516.0,468.6 516.4,468.6 516.8,468.8 517.1,469.0 517.5,469.9 517.8,470.2 518.1,470.0 518.5,470.8 518.8,470.0 519.2,471.0 519.5,470.6 519.8,472.4 520.2,471.1 520.5,471.7 520.9,472.4 521.2,471.2 521.5,471.9 521.9,472.2 522.2,472.4 522.6,472.1 522.9,471.1 523.2,470.7 523.6,471.0 523.9,471.5 524.3,472.1 524.6,471.9 524.9,472.3 525.3,471.0 525.6,471.4 526.0,472.3 526.3,471.3 526.6,471.9 527.0,471.9 527.3,470.8 527.7,471.7 528.0,471.3 528.3,471.4 528.7,472.3 529.0,471.1 529.4,472.7 529.7,471.8 530.0,470.7 530.4,470.6 530.7,471.5 531.1,471.6 531.4,472.0 531.7,471.2 532.1,471.3 532.4,472.0 532.8,470.5 533.1,471.3 533.4,471.7 533.8,471.0 534.1,472.3 534.5,471.9 534.8,471.0 535.1,471.8 535.5,471.8 535.8,470.6 536.2,471.1 536.5,470.5 536.8,470.9 537.2,471.8 537.5,471.2 537.9,471.1 538.2,471.8 538.5,470.5 538.9,470.7 539.2,472.0 539.6,471.4 539.9,470.7 540.2,471.2 540.6,471.6 540.9,471.3 541.3,472.4 541.6,472.0 541.9,471.5 542.3,472.4 542.6,471.3 543.0,471.0 543.3,470.9 543.6,471.8 544.0,472.1 544.3,472.2 544.7,472.1 545.0,472.0 545.3,472.5 545.7,471.9 546.0,472.3 546.4,472.1 546.7,471.1 547.0,471.8 547.4,472.4 547.7,471.4 548.1,472.2 548.4,472.2 548.7,471.8 549.1,471.0 549.4,471.9 549.8,472.5 550.1,472.4 550.4,471.3 550.8,472.7 551.1,471.6 551.5,471.8 551.8,470.8 552.1,469.6 552.5,468.1 552.8,467.3 553.0,467.4 553.2,467.4 553.5,468.1 553.8,469.2 554.2,470.2 554.5,471.8 554.9,471.1 555.2,472.6 555.5,471.6 555.9,472.9 556.2,471.5 556.6,472.4 556.9,472.2 557.2,472.7 557.6,472.6 557.9,472.0 558.3,472.3 558.6,471.4 558.9,471.2 559.3,472.2 559.6,471.3 560.0,471.6 560.3,472.2 560.6,471.2 561.0,471.7 561.3,472.2 561.7,472.0 562.0,471.3 562.3,472.7 562.7,472.6 563.0,472.2 563.4,471.0 563.7,471.2 564.0,472.5 564.4,471.3 564.7,472.9 565.1,472.9 565.4,471.7 565.7,471.8 566.1,473.1 566.4,472.9 566.8,473.2 567.1,472.8 567.4,472.1 567.8,471.9 568.1,471.7 568.5,472.5 568.8,472.7 569.1,473.0 569.5,472.2 569.8,473.2 570.2,473.3 570.5,472.5 570.8,472.1 571.2,473.9 571.5,473.5 571.9,472.8 572.2,472.4 572.5,473.5 572.9,473.1 573.2,472.7 573.6,473.0 573.9,473.1 574.2,473.5 574.6,471.9 574.9,472.1 575.3,472.5 575.6,473.5 575.9,472.3 576.3,472.5 576.6,472.5 577.0,472.8 577.3,473.7 577.6,473.3 578.0,472.9 578.3,472.6 578.7,472.9 579.0,473.6 579.3,472.6 579.7,473.0 580.0,472.8 580.4,472.1 580.7,472.0 581.0,471.7 581.4,471.8 581.7,472.5 582.1,473.1 582.4,472.2 582.7,472.9 583.1,473.0 583.4,472.9 583.8,473.6 584.1,472.2 584.4,472.3 584.8,473.7 585.1,473.2 585.5,472.0 585.8,472.9 586.1,473.4 586.5,473.5 586.8,473.3 587.2,472.4 587.5,471.7 587.8,472.9 588.2,473.2 588.5,471.4 588.9,471.5 589.2,471.4 589.5,471.4 589.9,472.6 590.2,471.4 590.6,471.3 590.9,472.5 591.2,472.1 591.6,472.3 591.9,472.2 592.3,473.0 592.6,471.9 592.9,471.9 593.3,472.7 593.6,471.6 594.0,471.7 594.3,473.4 594.6,473.3 595.0,472.9 595.3,473.0 595.7,472.8 596.0,473.1 596.3,473.0 596.7,473.0 597.0,472.7 597.4,472.4 597.7,472.8 598.0,473.7 598.4,472.3 598.7,473.9 599.1,473.3 599.4,473.6 599.7,472.8 600.1,474.2 600.4,474.3 600.8,473.1 601.1,473.4 601.4,473.1 601.8,473.2 602.1,472.5 602.5,473.4 602.8,473.3 603.1,472.8 603.5,472.6 603.8,473.3 604.2,473.7 604.5,473.1 604.8,473.4 605.2,474.4 605.5,472.8 605.9,473.6 606.2,472.8 606.5,473.5 606.9,472.7 607.2,473.8 607.6,472.5 607.9,472.7 608.2,474.2 608.6,473.2 608.9,473.4 609.3,473.0 609.6,472.2 609.9,472.1 610.3,473.9 610.6,474.2 611.0,473.2 611.3,473.9 611.6,473.2 612.0,474.3 612.3,473.2 612.7,473.8 613.0,474.4 613.3,473.8 613.7,473.7 614.0,472.7 614.4,472.9 614.7,472.7 615.0,472.9 615.4,472.3 615.7,473.1 616.1,473.0 616.4,472.6 616.7,472.1 617.1,472.2 617.4,471.7 617.8,471.5 618.1,471.6 618.4,471.2 618.8,471.1 619.0,471.0 619.1,471.0 619.5,471.2 619.8,471.2 620.1,471.3 620.5,471.6 620.8,472.6 621.2,472.1 621.5,472.1 621.8,473.0 622.2,472.1 622.5,472.7 622.9,472.5 623.2,472.7 623.5,473.3 623.9,472.6 624.2,473.5 624.6,474.0 624.9,473.8 625.2,473.4 625.6,473.3 625.9,473.6 626.3,473.9 626.6,473.2 626.9,473.5 627.3,473.9 627.6,473.8 628.0,473.8 628.3,474.1 628.6,473.1 629.0,473.8 629.3,473.2 629.7,472.9 630.0,473.0 630.3,472.9 630.7,473.1 631.0,473.0 631.4,473.9 631.7,473.2 632.0,474.4 632.4,473.9 632.7,474.1 633.1,472.9 633.4,472.3 633.7,473.8 634.1,473.5 634.4,473.9 634.8,473.2 635.1,474.1 635.4,473.6 635.8,472.8 636.1,473.2 636.5,474.3 636.8,474.2 637.1,473.0 637.5,473.3 637.8,473.5 638.2,474.3 638.5,473.9 638.8,472.6 639.2,473.1 639.5,474.0 639.9,473.5 640.2,473.5 640.5,473.0 640.9,473.7 641.2,472.6 641.6,472.3 641.9,474.1 642.2,472.1 642.6,472.0 642.9,473.8 643.3,472.8 643.6,473.6 643.9,472.8 644.3,473.0 644.6,473.2 645.0,473.6 645.3,473.3 645.6,472.9 646.0,473.7 646.3,474.0 646.7,474.0 647.0,472.9 647.3,473.4 647.7,472.8 648.0,472.3 648.4,472.8 648.7,472.6 649.0,472.5 649.4,473.0 649.7,473.0 650.1,472.4 650.4,471.9 650.7,473.8 651.1,473.8 651.4,472.9 651.8,473.2 652.1,472.4 652.4,473.2 652.8,472.7 653.1,473.5 653.5,473.8 653.8,473.9 654.1,473.2 654.5,474.1 654.8,473.2 655.2,474.1 655.5,473.2 655.8,474.2 656.2,472.7 656.5,472.9 656.9,472.9 657.2,471.9 657.5,473.2 657.9,472.2 658.2,473.4 658.6,472.3 658.9,473.1 659.2,473.2 659.6,473.6 659.9,472.9 660.3,472.7 660.6,474.1 660.9,473.2 661.3,474.4 661.6,473.2 662.0,473.4 662.3,473.4 662.6,474.2 663.0,473.3 663.3,474.2 663.7,473.6 664.0,473.7 664.3,474.1 664.7,472.7 665.0,473.8 665.4,473.5 665.7,472.9 666.0,472.3 666.4,474.0 666.7,473.4 667.1,473.9 667.4,473.4 667.7,473.5 668.1,473.5 668.4,474.5 668.8,473.5 669.1,474.5 669.4,473.6 669.8,473.5 670.1,474.3 670.5,473.5 670.8,473.8 671.1,473.9 671.5,473.9 671.8,473.5 672.2,474.6 672.5,474.7 672.8,473.8 673.2,473.3 673.5,474.2 673.9,473.7" fill="none" stroke="#555555" stroke-width="1.1" stroke-linejoin="round"/><circle cx="173.40" cy="74.10" r="3.45" fill="#fff" stroke="#1a1a1a" stroke-width="0.95"/><path d="M177.00 74.10L179.90 74.10M176.16 76.86L178.28 78.98M173.40 77.70L173.40 80.60M170.64 76.86L168.52 78.98M169.80 74.10L166.90 74.10M170.64 71.34L168.52 69.22M173.40 70.50L173.40 67.60M176.16 71.34L178.28 69.22" stroke="#1a1a1a" stroke-width="1.05"/><path d="M193.6 63.4L203.2 63.4L198.4 73.4Z" fill="#000"/><path d="M208.9 52.7L218.9 57.7L208.9 62.7Z" fill="#000"/><circle cx="231.50" cy="50.40" r="3.45" fill="#fff" stroke="#1a1a1a" stroke-width="0.95"/><path d="M235.10 50.40L238.00 50.40M234.26 53.16L236.38 55.28M231.50 54.00L231.50 56.90M228.74 53.16L226.62 55.28M227.90 50.40L225.00 50.40M228.74 47.64L226.62 45.52M231.50 46.80L231.50 43.90M234.26 47.64L236.38 45.52" stroke="#1a1a1a" stroke-width="1.05"/><circle cx="249.40" cy="44.40" r="3.45" fill="#fff" stroke="#1a1a1a" stroke-width="0.95"/><path d="M253.00 44.40L255.90 44.40M252.16 47.16L254.28 49.28M249.40 48.00L249.40 50.90M246.64 47.16L244.52 49.28M245.80 44.40L242.90 44.40M246.64 41.64L244.52 39.52M249.40 40.80L249.40 37.90M252.16 41.64L254.28 39.52" stroke="#1a1a1a" stroke-width="1.05"/><circle cx="312.60" cy="83.40" r="3.45" fill="#fff" stroke="#1a1a1a" stroke-width="0.95"/><path d="M316.20 83.40L319.10 83.40M315.36 86.16L317.48 88.28M312.60 87.00L312.60 89.90M309.84 86.16L307.72 88.28M309.00 83.40L306.10 83.40M309.84 80.64L307.72 78.52M312.60 79.80L312.60 76.90M315.36 80.64L317.48 78.52" stroke="#1a1a1a" stroke-width="1.05"/><path d="M315.8 73.2L325.8 78.2L315.8 83.2Z" fill="#000"/><circle cx="364.40" cy="75.60" r="3.45" fill="#fff" stroke="#1a1a1a" stroke-width="0.95"/><path d="M368.00 75.60L370.90 75.60M367.16 78.36L369.28 80.48M364.40 79.20L364.40 82.10M361.64 78.36L359.52 80.48M360.80 75.60L357.90 75.60M361.64 72.84L359.52 70.72M364.40 72.00L364.40 69.10M367.16 72.84L369.28 70.72" stroke="#1a1a1a" stroke-width="1.05"/><path d="M401.8 83.2L411.8 88.2L401.8 93.2Z" fill="#000"/><path d="M192.5 136.0L202.1 136.0L197.3 146.0Z" fill="#000"/><path d="M208.9 125.1L218.9 130.1L208.9 135.1Z" fill="#000"/><path d="M221.40 117.20L224.50 121.90L221.40 126.60L218.30 121.90Z" fill="#fff" stroke="#1a1a1a" stroke-width="1.05"/><circle cx="234.60" cy="128.50" r="3.45" fill="#fff" stroke="#1a1a1a" stroke-width="0.95"/><path d="M238.20 128.50L241.10 128.50M237.36 131.26L239.48 133.38M234.60 132.10L234.60 135.00M231.84 131.26L229.72 133.38M231.00 128.50L228.10 128.50M231.84 125.74L229.72 123.62M234.60 124.90L234.60 122.00M237.36 125.74L239.48 123.62" stroke="#1a1a1a" stroke-width="1.05"/><circle cx="248.50" cy="131.50" r="3.45" fill="#fff" stroke="#1a1a1a" stroke-width="0.95"/><path d="M252.10 131.50L255.00 131.50M251.26 134.26L253.38 136.38M248.50 135.10L248.50 138.00M245.74 134.26L243.62 136.38M244.90 131.50L242.00 131.50M245.74 128.74L243.62 126.62M248.50 127.90L248.50 125.00M251.26 128.74L253.38 126.62" stroke="#1a1a1a" stroke-width="1.05"/><circle cx="314.30" cy="162.60" r="3.45" fill="#fff" stroke="#1a1a1a" stroke-width="0.95"/><path d="M317.90 162.60L320.80 162.60M317.06 165.36L319.18 167.48M314.30 166.20L314.30 169.10M311.54 165.36L309.42 167.48M310.70 162.60L307.80 162.60M311.54 159.84L309.42 157.72M314.30 159.00L314.30 156.10M317.06 159.84L319.18 157.72" stroke="#1a1a1a" stroke-width="1.05"/><path d="M318.0 145.7L328.0 150.7L318.0 155.7Z" fill="#000"/><circle cx="366.50" cy="149.90" r="3.45" fill="#fff" stroke="#1a1a1a" stroke-width="0.95"/><path d="M370.10 149.90L373.00 149.90M369.26 152.66L371.38 154.78M366.50 153.50L366.50 156.40M363.74 152.66L361.62 154.78M362.90 149.90L360.00 149.90M363.74 147.14L361.62 145.02M366.50 146.30L366.50 143.40M369.26 147.14L371.38 145.02" stroke="#1a1a1a" stroke-width="1.05"/><path d="M403.0 157.8L413.0 162.8L403.0 167.8Z" fill="#000"/><circle cx="157.50" cy="246.00" r="3.45" fill="#fff" stroke="#1a1a1a" stroke-width="0.95"/><path d="M161.10 246.00L164.00 246.00M160.26 248.76L162.38 250.88M157.50 249.60L157.50 252.50M154.74 248.76L152.62 250.88M153.90 246.00L151.00 246.00M154.74 243.24L152.62 241.12M157.50 242.40L157.50 239.50M160.26 243.24L162.38 241.12" stroke="#1a1a1a" stroke-width="1.05"/><circle cx="175.80" cy="247.60" r="3.45" fill="#fff" stroke="#1a1a1a" stroke-width="0.95"/><path d="M179.40 247.60L182.30 247.60M178.56 250.36L180.68 252.48M175.80 251.20L175.80 254.10M173.04 250.36L170.92 252.48M172.20 247.60L169.30 247.60M173.04 244.84L170.92 242.72M175.80 244.00L175.80 241.10M178.56 244.84L180.68 242.72" stroke="#1a1a1a" stroke-width="1.05"/><path d="M209.2 224.9L219.2 229.9L209.2 234.9Z" fill="#000"/><circle cx="230.70" cy="222.60" r="3.45" fill="#fff" stroke="#1a1a1a" stroke-width="0.95"/><path d="M234.30 222.60L237.20 222.60M233.46 225.36L235.58 227.48M230.70 226.20L230.70 229.10M227.94 225.36L225.82 227.48M227.10 222.60L224.20 222.60M227.94 219.84L225.82 217.72M230.70 219.00L230.70 216.10M233.46 219.84L235.58 217.72" stroke="#1a1a1a" stroke-width="1.05"/><circle cx="251.30" cy="224.80" r="3.45" fill="#fff" stroke="#1a1a1a" stroke-width="0.95"/><path d="M254.90 224.80L257.80 224.80M254.06 227.56L256.18 229.68M251.30 228.40L251.30 231.30M248.54 227.56L246.42 229.68M247.70 224.80L244.80 224.80M248.54 222.04L246.42 219.92M251.30 221.20L251.30 218.30M254.06 222.04L256.18 219.92" stroke="#1a1a1a" stroke-width="1.05"/><circle cx="314.90" cy="257.50" r="3.45" fill="#fff" stroke="#1a1a1a" stroke-width="0.95"/><path d="M318.50 257.50L321.40 257.50M317.66 260.26L319.78 262.38M314.90 261.10L314.90 264.00M312.14 260.26L310.02 262.38M311.30 257.50L308.40 257.50M312.14 254.74L310.02 252.62M314.90 253.90L314.90 251.00M317.66 254.74L319.78 252.62" stroke="#1a1a1a" stroke-width="1.05"/><path d="M318.0 241.8L328.0 246.8L318.0 251.8Z" fill="#000"/><circle cx="366.50" cy="253.00" r="3.45" fill="#fff" stroke="#1a1a1a" stroke-width="0.95"/><path d="M370.10 253.00L373.00 253.00M369.26 255.76L371.38 257.88M366.50 256.60L366.50 259.50M363.74 255.76L361.62 257.88M362.90 253.00L360.00 253.00M363.74 250.24L361.62 248.12M366.50 249.40L366.50 246.50M369.26 250.24L371.38 248.12" stroke="#1a1a1a" stroke-width="1.05"/><path d="M405.0 254.6L415.0 259.6L405.0 264.6Z" fill="#000"/><circle cx="157.50" cy="321.50" r="3.45" fill="#fff" stroke="#1a1a1a" stroke-width="0.95"/><path d="M161.10 321.50L164.00 321.50M160.26 324.26L162.38 326.38M157.50 325.10L157.50 328.00M154.74 324.26L152.62 326.38M153.90 321.50L151.00 321.50M154.74 318.74L152.62 316.62M157.50 317.90L157.50 315.00M160.26 318.74L162.38 316.62" stroke="#1a1a1a" stroke-width="1.05"/><circle cx="173.10" cy="319.50" r="3.45" fill="#fff" stroke="#1a1a1a" stroke-width="0.95"/><path d="M176.70 319.50L179.60 319.50M175.86 322.26L177.98 324.38M173.10 323.10L173.10 326.00M170.34 322.26L168.22 324.38M169.50 319.50L166.60 319.50M170.34 316.74L168.22 314.62M173.10 315.90L173.10 313.00M175.86 316.74L177.98 314.62" stroke="#1a1a1a" stroke-width="1.05"/><path d="M191.1 313.1L200.7 313.1L195.9 323.1Z" fill="#000"/><path d="M207.4 296.8L217.4 301.8L207.4 306.8Z" fill="#000"/><path d="M221.50 309.80L224.60 314.50L221.50 319.20L218.40 314.50Z" fill="#fff" stroke="#1a1a1a" stroke-width="1.05"/><circle cx="232.30" cy="298.80" r="3.45" fill="#fff" stroke="#1a1a1a" stroke-width="0.95"/><path d="M235.90 298.80L238.80 298.80M235.06 301.56L237.18 303.68M232.30 302.40L232.30 305.30M229.54 301.56L227.42 303.68M228.70 298.80L225.80 298.80M229.54 296.04L227.42 293.92M232.30 295.20L232.30 292.30M235.06 296.04L237.18 293.92" stroke="#1a1a1a" stroke-width="1.05"/><circle cx="249.70" cy="301.20" r="3.45" fill="#fff" stroke="#1a1a1a" stroke-width="0.95"/><path d="M253.30 301.20L256.20 301.20M252.46 303.96L254.58 306.08M249.70 304.80L249.70 307.70M246.94 303.96L244.82 306.08M246.10 301.20L243.20 301.20M246.94 298.44L244.82 296.32M249.70 297.60L249.70 294.70M252.46 298.44L254.58 296.32" stroke="#1a1a1a" stroke-width="1.05"/><circle cx="312.20" cy="334.30" r="3.45" fill="#fff" stroke="#1a1a1a" stroke-width="0.95"/><path d="M315.80 334.30L318.70 334.30M314.96 337.06L317.08 339.18M312.20 337.90L312.20 340.80M309.44 337.06L307.32 339.18M308.60 334.30L305.70 334.30M309.44 331.54L307.32 329.42M312.20 330.70L312.20 327.80M314.96 331.54L317.08 329.42" stroke="#1a1a1a" stroke-width="1.05"/><path d="M314.6 320.9L324.6 325.9L314.6 330.9Z" fill="#000"/><circle cx="364.10" cy="328.20" r="3.45" fill="#fff" stroke="#1a1a1a" stroke-width="0.95"/><path d="M367.70 328.20L370.60 328.20M366.86 330.96L368.98 333.08M364.10 331.80L364.10 334.70M361.34 330.96L359.22 333.08M360.50 328.20L357.60 328.20M361.34 325.44L359.22 323.32M364.10 324.60L364.10 321.70M366.86 325.44L368.98 323.32" stroke="#1a1a1a" stroke-width="1.05"/><path d="M405.0 328.7L415.0 333.7L405.0 338.7Z" fill="#000"/><rect x="47.5" y="389.4" width="6" height="6" fill="#fff" stroke="#333" stroke-width="0.9"/><rect x="79.4" y="423.6" width="6" height="6" fill="#fff" stroke="#333" stroke-width="0.9"/><rect x="107.0" y="429.7" width="6" height="6" fill="#fff" stroke="#333" stroke-width="0.9"/><path d="M192.4 420.2L202.0 420.2L197.2 430.2Z" fill="#000"/><path d="M203.8 362.2L213.4 362.2L208.6 372.2Z" fill="#000"/><path d="M208.3 394.8L218.3 399.8L208.3 404.8Z" fill="#000"/><path d="M221.00 408.40L224.10 413.10L221.00 417.80L217.90 413.10Z" fill="#fff" stroke="#1a1a1a" stroke-width="1.05"/><rect x="225.4" y="442.0" width="6" height="6" fill="#fff" stroke="#333" stroke-width="0.9"/><rect x="236.2" y="418.9" width="6" height="6" fill="#fff" stroke="#333" stroke-width="0.9"/><rect x="265.6" y="434.5" width="6" height="6" fill="#fff" stroke="#333" stroke-width="0.9"/><path d="M316.1 428.0L326.1 433.0L316.1 438.0Z" fill="#000"/><path d="M403.0 448.2L413.0 453.2L403.0 458.2Z" fill="#000"/>
<path d="M1 0V500M0 1.5H676.6M675.5 0.4V501M0 500H676.6" fill="none" stroke="#000" stroke-width="2.1"/><path d="M1.00 500V504.9M45.97 500V509.5M90.93 500V504.9M135.90 500V509.5M180.86 500V504.9M225.83 500V509.5M270.79 500V504.9M315.75 500V509.5M360.72 500V504.9M405.69 500V509.5M450.65 500V504.9M495.62 500V509.5M540.58 500V504.9M585.55 500V509.5M630.51 500V504.9M675.48 500V509.5" stroke="#000" stroke-width="2"/><g font-size="21"><text x="46.3" y="532.8" text-anchor="middle">10</text><text x="136.2" y="532.8" text-anchor="middle">20</text><text x="226.1" y="532.8" text-anchor="middle">30</text><text x="316.1" y="532.8" text-anchor="middle">40</text><text x="406.0" y="532.8" text-anchor="middle">50</text><text x="495.9" y="532.8" text-anchor="middle">60</text><text x="585.8" y="532.8" text-anchor="middle">70</text><text x="675.8" y="532.8" text-anchor="middle">80</text></g><text x="328.4" y="572.8" text-anchor="middle" font-size="26">2 theta (degree)</text><g font-size="18.2"><text x="11.8" y="53.7">SMBK4</text><text x="12.0" y="130.3">SMBK3</text><text x="12.8" y="221.7">SMBK2</text><text x="11.4" y="296.7">SMBK1</text><text x="9.1" y="387.4">SMB</text></g>
<path d="M533.70 12.30L536.80 17.00L533.70 21.70L530.60 17.00Z" fill="#fff" stroke="#1a1a1a" stroke-width="1.05"/><text x="541" y="21.7" font-size="14">CaCO<tspan font-size="9.2" dy="3.5">3</tspan></text><path d="M594 11L604.4 16.1L594 21.2Z" fill="#000"/><text x="610" y="21.3" font-size="14">KCl</text><path d="M529.1 41.6L539.1 41.6L534.1 51.1Z" fill="#000"/><text x="544.5" y="51.0" font-size="14">SiO<tspan font-size="9.2" dy="3.5">2</tspan></text><rect x="585.5" y="44" width="6" height="6" fill="#fff" stroke="#333" stroke-width="0.9"/><text x="596.5" y="50.9" font-size="14">Ca<tspan font-size="9.2" dy="3.5">7</tspan><tspan dy="-3.5">Mg</tspan><tspan font-size="9.2" dy="3.5">2</tspan><tspan dy="-3.5">P</tspan><tspan font-size="9.2" dy="3.5">6</tspan><tspan dy="-3.5">O</tspan><tspan font-size="9.2" dy="3.5">24</tspan></text><circle cx="534.40" cy="71.40" r="3.45" fill="#fff" stroke="#1a1a1a" stroke-width="0.95"/><path d="M538.00 71.40L540.90 71.40M537.16 74.16L539.28 76.28M534.40 75.00L534.40 77.90M531.64 74.16L529.52 76.28M530.80 71.40L527.90 71.40M531.64 68.64L529.52 66.52M534.40 67.80L534.40 64.90M537.16 68.64L539.28 66.52" stroke="#1a1a1a" stroke-width="1.05"/><text x="544.5" y="76.3" font-size="14">CaKPO<tspan font-size="13.5" dy="5.5">4</tspan></text>
</svg>
</body></html>
